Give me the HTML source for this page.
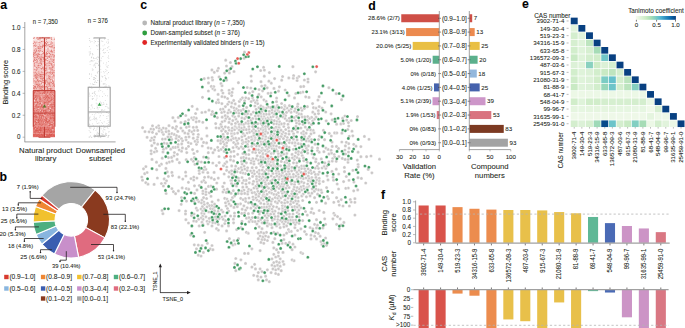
<!DOCTYPE html>
<html><head><meta charset="utf-8"><style>
html,body{margin:0;padding:0;background:#fff;}
svg{display:block;font-family:"Liberation Sans",sans-serif;}
text{stroke:#231f20;stroke-width:0.07px;}
</style></head><body>
<svg width="685" height="328" viewBox="0 0 685 328" fill="#231f20">
<rect width="685" height="328" fill="#fff"/>
<text x="0.3" y="8.8" font-size="12.3" fill="#000" font-weight="bold">a</text>
<line x1="24.8" y1="22" x2="24.8" y2="142.2" stroke="#8c8c8c" stroke-width="0.8"/>
<line x1="24.8" y1="141.9" x2="115.6" y2="141.9" stroke="#8c8c8c" stroke-width="0.8"/>
<line x1="22.6" y1="137.2" x2="24.8" y2="137.2" stroke="#8c8c8c" stroke-width="0.6"/>
<text x="20.6" y="139.47" font-size="6.3" text-anchor="end">0</text>
<line x1="22.6" y1="115.26" x2="24.8" y2="115.26" stroke="#8c8c8c" stroke-width="0.6"/>
<text x="20.6" y="117.53" font-size="6.3" text-anchor="end">0.2</text>
<line x1="22.6" y1="93.32" x2="24.8" y2="93.32" stroke="#8c8c8c" stroke-width="0.6"/>
<text x="20.6" y="95.59" font-size="6.3" text-anchor="end">0.4</text>
<line x1="22.6" y1="71.38" x2="24.8" y2="71.38" stroke="#8c8c8c" stroke-width="0.6"/>
<text x="20.6" y="73.65" font-size="6.3" text-anchor="end">0.6</text>
<line x1="22.6" y1="49.44" x2="24.8" y2="49.44" stroke="#8c8c8c" stroke-width="0.6"/>
<text x="20.6" y="51.71" font-size="6.3" text-anchor="end">0.8</text>
<line x1="22.6" y1="27.5" x2="24.8" y2="27.5" stroke="#8c8c8c" stroke-width="0.6"/>
<text x="20.6" y="29.77" font-size="6.3" text-anchor="end">1.0</text>
<text x="8.4" y="82.2" font-size="7.4" text-anchor="middle" transform="rotate(-90 8.4 82.2)">Binding score</text>
<text x="45.35" y="23.68" font-size="6.6" text-anchor="middle" textLength="25" lengthAdjust="spacingAndGlyphs">n = 7,350</text>
<text x="97.8" y="23.28" font-size="6.6" text-anchor="middle" textLength="20.2" lengthAdjust="spacingAndGlyphs">n = 376</text>
<text x="45.7" y="152.61" font-size="7.8" text-anchor="middle">Natural product</text>
<text x="45.7" y="160.61" font-size="7.8" text-anchor="middle">library</text>
<text x="100.5" y="152.61" font-size="7.8" text-anchor="middle">Downsampled</text>
<text x="100.5" y="160.61" font-size="7.8" text-anchor="middle">subset</text>
<rect x="32.9" y="133.36" width="22.1" height="3.84" fill="#e1625a" opacity="0.9"/>
<rect x="32.9" y="126.23" width="22.1" height="7.13" fill="#e1625a" opacity="0.82"/>
<rect x="32.9" y="113.07" width="22.1" height="13.16" fill="#e1625a" opacity="0.72"/>
<rect x="32.9" y="90.03" width="22.1" height="23.04" fill="#e1625a" opacity="0.65"/>
<rect x="32.9" y="71.38" width="22.1" height="18.65" fill="#e1625a" opacity="0.4"/>
<rect x="32.9" y="49.44" width="22.1" height="21.94" fill="#e1625a" opacity="0.34"/>
<rect x="32.9" y="40.66" width="22.1" height="8.78" fill="#e1625a" opacity="0.28"/>
<rect x="32.9" y="36.82" width="22.1" height="3.84" fill="#e1625a" opacity="0.16"/>
<path d="M43.7 136.1h1.0v1.0h-1.0zM45.1 134.7h1.0v1.0h-1.0zM49.4 128.5h1.0v1.0h-1.0zM44.9 127.6h1.0v1.0h-1.0zM34.6 127.9h1.0v1.0h-1.0zM51.7 129.7h1.0v1.0h-1.0zM52.4 129.0h1.0v1.0h-1.0zM38.7 131.1h1.0v1.0h-1.0zM50.4 126.3h1.0v1.0h-1.0zM52.7 122.6h1.0v1.0h-1.0zM50.8 122.4h1.0v1.0h-1.0zM50.1 120.4h1.0v1.0h-1.0zM40.3 116.3h1.0v1.0h-1.0zM47.8 123.7h1.0v1.0h-1.0zM44.4 114.9h1.0v1.0h-1.0zM50.5 119.0h1.0v1.0h-1.0zM42.8 113.6h1.0v1.0h-1.0zM43.7 122.1h1.0v1.0h-1.0zM41.8 117.4h1.0v1.0h-1.0zM46.8 113.3h1.0v1.0h-1.0zM43.6 124.6h1.0v1.0h-1.0zM47.5 118.0h1.0v1.0h-1.0zM47.4 120.4h1.0v1.0h-1.0zM37.3 115.6h1.0v1.0h-1.0zM51.6 116.3h1.0v1.0h-1.0zM34.5 123.2h1.0v1.0h-1.0zM43.9 117.5h1.0v1.0h-1.0zM43.7 122.0h1.0v1.0h-1.0zM36.5 121.0h1.0v1.0h-1.0zM43.6 93.9h1.0v1.0h-1.0zM37.4 99.6h1.0v1.0h-1.0zM44.4 95.5h1.0v1.0h-1.0zM38.6 101.7h1.0v1.0h-1.0zM42.9 98.9h1.0v1.0h-1.0zM35.1 98.3h1.0v1.0h-1.0zM46.7 102.0h1.0v1.0h-1.0zM44.4 108.6h1.0v1.0h-1.0zM48.2 105.1h1.0v1.0h-1.0zM33.5 96.8h1.0v1.0h-1.0zM47.3 93.5h1.0v1.0h-1.0zM52.2 93.2h1.0v1.0h-1.0zM51.4 94.8h1.0v1.0h-1.0zM50.7 108.7h1.0v1.0h-1.0zM40.0 109.6h1.0v1.0h-1.0zM36.3 108.7h1.0v1.0h-1.0zM41.0 99.7h1.0v1.0h-1.0zM35.4 103.3h1.0v1.0h-1.0zM38.6 104.7h1.0v1.0h-1.0zM49.8 103.3h1.0v1.0h-1.0zM33.1 111.0h1.0v1.0h-1.0zM52.3 104.2h1.0v1.0h-1.0zM40.9 102.4h1.0v1.0h-1.0zM51.5 100.2h1.0v1.0h-1.0zM49.3 103.2h1.0v1.0h-1.0zM41.8 110.6h1.0v1.0h-1.0zM41.5 103.4h1.0v1.0h-1.0zM34.0 100.4h1.0v1.0h-1.0zM33.7 105.5h1.0v1.0h-1.0zM32.9 91.0h1.0v1.0h-1.0zM35.2 93.1h1.0v1.0h-1.0zM43.6 97.9h1.0v1.0h-1.0zM38.6 111.7h1.0v1.0h-1.0zM52.1 104.5h1.0v1.0h-1.0zM49.8 108.1h1.0v1.0h-1.0zM38.1 107.8h1.0v1.0h-1.0zM38.0 102.4h1.0v1.0h-1.0zM40.4 93.5h1.0v1.0h-1.0zM49.3 110.2h1.0v1.0h-1.0zM39.5 109.4h1.0v1.0h-1.0zM40.2 104.5h1.0v1.0h-1.0zM53.9 107.0h1.0v1.0h-1.0zM34.1 99.6h1.0v1.0h-1.0zM40.8 96.5h1.0v1.0h-1.0zM47.3 76.6h1.0v1.0h-1.0zM52.6 78.9h1.0v1.0h-1.0zM42.9 71.8h1.0v1.0h-1.0zM33.3 73.2h1.0v1.0h-1.0zM46.1 83.1h1.0v1.0h-1.0zM53.0 79.0h1.0v1.0h-1.0zM47.8 77.4h1.0v1.0h-1.0zM34.5 78.8h1.0v1.0h-1.0zM47.7 85.6h1.0v1.0h-1.0zM53.0 86.1h1.0v1.0h-1.0zM44.8 81.1h1.0v1.0h-1.0zM43.5 79.8h1.0v1.0h-1.0zM47.3 81.5h1.0v1.0h-1.0zM51.0 79.3h1.0v1.0h-1.0zM42.8 86.1h1.0v1.0h-1.0zM47.2 80.6h1.0v1.0h-1.0zM44.8 85.6h1.0v1.0h-1.0zM45.7 76.0h1.0v1.0h-1.0zM39.4 82.1h1.0v1.0h-1.0zM33.9 79.5h1.0v1.0h-1.0zM51.7 75.5h1.0v1.0h-1.0zM42.3 83.7h1.0v1.0h-1.0zM52.4 83.7h1.0v1.0h-1.0zM46.1 78.2h1.0v1.0h-1.0zM42.1 82.7h1.0v1.0h-1.0zM40.4 85.2h1.0v1.0h-1.0zM33.1 84.6h1.0v1.0h-1.0zM48.6 76.8h1.0v1.0h-1.0zM33.2 77.3h1.0v1.0h-1.0zM45.3 85.3h1.0v1.0h-1.0zM51.3 75.1h1.0v1.0h-1.0zM34.6 73.5h1.0v1.0h-1.0zM53.8 82.8h1.0v1.0h-1.0zM35.6 83.6h1.0v1.0h-1.0zM53.1 82.1h1.0v1.0h-1.0zM37.8 88.4h1.0v1.0h-1.0zM47.7 74.6h1.0v1.0h-1.0zM49.1 80.3h1.0v1.0h-1.0zM45.0 77.8h1.0v1.0h-1.0zM39.1 78.8h1.0v1.0h-1.0zM44.0 79.5h1.0v1.0h-1.0zM51.2 72.7h1.0v1.0h-1.0zM37.1 87.9h1.0v1.0h-1.0zM45.7 82.3h1.0v1.0h-1.0zM46.2 75.7h1.0v1.0h-1.0zM41.2 75.1h1.0v1.0h-1.0zM36.1 88.8h1.0v1.0h-1.0zM48.6 86.9h1.0v1.0h-1.0zM32.9 83.8h1.0v1.0h-1.0zM39.4 80.2h1.0v1.0h-1.0zM47.1 71.9h1.0v1.0h-1.0zM40.7 81.2h1.0v1.0h-1.0zM51.3 80.4h1.0v1.0h-1.0zM39.6 82.0h1.0v1.0h-1.0zM45.2 76.5h1.0v1.0h-1.0zM45.8 57.5h1.0v1.0h-1.0zM47.9 55.6h1.0v1.0h-1.0zM42.1 66.4h1.0v1.0h-1.0zM34.9 58.0h1.0v1.0h-1.0zM36.1 60.6h1.0v1.0h-1.0zM48.4 70.1h1.0v1.0h-1.0zM48.8 52.5h1.0v1.0h-1.0zM42.1 60.8h1.0v1.0h-1.0zM46.4 64.1h1.0v1.0h-1.0zM53.4 69.2h1.0v1.0h-1.0zM37.3 52.8h1.0v1.0h-1.0zM53.4 52.8h1.0v1.0h-1.0zM53.3 51.9h1.0v1.0h-1.0zM45.2 52.2h1.0v1.0h-1.0zM35.7 56.4h1.0v1.0h-1.0zM49.6 64.1h1.0v1.0h-1.0zM39.6 52.3h1.0v1.0h-1.0zM40.5 53.1h1.0v1.0h-1.0zM37.9 59.8h1.0v1.0h-1.0zM43.2 68.8h1.0v1.0h-1.0zM34.8 60.6h1.0v1.0h-1.0zM44.8 52.4h1.0v1.0h-1.0zM40.5 52.3h1.0v1.0h-1.0zM51.8 56.7h1.0v1.0h-1.0zM34.3 59.4h1.0v1.0h-1.0zM44.1 68.0h1.0v1.0h-1.0zM48.1 53.8h1.0v1.0h-1.0zM52.1 49.5h1.0v1.0h-1.0zM47.6 50.3h1.0v1.0h-1.0zM50.2 53.4h1.0v1.0h-1.0zM49.7 66.5h1.0v1.0h-1.0zM49.2 51.7h1.0v1.0h-1.0zM41.3 51.6h1.0v1.0h-1.0zM48.1 70.3h1.0v1.0h-1.0zM43.9 63.1h1.0v1.0h-1.0zM47.0 52.4h1.0v1.0h-1.0zM40.7 56.7h1.0v1.0h-1.0zM48.7 58.1h1.0v1.0h-1.0zM40.7 60.9h1.0v1.0h-1.0zM37.2 50.8h1.0v1.0h-1.0zM37.9 49.9h1.0v1.0h-1.0zM47.0 59.0h1.0v1.0h-1.0zM45.9 61.3h1.0v1.0h-1.0zM34.0 66.5h1.0v1.0h-1.0zM50.2 49.6h1.0v1.0h-1.0zM42.0 65.9h1.0v1.0h-1.0zM41.7 67.4h1.0v1.0h-1.0zM47.6 63.3h1.0v1.0h-1.0zM52.0 65.8h1.0v1.0h-1.0zM45.2 50.4h1.0v1.0h-1.0zM42.5 63.9h1.0v1.0h-1.0zM43.9 61.7h1.0v1.0h-1.0zM40.3 67.1h1.0v1.0h-1.0zM38.1 62.8h1.0v1.0h-1.0zM42.1 52.6h1.0v1.0h-1.0zM33.3 52.2h1.0v1.0h-1.0zM39.0 59.3h1.0v1.0h-1.0zM33.5 50.8h1.0v1.0h-1.0zM49.7 70.0h1.0v1.0h-1.0zM42.0 59.3h1.0v1.0h-1.0zM45.6 51.5h1.0v1.0h-1.0zM44.3 63.6h1.0v1.0h-1.0zM52.8 62.9h1.0v1.0h-1.0zM44.4 58.0h1.0v1.0h-1.0zM52.1 60.4h1.0v1.0h-1.0zM43.0 64.8h1.0v1.0h-1.0zM42.1 50.8h1.0v1.0h-1.0zM45.4 67.6h1.0v1.0h-1.0zM40.7 51.5h1.0v1.0h-1.0zM35.1 68.4h1.0v1.0h-1.0zM35.2 63.1h1.0v1.0h-1.0zM40.5 45.7h1.0v1.0h-1.0zM45.4 47.6h1.0v1.0h-1.0zM42.0 45.0h1.0v1.0h-1.0zM41.8 46.5h1.0v1.0h-1.0zM46.1 48.0h1.0v1.0h-1.0zM35.9 41.7h1.0v1.0h-1.0zM39.1 45.5h1.0v1.0h-1.0zM46.4 42.2h1.0v1.0h-1.0zM38.6 45.3h1.0v1.0h-1.0zM38.5 47.1h1.0v1.0h-1.0zM35.1 46.7h1.0v1.0h-1.0zM36.1 46.2h1.0v1.0h-1.0zM49.4 48.0h1.0v1.0h-1.0zM51.9 40.9h1.0v1.0h-1.0zM46.8 47.7h1.0v1.0h-1.0zM49.2 44.2h1.0v1.0h-1.0zM48.7 42.9h1.0v1.0h-1.0zM49.8 43.8h1.0v1.0h-1.0zM53.4 40.9h1.0v1.0h-1.0zM45.2 41.7h1.0v1.0h-1.0zM49.1 48.2h1.0v1.0h-1.0zM43.3 47.2h1.0v1.0h-1.0zM37.8 40.9h1.0v1.0h-1.0zM49.8 43.9h1.0v1.0h-1.0zM34.7 45.9h1.0v1.0h-1.0zM51.9 41.3h1.0v1.0h-1.0zM45.8 43.4h1.0v1.0h-1.0zM34.4 37.5h1.0v1.0h-1.0zM43.9 38.9h1.0v1.0h-1.0zM44.6 36.9h1.0v1.0h-1.0zM53.0 38.1h1.0v1.0h-1.0zM44.3 37.4h1.0v1.0h-1.0zM38.0 37.4h1.0v1.0h-1.0zM45.7 39.4h1.0v1.0h-1.0zM38.5 37.8h1.0v1.0h-1.0zM39.0 36.9h1.0v1.0h-1.0zM33.1 39.0h1.0v1.0h-1.0z" fill="#fff" opacity="0.6"/>
<path d="M35.7 135.8h0.9v0.9h-0.9zM49.0 134.1h0.9v0.9h-0.9zM43.4 134.6h0.9v0.9h-0.9zM46.6 135.6h0.9v0.9h-0.9zM34.9 133.4h0.9v0.9h-0.9zM50.5 134.6h0.9v0.9h-0.9zM49.0 133.4h0.9v0.9h-0.9zM42.3 135.4h0.9v0.9h-0.9zM37.7 136.0h0.9v0.9h-0.9zM51.9 133.4h0.9v0.9h-0.9zM33.4 134.9h0.9v0.9h-0.9zM52.7 134.4h0.9v0.9h-0.9zM37.5 134.6h0.9v0.9h-0.9zM33.5 134.0h0.9v0.9h-0.9zM42.1 134.8h0.9v0.9h-0.9zM37.8 134.0h0.9v0.9h-0.9zM37.5 134.7h0.9v0.9h-0.9zM39.0 133.4h0.9v0.9h-0.9zM50.6 134.9h0.9v0.9h-0.9zM46.5 133.9h0.9v0.9h-0.9zM53.8 135.8h0.9v0.9h-0.9zM35.5 134.3h0.9v0.9h-0.9zM48.1 135.4h0.9v0.9h-0.9zM52.7 134.6h0.9v0.9h-0.9zM50.4 135.3h0.9v0.9h-0.9zM39.3 135.0h0.9v0.9h-0.9zM51.5 135.8h0.9v0.9h-0.9zM43.6 135.0h0.9v0.9h-0.9zM33.6 134.0h0.9v0.9h-0.9zM49.7 134.5h0.9v0.9h-0.9zM36.6 134.9h0.9v0.9h-0.9zM47.7 135.3h0.9v0.9h-0.9zM40.8 134.6h0.9v0.9h-0.9zM43.6 135.6h0.9v0.9h-0.9zM43.9 134.5h0.9v0.9h-0.9zM43.2 133.4h0.9v0.9h-0.9zM33.8 135.4h0.9v0.9h-0.9zM53.6 135.0h0.9v0.9h-0.9zM41.2 133.8h0.9v0.9h-0.9zM43.5 136.1h0.9v0.9h-0.9zM49.2 134.9h0.9v0.9h-0.9zM51.1 134.0h0.9v0.9h-0.9zM38.6 129.6h0.9v0.9h-0.9zM53.1 126.3h0.9v0.9h-0.9zM49.4 131.3h0.9v0.9h-0.9zM51.6 130.8h0.9v0.9h-0.9zM50.0 129.4h0.9v0.9h-0.9zM44.7 128.8h0.9v0.9h-0.9zM34.1 131.6h0.9v0.9h-0.9zM44.9 127.5h0.9v0.9h-0.9zM43.5 129.2h0.9v0.9h-0.9zM40.4 128.4h0.9v0.9h-0.9zM44.3 130.1h0.9v0.9h-0.9zM45.8 129.0h0.9v0.9h-0.9zM33.5 127.6h0.9v0.9h-0.9zM36.6 129.8h0.9v0.9h-0.9zM51.1 131.1h0.9v0.9h-0.9zM49.7 131.2h0.9v0.9h-0.9zM38.3 131.4h0.9v0.9h-0.9zM47.1 126.7h0.9v0.9h-0.9zM33.3 126.3h0.9v0.9h-0.9zM48.8 127.8h0.9v0.9h-0.9zM35.2 130.1h0.9v0.9h-0.9zM40.2 126.7h0.9v0.9h-0.9zM36.3 129.5h0.9v0.9h-0.9zM36.4 127.9h0.9v0.9h-0.9zM47.9 129.0h0.9v0.9h-0.9zM39.7 129.1h0.9v0.9h-0.9zM33.4 128.6h0.9v0.9h-0.9zM41.8 127.4h0.9v0.9h-0.9zM35.2 131.7h0.9v0.9h-0.9zM43.7 127.5h0.9v0.9h-0.9zM45.7 131.2h0.9v0.9h-0.9zM33.3 126.3h0.9v0.9h-0.9zM36.0 130.6h0.9v0.9h-0.9zM36.3 130.5h0.9v0.9h-0.9zM47.2 129.6h0.9v0.9h-0.9zM37.6 132.2h0.9v0.9h-0.9zM49.7 129.4h0.9v0.9h-0.9zM37.6 130.2h0.9v0.9h-0.9zM41.2 129.8h0.9v0.9h-0.9zM39.7 130.1h0.9v0.9h-0.9zM34.1 128.1h0.9v0.9h-0.9zM53.3 131.6h0.9v0.9h-0.9zM39.4 131.5h0.9v0.9h-0.9zM39.4 132.0h0.9v0.9h-0.9zM48.6 128.8h0.9v0.9h-0.9zM38.2 126.3h0.9v0.9h-0.9zM51.4 126.5h0.9v0.9h-0.9zM50.2 132.1h0.9v0.9h-0.9zM44.9 127.3h0.9v0.9h-0.9zM51.2 132.2h0.9v0.9h-0.9zM47.8 129.3h0.9v0.9h-0.9zM40.9 128.4h0.9v0.9h-0.9zM37.2 130.4h0.9v0.9h-0.9zM42.0 127.4h0.9v0.9h-0.9zM35.1 130.3h0.9v0.9h-0.9zM39.1 129.3h0.9v0.9h-0.9zM39.8 131.6h0.9v0.9h-0.9zM51.9 126.3h0.9v0.9h-0.9zM37.1 128.2h0.9v0.9h-0.9zM53.7 131.0h0.9v0.9h-0.9zM40.1 127.5h0.9v0.9h-0.9zM47.1 131.4h0.9v0.9h-0.9zM52.6 128.3h0.9v0.9h-0.9zM51.5 130.4h0.9v0.9h-0.9zM43.1 132.3h0.9v0.9h-0.9zM37.9 130.7h0.9v0.9h-0.9zM34.7 127.3h0.9v0.9h-0.9zM52.1 127.5h0.9v0.9h-0.9zM48.9 129.9h0.9v0.9h-0.9zM50.6 128.5h0.9v0.9h-0.9zM40.1 128.0h0.9v0.9h-0.9zM51.2 129.9h0.9v0.9h-0.9zM53.0 131.7h0.9v0.9h-0.9zM35.8 129.6h0.9v0.9h-0.9zM35.1 126.5h0.9v0.9h-0.9zM34.4 131.5h0.9v0.9h-0.9zM49.5 131.3h0.9v0.9h-0.9zM40.1 130.0h0.9v0.9h-0.9zM47.0 114.2h0.9v0.9h-0.9zM35.3 123.8h0.9v0.9h-0.9zM33.7 116.0h0.9v0.9h-0.9zM53.8 118.2h0.9v0.9h-0.9zM35.3 115.1h0.9v0.9h-0.9zM38.0 122.1h0.9v0.9h-0.9zM35.1 124.1h0.9v0.9h-0.9zM40.9 124.9h0.9v0.9h-0.9zM52.1 116.6h0.9v0.9h-0.9zM38.2 118.9h0.9v0.9h-0.9zM35.0 121.0h0.9v0.9h-0.9zM33.7 113.2h0.9v0.9h-0.9zM53.6 116.7h0.9v0.9h-0.9zM45.5 118.5h0.9v0.9h-0.9zM39.5 113.8h0.9v0.9h-0.9zM52.2 124.9h0.9v0.9h-0.9zM53.4 114.4h0.9v0.9h-0.9zM37.4 120.6h0.9v0.9h-0.9zM53.6 119.7h0.9v0.9h-0.9zM47.4 121.1h0.9v0.9h-0.9zM38.4 119.7h0.9v0.9h-0.9zM39.4 116.1h0.9v0.9h-0.9zM34.6 116.5h0.9v0.9h-0.9zM53.6 118.5h0.9v0.9h-0.9zM46.7 120.9h0.9v0.9h-0.9zM52.7 117.8h0.9v0.9h-0.9zM39.4 117.0h0.9v0.9h-0.9zM39.6 123.4h0.9v0.9h-0.9zM51.8 116.7h0.9v0.9h-0.9zM40.0 119.7h0.9v0.9h-0.9zM45.1 120.3h0.9v0.9h-0.9zM38.1 113.3h0.9v0.9h-0.9zM38.0 113.9h0.9v0.9h-0.9zM44.5 113.9h0.9v0.9h-0.9zM34.5 120.8h0.9v0.9h-0.9zM39.0 122.7h0.9v0.9h-0.9zM43.3 123.6h0.9v0.9h-0.9zM36.2 119.2h0.9v0.9h-0.9zM49.7 114.0h0.9v0.9h-0.9zM52.9 115.2h0.9v0.9h-0.9zM49.3 125.0h0.9v0.9h-0.9zM50.2 117.0h0.9v0.9h-0.9zM35.2 119.3h0.9v0.9h-0.9zM52.3 116.6h0.9v0.9h-0.9zM51.8 114.8h0.9v0.9h-0.9zM52.1 113.5h0.9v0.9h-0.9zM39.6 124.1h0.9v0.9h-0.9zM49.9 124.1h0.9v0.9h-0.9zM50.6 122.1h0.9v0.9h-0.9zM47.5 115.2h0.9v0.9h-0.9zM42.0 115.0h0.9v0.9h-0.9zM48.0 121.2h0.9v0.9h-0.9zM38.2 113.8h0.9v0.9h-0.9zM53.2 122.9h0.9v0.9h-0.9zM44.5 119.7h0.9v0.9h-0.9zM50.9 118.6h0.9v0.9h-0.9zM41.2 117.2h0.9v0.9h-0.9zM38.3 113.4h0.9v0.9h-0.9zM46.5 118.1h0.9v0.9h-0.9zM44.9 113.8h0.9v0.9h-0.9zM40.4 114.7h0.9v0.9h-0.9zM35.5 116.2h0.9v0.9h-0.9zM50.4 117.9h0.9v0.9h-0.9zM41.4 120.5h0.9v0.9h-0.9zM37.8 113.2h0.9v0.9h-0.9zM44.1 119.2h0.9v0.9h-0.9zM46.6 118.4h0.9v0.9h-0.9zM47.4 122.0h0.9v0.9h-0.9zM37.9 119.1h0.9v0.9h-0.9zM43.0 115.8h0.9v0.9h-0.9zM41.6 119.9h0.9v0.9h-0.9zM52.0 124.2h0.9v0.9h-0.9zM38.7 120.9h0.9v0.9h-0.9zM33.9 113.9h0.9v0.9h-0.9zM43.7 123.7h0.9v0.9h-0.9zM36.3 122.4h0.9v0.9h-0.9zM51.5 116.9h0.9v0.9h-0.9zM47.5 123.4h0.9v0.9h-0.9zM40.7 121.6h0.9v0.9h-0.9zM48.4 120.3h0.9v0.9h-0.9zM51.0 124.0h0.9v0.9h-0.9zM53.2 120.0h0.9v0.9h-0.9zM36.6 116.1h0.9v0.9h-0.9zM37.5 120.0h0.9v0.9h-0.9zM48.9 113.7h0.9v0.9h-0.9zM47.3 121.8h0.9v0.9h-0.9zM40.2 119.3h0.9v0.9h-0.9zM36.4 121.9h0.9v0.9h-0.9zM33.8 125.0h0.9v0.9h-0.9zM49.9 120.7h0.9v0.9h-0.9zM38.5 124.2h0.9v0.9h-0.9zM53.1 114.8h0.9v0.9h-0.9zM49.3 123.3h0.9v0.9h-0.9zM46.8 121.6h0.9v0.9h-0.9zM42.3 124.3h0.9v0.9h-0.9zM53.4 117.7h0.9v0.9h-0.9zM49.8 118.3h0.9v0.9h-0.9zM36.4 117.0h0.9v0.9h-0.9zM35.6 124.1h0.9v0.9h-0.9zM53.1 114.5h0.9v0.9h-0.9zM45.6 118.0h0.9v0.9h-0.9zM35.4 116.7h0.9v0.9h-0.9zM38.1 122.2h0.9v0.9h-0.9zM33.0 115.4h0.9v0.9h-0.9zM42.2 113.3h0.9v0.9h-0.9zM46.1 120.4h0.9v0.9h-0.9zM50.5 115.6h0.9v0.9h-0.9zM38.9 119.7h0.9v0.9h-0.9zM38.7 120.2h0.9v0.9h-0.9zM38.2 121.4h0.9v0.9h-0.9zM49.6 122.9h0.9v0.9h-0.9zM53.4 119.7h0.9v0.9h-0.9zM43.3 123.5h0.9v0.9h-0.9zM49.1 120.0h0.9v0.9h-0.9zM41.0 116.5h0.9v0.9h-0.9zM35.2 122.9h0.9v0.9h-0.9zM35.4 122.2h0.9v0.9h-0.9zM44.4 124.8h0.9v0.9h-0.9zM49.0 124.9h0.9v0.9h-0.9zM35.8 119.2h0.9v0.9h-0.9zM45.0 116.9h0.9v0.9h-0.9zM43.5 117.4h0.9v0.9h-0.9zM44.0 113.1h0.9v0.9h-0.9zM42.2 118.5h0.9v0.9h-0.9zM39.3 117.9h0.9v0.9h-0.9zM49.4 121.4h0.9v0.9h-0.9zM43.3 120.9h0.9v0.9h-0.9zM40.9 115.5h0.9v0.9h-0.9zM33.0 116.4h0.9v0.9h-0.9zM45.5 123.8h0.9v0.9h-0.9zM50.4 119.3h0.9v0.9h-0.9zM53.7 118.7h0.9v0.9h-0.9zM50.5 118.0h0.9v0.9h-0.9zM48.6 125.1h0.9v0.9h-0.9zM39.3 115.1h0.9v0.9h-0.9zM46.0 119.5h0.9v0.9h-0.9zM40.5 113.1h0.9v0.9h-0.9zM41.1 118.2h0.9v0.9h-0.9zM41.5 123.5h0.9v0.9h-0.9zM45.2 122.0h0.9v0.9h-0.9zM51.8 122.2h0.9v0.9h-0.9zM43.3 122.1h0.9v0.9h-0.9zM46.4 121.0h0.9v0.9h-0.9zM46.2 118.0h0.9v0.9h-0.9zM46.2 120.8h0.9v0.9h-0.9zM48.0 108.0h0.9v0.9h-0.9zM38.6 103.5h0.9v0.9h-0.9zM37.8 102.4h0.9v0.9h-0.9zM36.5 107.4h0.9v0.9h-0.9zM51.2 97.3h0.9v0.9h-0.9zM37.6 111.3h0.9v0.9h-0.9zM47.8 108.6h0.9v0.9h-0.9zM33.5 109.8h0.9v0.9h-0.9zM46.0 97.0h0.9v0.9h-0.9zM42.0 106.8h0.9v0.9h-0.9zM49.5 94.2h0.9v0.9h-0.9zM46.1 93.7h0.9v0.9h-0.9zM53.4 99.8h0.9v0.9h-0.9zM52.2 106.1h0.9v0.9h-0.9zM45.7 95.8h0.9v0.9h-0.9zM44.0 93.1h0.9v0.9h-0.9zM35.8 105.8h0.9v0.9h-0.9zM40.5 106.6h0.9v0.9h-0.9zM38.0 105.9h0.9v0.9h-0.9zM48.1 96.8h0.9v0.9h-0.9zM35.1 98.8h0.9v0.9h-0.9zM43.3 92.2h0.9v0.9h-0.9zM36.8 91.2h0.9v0.9h-0.9zM45.5 109.6h0.9v0.9h-0.9zM37.5 90.8h0.9v0.9h-0.9zM47.8 108.0h0.9v0.9h-0.9zM53.2 103.5h0.9v0.9h-0.9zM40.1 108.5h0.9v0.9h-0.9zM35.4 105.3h0.9v0.9h-0.9zM34.9 98.8h0.9v0.9h-0.9zM43.3 98.4h0.9v0.9h-0.9zM36.5 95.1h0.9v0.9h-0.9zM50.2 100.2h0.9v0.9h-0.9zM45.1 94.7h0.9v0.9h-0.9zM48.0 97.3h0.9v0.9h-0.9zM45.4 110.1h0.9v0.9h-0.9zM53.9 91.0h0.9v0.9h-0.9zM49.7 108.9h0.9v0.9h-0.9zM39.6 98.5h0.9v0.9h-0.9zM45.1 110.3h0.9v0.9h-0.9zM41.3 109.4h0.9v0.9h-0.9zM48.9 93.4h0.9v0.9h-0.9zM52.2 90.4h0.9v0.9h-0.9zM36.0 104.7h0.9v0.9h-0.9zM34.1 98.4h0.9v0.9h-0.9zM35.6 100.2h0.9v0.9h-0.9zM50.6 110.0h0.9v0.9h-0.9zM33.6 91.4h0.9v0.9h-0.9zM50.6 91.0h0.9v0.9h-0.9zM38.7 92.6h0.9v0.9h-0.9zM34.8 90.6h0.9v0.9h-0.9zM46.4 106.4h0.9v0.9h-0.9zM47.4 108.7h0.9v0.9h-0.9zM46.9 98.6h0.9v0.9h-0.9zM46.2 111.4h0.9v0.9h-0.9zM46.4 95.4h0.9v0.9h-0.9zM34.2 110.6h0.9v0.9h-0.9zM45.4 97.7h0.9v0.9h-0.9zM45.7 102.4h0.9v0.9h-0.9zM43.9 91.4h0.9v0.9h-0.9zM40.4 99.1h0.9v0.9h-0.9zM37.1 109.4h0.9v0.9h-0.9zM41.8 104.6h0.9v0.9h-0.9zM48.0 106.4h0.9v0.9h-0.9zM48.1 106.6h0.9v0.9h-0.9zM38.2 111.5h0.9v0.9h-0.9zM36.1 110.3h0.9v0.9h-0.9zM50.9 108.8h0.9v0.9h-0.9zM34.0 92.0h0.9v0.9h-0.9zM50.1 100.4h0.9v0.9h-0.9zM40.7 111.7h0.9v0.9h-0.9zM33.7 101.7h0.9v0.9h-0.9zM42.3 92.9h0.9v0.9h-0.9zM41.2 105.6h0.9v0.9h-0.9zM51.5 90.6h0.9v0.9h-0.9zM44.0 92.0h0.9v0.9h-0.9zM49.8 91.9h0.9v0.9h-0.9zM33.6 98.5h0.9v0.9h-0.9zM48.4 96.9h0.9v0.9h-0.9zM35.6 107.5h0.9v0.9h-0.9zM49.9 108.9h0.9v0.9h-0.9zM39.3 99.4h0.9v0.9h-0.9zM38.1 102.3h0.9v0.9h-0.9zM39.9 97.5h0.9v0.9h-0.9zM49.4 111.1h0.9v0.9h-0.9zM45.2 92.3h0.9v0.9h-0.9zM46.7 99.9h0.9v0.9h-0.9zM53.7 105.9h0.9v0.9h-0.9zM50.5 105.5h0.9v0.9h-0.9zM44.2 109.8h0.9v0.9h-0.9zM50.4 96.4h0.9v0.9h-0.9zM36.2 98.2h0.9v0.9h-0.9zM43.9 92.2h0.9v0.9h-0.9zM40.2 102.7h0.9v0.9h-0.9zM33.8 108.0h0.9v0.9h-0.9zM46.6 96.9h0.9v0.9h-0.9zM39.2 97.8h0.9v0.9h-0.9zM39.8 106.5h0.9v0.9h-0.9zM43.5 101.6h0.9v0.9h-0.9zM36.0 110.2h0.9v0.9h-0.9zM39.8 97.2h0.9v0.9h-0.9zM34.4 111.6h0.9v0.9h-0.9zM43.0 110.1h0.9v0.9h-0.9zM52.5 111.4h0.9v0.9h-0.9zM50.1 110.4h0.9v0.9h-0.9zM52.4 107.7h0.9v0.9h-0.9zM35.7 101.6h0.9v0.9h-0.9zM45.0 111.9h0.9v0.9h-0.9zM49.4 105.5h0.9v0.9h-0.9zM48.7 98.0h0.9v0.9h-0.9zM52.8 104.2h0.9v0.9h-0.9zM41.4 100.3h0.9v0.9h-0.9zM53.6 101.8h0.9v0.9h-0.9zM36.4 93.3h0.9v0.9h-0.9zM47.4 102.4h0.9v0.9h-0.9zM52.0 94.1h0.9v0.9h-0.9zM41.6 106.1h0.9v0.9h-0.9zM34.0 92.2h0.9v0.9h-0.9zM44.4 95.9h0.9v0.9h-0.9zM35.2 95.8h0.9v0.9h-0.9zM46.2 101.6h0.9v0.9h-0.9zM34.6 91.6h0.9v0.9h-0.9zM50.8 104.2h0.9v0.9h-0.9zM36.6 109.0h0.9v0.9h-0.9zM33.4 98.1h0.9v0.9h-0.9zM50.8 105.7h0.9v0.9h-0.9zM38.9 109.7h0.9v0.9h-0.9zM45.5 109.1h0.9v0.9h-0.9zM51.7 99.4h0.9v0.9h-0.9zM47.2 102.0h0.9v0.9h-0.9zM52.8 107.6h0.9v0.9h-0.9zM48.2 108.0h0.9v0.9h-0.9zM54.0 95.7h0.9v0.9h-0.9zM37.1 106.5h0.9v0.9h-0.9zM49.2 101.4h0.9v0.9h-0.9zM43.2 98.9h0.9v0.9h-0.9zM51.5 107.6h0.9v0.9h-0.9zM45.2 90.9h0.9v0.9h-0.9zM50.9 100.1h0.9v0.9h-0.9zM36.9 96.6h0.9v0.9h-0.9zM47.5 90.2h0.9v0.9h-0.9zM35.4 96.7h0.9v0.9h-0.9zM51.6 106.5h0.9v0.9h-0.9zM53.4 102.0h0.9v0.9h-0.9zM45.0 102.2h0.9v0.9h-0.9zM44.0 102.0h0.9v0.9h-0.9zM50.2 111.0h0.9v0.9h-0.9zM41.5 103.9h0.9v0.9h-0.9zM39.4 96.7h0.9v0.9h-0.9zM43.6 102.9h0.9v0.9h-0.9zM44.5 111.5h0.9v0.9h-0.9zM36.3 104.1h0.9v0.9h-0.9zM53.9 106.3h0.9v0.9h-0.9zM44.8 98.1h0.9v0.9h-0.9zM41.4 110.7h0.9v0.9h-0.9zM51.8 104.8h0.9v0.9h-0.9zM51.9 110.4h0.9v0.9h-0.9zM50.8 98.5h0.9v0.9h-0.9zM42.7 107.6h0.9v0.9h-0.9zM40.8 106.5h0.9v0.9h-0.9zM43.1 97.4h0.9v0.9h-0.9zM42.5 92.6h0.9v0.9h-0.9zM40.4 99.2h0.9v0.9h-0.9zM33.3 93.8h0.9v0.9h-0.9zM38.4 108.9h0.9v0.9h-0.9zM45.3 96.4h0.9v0.9h-0.9zM54.0 95.7h0.9v0.9h-0.9zM43.7 106.3h0.9v0.9h-0.9zM47.5 99.6h0.9v0.9h-0.9zM49.3 100.7h0.9v0.9h-0.9zM48.0 100.9h0.9v0.9h-0.9zM53.4 105.8h0.9v0.9h-0.9zM34.8 92.9h0.9v0.9h-0.9zM53.3 95.1h0.9v0.9h-0.9zM33.5 95.6h0.9v0.9h-0.9zM43.0 111.0h0.9v0.9h-0.9zM41.3 106.0h0.9v0.9h-0.9zM50.5 92.0h0.9v0.9h-0.9zM45.8 112.0h0.9v0.9h-0.9zM44.5 101.8h0.9v0.9h-0.9zM40.2 110.9h0.9v0.9h-0.9zM53.4 92.3h0.9v0.9h-0.9zM44.6 99.3h0.9v0.9h-0.9zM47.1 92.6h0.9v0.9h-0.9zM38.5 96.2h0.9v0.9h-0.9zM43.0 107.5h0.9v0.9h-0.9zM51.0 107.4h0.9v0.9h-0.9zM47.2 92.0h0.9v0.9h-0.9zM41.1 104.8h0.9v0.9h-0.9zM39.1 101.2h0.9v0.9h-0.9zM52.0 92.6h0.9v0.9h-0.9zM50.9 92.4h0.9v0.9h-0.9zM41.1 110.0h0.9v0.9h-0.9zM37.1 101.5h0.9v0.9h-0.9zM41.7 109.6h0.9v0.9h-0.9zM53.8 96.4h0.9v0.9h-0.9zM43.3 109.8h0.9v0.9h-0.9zM44.4 94.8h0.9v0.9h-0.9zM48.9 97.5h0.9v0.9h-0.9zM43.2 90.2h0.9v0.9h-0.9zM53.8 104.5h0.9v0.9h-0.9zM52.4 111.4h0.9v0.9h-0.9zM38.5 101.9h0.9v0.9h-0.9zM42.2 106.8h0.9v0.9h-0.9zM50.7 95.1h0.9v0.9h-0.9zM38.7 105.6h0.9v0.9h-0.9zM41.6 92.9h0.9v0.9h-0.9zM37.0 102.4h0.9v0.9h-0.9zM45.5 111.2h0.9v0.9h-0.9zM44.1 103.4h0.9v0.9h-0.9zM36.0 99.1h0.9v0.9h-0.9zM38.8 105.4h0.9v0.9h-0.9zM38.5 94.8h0.9v0.9h-0.9zM40.7 100.4h0.9v0.9h-0.9zM40.0 103.4h0.9v0.9h-0.9zM36.7 109.4h0.9v0.9h-0.9zM47.5 101.8h0.9v0.9h-0.9zM34.1 97.2h0.9v0.9h-0.9zM47.5 104.2h0.9v0.9h-0.9zM50.0 109.7h0.9v0.9h-0.9zM39.6 100.9h0.9v0.9h-0.9zM39.9 92.8h0.9v0.9h-0.9zM35.9 95.7h0.9v0.9h-0.9zM34.8 101.9h0.9v0.9h-0.9zM47.7 102.4h0.9v0.9h-0.9zM47.3 95.0h0.9v0.9h-0.9zM37.1 102.5h0.9v0.9h-0.9zM51.6 99.3h0.9v0.9h-0.9zM33.0 90.5h0.9v0.9h-0.9zM39.3 103.6h0.9v0.9h-0.9zM34.7 95.0h0.9v0.9h-0.9zM47.3 111.7h0.9v0.9h-0.9zM40.1 103.3h0.9v0.9h-0.9zM43.8 90.5h0.9v0.9h-0.9zM39.9 93.1h0.9v0.9h-0.9zM38.2 107.0h0.9v0.9h-0.9zM47.3 90.9h0.9v0.9h-0.9zM34.5 106.0h0.9v0.9h-0.9zM35.1 97.0h0.9v0.9h-0.9zM38.6 91.1h0.9v0.9h-0.9zM33.6 93.1h0.9v0.9h-0.9zM41.3 110.6h0.9v0.9h-0.9zM46.4 95.4h0.9v0.9h-0.9zM47.2 96.1h0.9v0.9h-0.9zM43.8 97.1h0.9v0.9h-0.9zM52.9 97.8h0.9v0.9h-0.9zM49.9 104.2h0.9v0.9h-0.9zM50.7 103.4h0.9v0.9h-0.9zM51.3 99.0h0.9v0.9h-0.9zM47.2 103.7h0.9v0.9h-0.9zM44.0 102.5h0.9v0.9h-0.9zM44.2 98.7h0.9v0.9h-0.9zM51.9 104.0h0.9v0.9h-0.9zM44.5 91.2h0.9v0.9h-0.9zM50.1 79.2h0.9v0.9h-0.9zM47.7 82.6h0.9v0.9h-0.9zM43.9 72.4h0.9v0.9h-0.9zM47.1 87.1h0.9v0.9h-0.9zM36.5 82.7h0.9v0.9h-0.9zM43.2 77.4h0.9v0.9h-0.9zM47.9 88.6h0.9v0.9h-0.9zM33.4 87.2h0.9v0.9h-0.9zM41.0 86.1h0.9v0.9h-0.9zM36.6 84.0h0.9v0.9h-0.9zM35.0 77.3h0.9v0.9h-0.9zM53.4 83.0h0.9v0.9h-0.9zM49.5 79.5h0.9v0.9h-0.9zM42.8 80.1h0.9v0.9h-0.9zM49.2 84.1h0.9v0.9h-0.9zM37.0 79.2h0.9v0.9h-0.9zM44.3 81.5h0.9v0.9h-0.9zM52.5 86.2h0.9v0.9h-0.9zM36.1 78.0h0.9v0.9h-0.9zM35.2 71.8h0.9v0.9h-0.9zM34.5 74.6h0.9v0.9h-0.9zM49.1 83.2h0.9v0.9h-0.9zM49.7 76.5h0.9v0.9h-0.9zM36.2 88.5h0.9v0.9h-0.9zM50.3 88.1h0.9v0.9h-0.9zM33.3 78.4h0.9v0.9h-0.9zM46.3 84.4h0.9v0.9h-0.9zM52.2 80.9h0.9v0.9h-0.9zM41.1 71.5h0.9v0.9h-0.9zM49.9 88.7h0.9v0.9h-0.9zM52.0 83.1h0.9v0.9h-0.9zM40.1 75.6h0.9v0.9h-0.9zM49.3 87.9h0.9v0.9h-0.9zM53.2 74.5h0.9v0.9h-0.9zM45.3 80.4h0.9v0.9h-0.9zM41.9 85.4h0.9v0.9h-0.9zM52.6 84.2h0.9v0.9h-0.9zM47.7 83.6h0.9v0.9h-0.9zM46.7 80.9h0.9v0.9h-0.9zM38.1 85.1h0.9v0.9h-0.9zM35.4 82.7h0.9v0.9h-0.9zM41.1 81.3h0.9v0.9h-0.9zM46.4 79.8h0.9v0.9h-0.9zM53.5 75.6h0.9v0.9h-0.9zM33.2 88.2h0.9v0.9h-0.9zM39.5 76.3h0.9v0.9h-0.9zM41.7 81.9h0.9v0.9h-0.9zM53.7 83.9h0.9v0.9h-0.9zM39.6 80.8h0.9v0.9h-0.9zM42.4 80.2h0.9v0.9h-0.9zM41.7 74.3h0.9v0.9h-0.9zM41.2 78.2h0.9v0.9h-0.9zM37.1 85.8h0.9v0.9h-0.9zM40.5 74.1h0.9v0.9h-0.9zM44.9 86.3h0.9v0.9h-0.9zM49.4 82.4h0.9v0.9h-0.9zM48.3 77.3h0.9v0.9h-0.9zM35.9 75.9h0.9v0.9h-0.9zM40.3 76.3h0.9v0.9h-0.9zM42.8 74.0h0.9v0.9h-0.9zM35.6 75.8h0.9v0.9h-0.9zM37.0 85.5h0.9v0.9h-0.9zM44.2 74.9h0.9v0.9h-0.9zM42.0 86.8h0.9v0.9h-0.9zM45.1 81.2h0.9v0.9h-0.9zM41.2 74.8h0.9v0.9h-0.9zM46.1 72.7h0.9v0.9h-0.9zM49.5 72.4h0.9v0.9h-0.9zM48.6 78.1h0.9v0.9h-0.9zM47.3 81.8h0.9v0.9h-0.9zM35.6 80.9h0.9v0.9h-0.9zM34.5 75.6h0.9v0.9h-0.9zM41.0 76.4h0.9v0.9h-0.9zM46.9 88.8h0.9v0.9h-0.9zM40.4 86.2h0.9v0.9h-0.9zM37.6 83.9h0.9v0.9h-0.9zM40.2 80.8h0.9v0.9h-0.9zM34.8 86.0h0.9v0.9h-0.9zM37.3 79.6h0.9v0.9h-0.9zM39.0 85.7h0.9v0.9h-0.9zM45.4 82.2h0.9v0.9h-0.9zM48.8 75.9h0.9v0.9h-0.9zM34.1 86.0h0.9v0.9h-0.9zM39.6 85.7h0.9v0.9h-0.9zM53.1 82.5h0.9v0.9h-0.9zM35.1 86.5h0.9v0.9h-0.9zM46.3 75.7h0.9v0.9h-0.9zM37.3 80.3h0.9v0.9h-0.9zM35.5 87.4h0.9v0.9h-0.9zM47.8 85.8h0.9v0.9h-0.9zM41.0 87.7h0.9v0.9h-0.9zM35.7 84.0h0.9v0.9h-0.9zM38.3 71.4h0.9v0.9h-0.9zM35.5 74.9h0.9v0.9h-0.9zM49.0 78.1h0.9v0.9h-0.9zM43.1 82.2h0.9v0.9h-0.9zM38.5 82.6h0.9v0.9h-0.9zM47.1 87.6h0.9v0.9h-0.9zM43.5 86.5h0.9v0.9h-0.9zM53.3 85.0h0.9v0.9h-0.9zM41.8 76.2h0.9v0.9h-0.9zM35.0 86.0h0.9v0.9h-0.9zM35.6 81.3h0.9v0.9h-0.9zM42.5 72.2h0.9v0.9h-0.9zM37.4 85.9h0.9v0.9h-0.9zM44.3 87.7h0.9v0.9h-0.9zM52.1 73.0h0.9v0.9h-0.9zM47.2 72.1h0.9v0.9h-0.9zM41.8 79.2h0.9v0.9h-0.9zM53.1 81.9h0.9v0.9h-0.9zM36.9 80.4h0.9v0.9h-0.9zM43.9 74.9h0.9v0.9h-0.9zM40.5 86.9h0.9v0.9h-0.9zM53.6 85.1h0.9v0.9h-0.9zM34.3 87.4h0.9v0.9h-0.9zM42.6 86.1h0.9v0.9h-0.9zM36.6 74.0h0.9v0.9h-0.9zM52.0 76.4h0.9v0.9h-0.9zM33.8 80.2h0.9v0.9h-0.9zM53.8 86.1h0.9v0.9h-0.9zM41.3 88.9h0.9v0.9h-0.9zM49.7 86.2h0.9v0.9h-0.9zM46.5 78.3h0.9v0.9h-0.9zM52.0 79.7h0.9v0.9h-0.9zM52.6 81.1h0.9v0.9h-0.9zM52.1 79.8h0.9v0.9h-0.9zM41.9 81.8h0.9v0.9h-0.9zM39.6 74.0h0.9v0.9h-0.9zM45.3 86.4h0.9v0.9h-0.9zM38.8 86.6h0.9v0.9h-0.9zM49.5 85.1h0.9v0.9h-0.9zM41.7 89.0h0.9v0.9h-0.9zM49.6 81.5h0.9v0.9h-0.9zM35.3 81.5h0.9v0.9h-0.9zM33.2 87.3h0.9v0.9h-0.9zM40.0 77.9h0.9v0.9h-0.9zM44.5 82.6h0.9v0.9h-0.9zM45.2 79.9h0.9v0.9h-0.9zM46.3 86.3h0.9v0.9h-0.9zM42.3 80.2h0.9v0.9h-0.9zM50.0 71.4h0.9v0.9h-0.9zM36.3 77.1h0.9v0.9h-0.9zM37.4 87.2h0.9v0.9h-0.9zM36.0 73.3h0.9v0.9h-0.9zM39.6 80.4h0.9v0.9h-0.9zM50.2 89.0h0.9v0.9h-0.9zM50.9 82.1h0.9v0.9h-0.9zM33.7 72.5h0.9v0.9h-0.9zM46.2 85.9h0.9v0.9h-0.9zM38.5 88.5h0.9v0.9h-0.9zM44.5 81.5h0.9v0.9h-0.9zM46.0 72.7h0.9v0.9h-0.9zM36.5 87.9h0.9v0.9h-0.9zM38.5 72.9h0.9v0.9h-0.9zM38.9 84.2h0.9v0.9h-0.9zM38.4 75.1h0.9v0.9h-0.9zM38.7 79.9h0.9v0.9h-0.9zM48.5 76.7h0.9v0.9h-0.9zM51.3 88.6h0.9v0.9h-0.9zM50.2 72.7h0.9v0.9h-0.9zM39.6 87.7h0.9v0.9h-0.9zM51.0 73.7h0.9v0.9h-0.9zM42.2 77.8h0.9v0.9h-0.9zM48.7 71.9h0.9v0.9h-0.9zM39.6 84.6h0.9v0.9h-0.9zM51.6 72.1h0.9v0.9h-0.9zM45.3 83.1h0.9v0.9h-0.9zM51.3 78.9h0.9v0.9h-0.9zM53.4 74.9h0.9v0.9h-0.9zM35.3 73.7h0.9v0.9h-0.9zM45.3 73.5h0.9v0.9h-0.9zM38.5 74.8h0.9v0.9h-0.9zM34.1 88.4h0.9v0.9h-0.9zM40.0 88.4h0.9v0.9h-0.9zM48.2 75.3h0.9v0.9h-0.9zM52.6 71.5h0.9v0.9h-0.9zM53.6 71.9h0.9v0.9h-0.9zM38.2 81.1h0.9v0.9h-0.9zM33.1 84.9h0.9v0.9h-0.9zM34.7 85.8h0.9v0.9h-0.9zM33.6 80.7h0.9v0.9h-0.9zM37.3 76.5h0.9v0.9h-0.9zM43.2 77.9h0.9v0.9h-0.9zM41.2 82.9h0.9v0.9h-0.9zM37.0 74.6h0.9v0.9h-0.9zM44.5 55.2h0.9v0.9h-0.9zM33.1 55.9h0.9v0.9h-0.9zM34.7 59.7h0.9v0.9h-0.9zM43.5 67.7h0.9v0.9h-0.9zM48.7 65.1h0.9v0.9h-0.9zM53.8 55.0h0.9v0.9h-0.9zM40.8 54.3h0.9v0.9h-0.9zM35.1 60.2h0.9v0.9h-0.9zM43.7 52.2h0.9v0.9h-0.9zM52.4 69.9h0.9v0.9h-0.9zM34.3 49.5h0.9v0.9h-0.9zM34.2 64.8h0.9v0.9h-0.9zM50.9 50.8h0.9v0.9h-0.9zM33.1 60.7h0.9v0.9h-0.9zM39.9 49.8h0.9v0.9h-0.9zM33.1 53.9h0.9v0.9h-0.9zM37.1 55.6h0.9v0.9h-0.9zM44.5 54.7h0.9v0.9h-0.9zM37.8 53.9h0.9v0.9h-0.9zM51.6 54.4h0.9v0.9h-0.9zM44.6 58.9h0.9v0.9h-0.9zM39.9 58.0h0.9v0.9h-0.9zM33.2 53.3h0.9v0.9h-0.9zM46.4 65.4h0.9v0.9h-0.9zM37.5 53.1h0.9v0.9h-0.9zM52.0 51.5h0.9v0.9h-0.9zM49.7 67.8h0.9v0.9h-0.9zM36.0 66.9h0.9v0.9h-0.9zM36.1 50.3h0.9v0.9h-0.9zM38.9 56.7h0.9v0.9h-0.9zM45.3 58.7h0.9v0.9h-0.9zM49.6 63.4h0.9v0.9h-0.9zM35.4 53.7h0.9v0.9h-0.9zM48.6 51.9h0.9v0.9h-0.9zM53.0 66.4h0.9v0.9h-0.9zM37.5 55.4h0.9v0.9h-0.9zM38.2 58.3h0.9v0.9h-0.9zM38.1 50.1h0.9v0.9h-0.9zM38.2 53.5h0.9v0.9h-0.9zM40.3 59.0h0.9v0.9h-0.9zM51.3 63.3h0.9v0.9h-0.9zM45.9 67.5h0.9v0.9h-0.9zM41.1 58.4h0.9v0.9h-0.9zM38.1 66.8h0.9v0.9h-0.9zM51.4 68.5h0.9v0.9h-0.9zM45.7 51.8h0.9v0.9h-0.9zM34.4 66.1h0.9v0.9h-0.9zM51.6 60.6h0.9v0.9h-0.9zM52.3 68.9h0.9v0.9h-0.9zM48.8 57.2h0.9v0.9h-0.9zM42.5 56.8h0.9v0.9h-0.9zM41.3 59.3h0.9v0.9h-0.9zM33.3 52.1h0.9v0.9h-0.9zM36.4 61.3h0.9v0.9h-0.9zM51.3 64.3h0.9v0.9h-0.9zM36.1 59.0h0.9v0.9h-0.9zM46.1 52.3h0.9v0.9h-0.9zM34.6 62.3h0.9v0.9h-0.9zM37.9 62.9h0.9v0.9h-0.9zM36.5 67.4h0.9v0.9h-0.9zM39.4 58.4h0.9v0.9h-0.9zM44.5 68.0h0.9v0.9h-0.9zM52.2 67.1h0.9v0.9h-0.9zM47.3 50.9h0.9v0.9h-0.9zM36.8 60.6h0.9v0.9h-0.9zM53.7 64.6h0.9v0.9h-0.9zM36.9 56.9h0.9v0.9h-0.9zM53.2 60.1h0.9v0.9h-0.9zM51.3 67.4h0.9v0.9h-0.9zM49.4 62.6h0.9v0.9h-0.9zM46.9 56.6h0.9v0.9h-0.9zM35.4 69.3h0.9v0.9h-0.9zM33.6 55.1h0.9v0.9h-0.9zM45.9 69.6h0.9v0.9h-0.9zM37.3 54.6h0.9v0.9h-0.9zM50.8 56.3h0.9v0.9h-0.9zM41.4 57.0h0.9v0.9h-0.9zM33.9 69.2h0.9v0.9h-0.9zM47.6 49.6h0.9v0.9h-0.9zM34.9 52.3h0.9v0.9h-0.9zM40.7 68.1h0.9v0.9h-0.9zM35.9 54.2h0.9v0.9h-0.9zM39.5 60.1h0.9v0.9h-0.9zM51.9 60.7h0.9v0.9h-0.9zM52.0 60.8h0.9v0.9h-0.9zM42.0 67.7h0.9v0.9h-0.9zM45.2 59.4h0.9v0.9h-0.9zM43.7 56.9h0.9v0.9h-0.9zM42.0 51.0h0.9v0.9h-0.9zM37.2 65.4h0.9v0.9h-0.9zM35.7 53.8h0.9v0.9h-0.9zM36.4 57.0h0.9v0.9h-0.9zM33.9 57.0h0.9v0.9h-0.9zM45.8 63.6h0.9v0.9h-0.9zM51.2 51.3h0.9v0.9h-0.9zM46.5 53.6h0.9v0.9h-0.9zM40.1 61.5h0.9v0.9h-0.9zM50.6 63.5h0.9v0.9h-0.9zM53.7 49.8h0.9v0.9h-0.9zM39.6 59.5h0.9v0.9h-0.9zM33.7 50.5h0.9v0.9h-0.9zM40.6 61.1h0.9v0.9h-0.9zM35.8 50.9h0.9v0.9h-0.9zM39.6 65.0h0.9v0.9h-0.9zM44.9 70.3h0.9v0.9h-0.9zM45.7 68.1h0.9v0.9h-0.9zM45.0 59.5h0.9v0.9h-0.9zM41.7 50.9h0.9v0.9h-0.9zM34.2 63.2h0.9v0.9h-0.9zM51.0 49.8h0.9v0.9h-0.9zM36.7 56.3h0.9v0.9h-0.9zM39.5 66.9h0.9v0.9h-0.9zM38.2 55.9h0.9v0.9h-0.9zM43.2 69.3h0.9v0.9h-0.9zM39.1 62.7h0.9v0.9h-0.9zM33.9 58.5h0.9v0.9h-0.9zM52.5 54.0h0.9v0.9h-0.9zM40.4 63.1h0.9v0.9h-0.9zM44.8 61.5h0.9v0.9h-0.9zM45.7 63.6h0.9v0.9h-0.9zM39.7 56.8h0.9v0.9h-0.9zM41.3 60.4h0.9v0.9h-0.9zM44.9 67.7h0.9v0.9h-0.9zM41.3 58.8h0.9v0.9h-0.9zM50.5 69.8h0.9v0.9h-0.9zM38.0 64.7h0.9v0.9h-0.9zM38.1 65.0h0.9v0.9h-0.9zM33.7 60.1h0.9v0.9h-0.9zM44.9 64.1h0.9v0.9h-0.9zM52.2 66.1h0.9v0.9h-0.9zM44.8 59.9h0.9v0.9h-0.9zM33.2 61.0h0.9v0.9h-0.9zM44.8 65.0h0.9v0.9h-0.9zM36.4 61.8h0.9v0.9h-0.9zM34.0 64.6h0.9v0.9h-0.9zM50.2 58.6h0.9v0.9h-0.9zM47.4 63.3h0.9v0.9h-0.9zM39.3 51.3h0.9v0.9h-0.9zM48.9 56.9h0.9v0.9h-0.9zM36.3 58.7h0.9v0.9h-0.9zM50.5 69.4h0.9v0.9h-0.9zM44.9 69.7h0.9v0.9h-0.9zM36.6 59.7h0.9v0.9h-0.9zM33.1 54.3h0.9v0.9h-0.9zM51.4 50.7h0.9v0.9h-0.9zM46.7 60.1h0.9v0.9h-0.9zM53.7 70.2h0.9v0.9h-0.9zM35.5 54.9h0.9v0.9h-0.9zM53.8 56.3h0.9v0.9h-0.9zM36.7 68.5h0.9v0.9h-0.9zM45.9 55.9h0.9v0.9h-0.9zM44.6 58.4h0.9v0.9h-0.9zM42.6 61.0h0.9v0.9h-0.9zM36.5 62.3h0.9v0.9h-0.9zM53.1 61.8h0.9v0.9h-0.9zM49.5 55.4h0.9v0.9h-0.9zM36.2 49.6h0.9v0.9h-0.9zM53.6 51.9h0.9v0.9h-0.9zM40.9 63.1h0.9v0.9h-0.9zM48.4 62.4h0.9v0.9h-0.9zM42.2 66.5h0.9v0.9h-0.9zM42.2 66.9h0.9v0.9h-0.9zM34.0 64.6h0.9v0.9h-0.9zM35.0 57.6h0.9v0.9h-0.9zM42.3 53.3h0.9v0.9h-0.9zM42.4 67.3h0.9v0.9h-0.9zM33.7 53.5h0.9v0.9h-0.9zM53.5 58.9h0.9v0.9h-0.9zM41.1 68.6h0.9v0.9h-0.9zM49.3 53.1h0.9v0.9h-0.9zM45.5 53.2h0.9v0.9h-0.9zM49.3 61.1h0.9v0.9h-0.9zM49.8 50.8h0.9v0.9h-0.9zM52.5 54.3h0.9v0.9h-0.9zM50.8 58.7h0.9v0.9h-0.9zM51.7 51.6h0.9v0.9h-0.9zM34.0 59.2h0.9v0.9h-0.9zM52.5 59.2h0.9v0.9h-0.9zM43.6 52.9h0.9v0.9h-0.9zM44.3 58.4h0.9v0.9h-0.9zM51.6 65.0h0.9v0.9h-0.9zM43.0 52.6h0.9v0.9h-0.9zM36.0 69.8h0.9v0.9h-0.9zM45.8 54.2h0.9v0.9h-0.9zM50.0 54.0h0.9v0.9h-0.9zM42.5 67.8h0.9v0.9h-0.9zM35.1 51.6h0.9v0.9h-0.9zM34.0 52.6h0.9v0.9h-0.9zM40.8 56.2h0.9v0.9h-0.9zM38.8 49.7h0.9v0.9h-0.9zM43.2 58.8h0.9v0.9h-0.9zM48.5 55.8h0.9v0.9h-0.9zM45.2 56.0h0.9v0.9h-0.9zM48.8 53.1h0.9v0.9h-0.9zM43.2 58.8h0.9v0.9h-0.9zM42.6 60.7h0.9v0.9h-0.9zM44.2 56.1h0.9v0.9h-0.9zM50.3 69.4h0.9v0.9h-0.9zM44.7 62.7h0.9v0.9h-0.9zM48.2 56.1h0.9v0.9h-0.9zM45.4 59.1h0.9v0.9h-0.9zM43.1 57.7h0.9v0.9h-0.9zM44.2 54.0h0.9v0.9h-0.9zM38.0 53.6h0.9v0.9h-0.9zM45.4 54.6h0.9v0.9h-0.9zM49.4 68.4h0.9v0.9h-0.9zM48.9 56.3h0.9v0.9h-0.9zM52.8 56.6h0.9v0.9h-0.9zM40.5 61.9h0.9v0.9h-0.9zM46.8 58.0h0.9v0.9h-0.9zM49.5 67.3h0.9v0.9h-0.9zM39.0 54.1h0.9v0.9h-0.9zM41.3 64.1h0.9v0.9h-0.9zM47.0 53.1h0.9v0.9h-0.9zM41.1 68.3h0.9v0.9h-0.9zM53.2 62.1h0.9v0.9h-0.9zM49.4 67.0h0.9v0.9h-0.9zM37.6 50.8h0.9v0.9h-0.9zM34.7 44.6h0.9v0.9h-0.9zM52.1 42.5h0.9v0.9h-0.9zM39.4 45.4h0.9v0.9h-0.9zM45.0 45.0h0.9v0.9h-0.9zM41.2 41.0h0.9v0.9h-0.9zM45.5 42.8h0.9v0.9h-0.9zM46.0 44.1h0.9v0.9h-0.9zM38.6 48.4h0.9v0.9h-0.9zM39.7 48.2h0.9v0.9h-0.9zM43.0 44.8h0.9v0.9h-0.9zM38.6 42.0h0.9v0.9h-0.9zM47.8 44.2h0.9v0.9h-0.9zM45.2 42.1h0.9v0.9h-0.9zM43.7 45.8h0.9v0.9h-0.9zM48.9 45.8h0.9v0.9h-0.9zM41.6 46.0h0.9v0.9h-0.9zM45.5 44.4h0.9v0.9h-0.9zM46.2 43.0h0.9v0.9h-0.9zM34.2 41.8h0.9v0.9h-0.9zM53.4 47.6h0.9v0.9h-0.9zM50.4 42.7h0.9v0.9h-0.9zM50.6 46.8h0.9v0.9h-0.9zM44.3 43.0h0.9v0.9h-0.9zM35.2 48.4h0.9v0.9h-0.9zM54.0 47.3h0.9v0.9h-0.9zM42.3 46.3h0.9v0.9h-0.9zM52.1 44.9h0.9v0.9h-0.9zM35.5 48.3h0.9v0.9h-0.9zM44.2 46.6h0.9v0.9h-0.9zM46.0 41.2h0.9v0.9h-0.9zM42.6 40.8h0.9v0.9h-0.9zM38.5 48.1h0.9v0.9h-0.9zM47.5 45.1h0.9v0.9h-0.9zM35.3 46.0h0.9v0.9h-0.9zM45.7 45.6h0.9v0.9h-0.9zM47.4 47.9h0.9v0.9h-0.9zM42.3 45.4h0.9v0.9h-0.9zM44.1 45.2h0.9v0.9h-0.9zM47.2 42.1h0.9v0.9h-0.9zM34.1 41.6h0.9v0.9h-0.9zM33.8 45.0h0.9v0.9h-0.9zM39.3 46.8h0.9v0.9h-0.9zM36.3 41.8h0.9v0.9h-0.9zM51.2 41.4h0.9v0.9h-0.9zM40.3 46.0h0.9v0.9h-0.9zM44.8 42.7h0.9v0.9h-0.9zM35.7 45.2h0.9v0.9h-0.9zM38.1 47.3h0.9v0.9h-0.9zM38.5 47.9h0.9v0.9h-0.9zM33.4 45.4h0.9v0.9h-0.9zM38.9 44.4h0.9v0.9h-0.9zM42.1 47.0h0.9v0.9h-0.9zM36.8 46.6h0.9v0.9h-0.9zM33.6 45.6h0.9v0.9h-0.9zM50.3 44.0h0.9v0.9h-0.9zM50.8 43.4h0.9v0.9h-0.9zM40.4 47.7h0.9v0.9h-0.9zM53.8 46.8h0.9v0.9h-0.9zM37.7 48.0h0.9v0.9h-0.9zM40.6 47.4h0.9v0.9h-0.9zM39.7 42.4h0.9v0.9h-0.9zM38.3 46.0h0.9v0.9h-0.9zM53.6 44.7h0.9v0.9h-0.9zM35.2 46.0h0.9v0.9h-0.9zM51.9 46.7h0.9v0.9h-0.9zM32.9 43.1h0.9v0.9h-0.9zM49.3 46.1h0.9v0.9h-0.9zM53.9 47.6h0.9v0.9h-0.9zM49.7 46.0h0.9v0.9h-0.9zM40.9 40.9h0.9v0.9h-0.9zM49.1 44.2h0.9v0.9h-0.9zM51.2 41.7h0.9v0.9h-0.9zM51.0 45.7h0.9v0.9h-0.9zM51.6 46.1h0.9v0.9h-0.9zM42.1 44.7h0.9v0.9h-0.9zM35.0 42.5h0.9v0.9h-0.9zM45.0 42.0h0.9v0.9h-0.9zM33.8 37.0h0.9v0.9h-0.9zM33.9 37.7h0.9v0.9h-0.9zM39.4 38.4h0.9v0.9h-0.9zM46.0 39.2h0.9v0.9h-0.9zM51.0 37.3h0.9v0.9h-0.9zM46.1 39.3h0.9v0.9h-0.9zM38.2 38.5h0.9v0.9h-0.9zM53.8 38.6h0.9v0.9h-0.9zM47.7 37.7h0.9v0.9h-0.9zM53.8 39.2h0.9v0.9h-0.9zM39.7 37.7h0.9v0.9h-0.9zM33.0 38.2h0.9v0.9h-0.9zM51.3 39.1h0.9v0.9h-0.9zM36.0 37.5h0.9v0.9h-0.9zM36.3 37.6h0.9v0.9h-0.9zM37.2 37.3h0.9v0.9h-0.9zM44.6 39.4h0.9v0.9h-0.9zM50.9 38.6h0.9v0.9h-0.9zM39.6 39.4h0.9v0.9h-0.9zM37.4 36.9h0.9v0.9h-0.9zM37.5 39.1h0.9v0.9h-0.9zM47.7 37.7h0.9v0.9h-0.9zM37.5 38.6h0.9v0.9h-0.9zM43.7 39.1h0.9v0.9h-0.9zM42.3 37.1h0.9v0.9h-0.9z" fill="#d0433b" opacity="0.6"/>
<path d="M33.3 126.78V90.58H54.9V126.78" fill="none" stroke="#c13b34" stroke-width="1.0"/>
<line x1="33.3" y1="113.07" x2="54.9" y2="113.07" stroke="#c13b34" stroke-width="1"/>
<line x1="44.5" y1="90.58" x2="44.5" y2="37.92" stroke="#c13b34" stroke-width="1"/>
<line x1="44.5" y1="126.78" x2="44.5" y2="137.2" stroke="#c13b34" stroke-width="1"/>
<line x1="38.6" y1="37.92" x2="50.4" y2="37.92" stroke="#c13b34" stroke-width="1"/>
<line x1="38.6" y1="137.2" x2="50.4" y2="137.2" stroke="#c13b34" stroke-width="1"/>
<path d="M44.5 104.14L46.3 107.44L42.7 107.44z" fill="#557a2a"/>
<path d="M89.4 40.3h0.8v0.8h-0.8zM98.0 133.6h0.8v0.8h-0.8zM93.7 115.9h0.8v0.8h-0.8zM92.6 53.9h0.8v0.8h-0.8zM107.5 125.3h0.8v0.8h-0.8zM102.9 83.2h0.8v0.8h-0.8zM89.0 78.1h0.8v0.8h-0.8zM89.1 40.2h0.8v0.8h-0.8zM98.5 122.6h0.8v0.8h-0.8zM108.4 57.9h0.8v0.8h-0.8zM91.4 137.0h0.8v0.8h-0.8zM91.4 136.7h0.8v0.8h-0.8zM90.3 48.4h0.8v0.8h-0.8zM92.6 92.5h0.8v0.8h-0.8zM94.4 137.0h0.8v0.8h-0.8zM99.9 120.0h0.8v0.8h-0.8zM99.6 53.4h0.8v0.8h-0.8zM94.4 93.1h0.8v0.8h-0.8zM98.6 126.5h0.8v0.8h-0.8zM107.4 107.5h0.8v0.8h-0.8zM89.0 124.2h0.8v0.8h-0.8zM95.2 135.1h0.8v0.8h-0.8zM96.8 123.3h0.8v0.8h-0.8zM103.8 52.6h0.8v0.8h-0.8zM106.0 86.5h0.8v0.8h-0.8zM89.9 52.8h0.8v0.8h-0.8zM91.3 75.7h0.8v0.8h-0.8zM96.7 105.8h0.8v0.8h-0.8zM89.4 118.9h0.8v0.8h-0.8zM103.3 125.3h0.8v0.8h-0.8zM107.6 42.9h0.8v0.8h-0.8zM100.5 136.5h0.8v0.8h-0.8zM99.4 125.6h0.8v0.8h-0.8zM91.9 93.1h0.8v0.8h-0.8zM98.6 133.0h0.8v0.8h-0.8zM106.2 135.0h0.8v0.8h-0.8zM88.8 51.6h0.8v0.8h-0.8zM106.1 62.4h0.8v0.8h-0.8zM100.8 135.7h0.8v0.8h-0.8zM92.2 99.3h0.8v0.8h-0.8zM100.4 60.2h0.8v0.8h-0.8zM108.1 61.0h0.8v0.8h-0.8zM102.4 41.3h0.8v0.8h-0.8zM89.8 53.5h0.8v0.8h-0.8zM98.5 112.8h0.8v0.8h-0.8zM96.2 95.4h0.8v0.8h-0.8zM100.7 60.4h0.8v0.8h-0.8zM97.8 56.8h0.8v0.8h-0.8zM96.0 44.9h0.8v0.8h-0.8zM100.4 38.3h0.8v0.8h-0.8zM101.5 109.1h0.8v0.8h-0.8zM102.9 131.8h0.8v0.8h-0.8zM105.4 85.8h0.8v0.8h-0.8zM97.3 133.7h0.8v0.8h-0.8zM89.8 87.3h0.8v0.8h-0.8zM107.4 67.0h0.8v0.8h-0.8zM104.5 82.9h0.8v0.8h-0.8zM98.0 44.5h0.8v0.8h-0.8zM107.2 95.4h0.8v0.8h-0.8zM94.3 77.1h0.8v0.8h-0.8zM104.6 87.0h0.8v0.8h-0.8zM91.2 57.1h0.8v0.8h-0.8zM102.9 127.4h0.8v0.8h-0.8zM103.8 72.5h0.8v0.8h-0.8zM96.6 97.8h0.8v0.8h-0.8zM93.8 42.5h0.8v0.8h-0.8zM89.0 117.5h0.8v0.8h-0.8zM101.6 133.2h0.8v0.8h-0.8zM93.1 78.7h0.8v0.8h-0.8zM92.1 69.7h0.8v0.8h-0.8zM101.9 109.6h0.8v0.8h-0.8zM98.0 65.2h0.8v0.8h-0.8zM98.4 61.5h0.8v0.8h-0.8zM106.0 78.6h0.8v0.8h-0.8zM100.3 89.9h0.8v0.8h-0.8zM89.2 46.0h0.8v0.8h-0.8zM89.3 136.6h0.8v0.8h-0.8zM99.8 115.3h0.8v0.8h-0.8zM102.8 83.8h0.8v0.8h-0.8zM106.9 136.7h0.8v0.8h-0.8zM108.8 121.8h0.8v0.8h-0.8zM106.2 112.1h0.8v0.8h-0.8zM89.0 72.9h0.8v0.8h-0.8zM96.8 95.4h0.8v0.8h-0.8zM93.4 38.2h0.8v0.8h-0.8zM92.2 107.4h0.8v0.8h-0.8zM99.8 137.1h0.8v0.8h-0.8zM91.9 83.6h0.8v0.8h-0.8zM93.2 57.9h0.8v0.8h-0.8zM102.6 45.4h0.8v0.8h-0.8zM97.7 41.1h0.8v0.8h-0.8zM101.2 57.8h0.8v0.8h-0.8zM97.1 72.7h0.8v0.8h-0.8zM94.2 95.5h0.8v0.8h-0.8zM107.9 112.9h0.8v0.8h-0.8zM106.0 133.6h0.8v0.8h-0.8zM91.9 68.5h0.8v0.8h-0.8zM106.0 103.8h0.8v0.8h-0.8zM99.2 95.7h0.8v0.8h-0.8zM92.1 96.3h0.8v0.8h-0.8zM104.2 38.6h0.8v0.8h-0.8zM95.8 117.6h0.8v0.8h-0.8zM106.8 73.5h0.8v0.8h-0.8zM94.5 91.1h0.8v0.8h-0.8zM99.9 110.9h0.8v0.8h-0.8zM103.3 51.9h0.8v0.8h-0.8zM88.9 122.8h0.8v0.8h-0.8zM94.0 79.3h0.8v0.8h-0.8zM91.9 53.1h0.8v0.8h-0.8zM105.3 37.9h0.8v0.8h-0.8zM88.8 120.5h0.8v0.8h-0.8zM90.8 60.0h0.8v0.8h-0.8zM96.6 128.6h0.8v0.8h-0.8zM90.5 127.0h0.8v0.8h-0.8zM102.3 91.4h0.8v0.8h-0.8zM89.7 64.3h0.8v0.8h-0.8zM98.4 135.1h0.8v0.8h-0.8zM92.9 69.5h0.8v0.8h-0.8zM90.8 86.3h0.8v0.8h-0.8zM106.8 50.3h0.8v0.8h-0.8zM96.7 45.6h0.8v0.8h-0.8zM105.7 133.3h0.8v0.8h-0.8zM95.8 102.7h0.8v0.8h-0.8zM103.4 104.1h0.8v0.8h-0.8zM97.7 71.1h0.8v0.8h-0.8zM91.7 119.3h0.8v0.8h-0.8zM108.7 135.0h0.8v0.8h-0.8zM89.9 41.6h0.8v0.8h-0.8zM108.9 86.6h0.8v0.8h-0.8zM108.9 88.5h0.8v0.8h-0.8zM103.6 129.1h0.8v0.8h-0.8zM90.9 57.5h0.8v0.8h-0.8zM108.4 124.5h0.8v0.8h-0.8zM101.4 122.2h0.8v0.8h-0.8zM103.4 48.7h0.8v0.8h-0.8zM94.8 65.8h0.8v0.8h-0.8zM91.4 56.4h0.8v0.8h-0.8zM98.8 106.9h0.8v0.8h-0.8zM89.2 74.0h0.8v0.8h-0.8zM96.2 133.7h0.8v0.8h-0.8zM107.6 128.3h0.8v0.8h-0.8zM100.9 102.5h0.8v0.8h-0.8zM106.5 104.3h0.8v0.8h-0.8zM107.4 46.9h0.8v0.8h-0.8zM101.3 133.4h0.8v0.8h-0.8zM107.8 65.3h0.8v0.8h-0.8zM98.4 90.6h0.8v0.8h-0.8zM88.7 126.8h0.8v0.8h-0.8zM94.4 136.4h0.8v0.8h-0.8zM96.9 72.0h0.8v0.8h-0.8zM94.2 92.2h0.8v0.8h-0.8zM107.8 40.8h0.8v0.8h-0.8zM96.6 119.5h0.8v0.8h-0.8zM96.8 131.8h0.8v0.8h-0.8zM103.8 121.5h0.8v0.8h-0.8zM102.9 115.2h0.8v0.8h-0.8zM103.3 136.3h0.8v0.8h-0.8zM94.6 81.6h0.8v0.8h-0.8zM106.6 66.0h0.8v0.8h-0.8zM103.1 49.4h0.8v0.8h-0.8zM100.8 103.0h0.8v0.8h-0.8zM95.1 67.1h0.8v0.8h-0.8zM105.0 52.2h0.8v0.8h-0.8zM104.4 75.1h0.8v0.8h-0.8zM105.6 135.1h0.8v0.8h-0.8zM102.9 102.2h0.8v0.8h-0.8zM97.4 80.1h0.8v0.8h-0.8zM106.5 70.2h0.8v0.8h-0.8zM88.9 38.1h0.8v0.8h-0.8zM104.8 48.3h0.8v0.8h-0.8zM104.5 86.3h0.8v0.8h-0.8zM97.0 111.9h0.8v0.8h-0.8zM108.0 135.6h0.8v0.8h-0.8zM99.3 61.6h0.8v0.8h-0.8zM105.8 84.4h0.8v0.8h-0.8zM100.5 127.5h0.8v0.8h-0.8zM100.7 71.7h0.8v0.8h-0.8zM93.9 40.4h0.8v0.8h-0.8zM104.9 76.8h0.8v0.8h-0.8zM108.2 107.8h0.8v0.8h-0.8zM91.6 105.7h0.8v0.8h-0.8zM96.8 127.2h0.8v0.8h-0.8zM107.7 39.1h0.8v0.8h-0.8zM102.4 50.2h0.8v0.8h-0.8zM102.0 96.3h0.8v0.8h-0.8zM108.5 85.2h0.8v0.8h-0.8zM96.7 107.6h0.8v0.8h-0.8zM105.4 71.0h0.8v0.8h-0.8zM91.9 69.8h0.8v0.8h-0.8zM94.1 82.0h0.8v0.8h-0.8zM93.9 118.6h0.8v0.8h-0.8zM91.0 137.0h0.8v0.8h-0.8zM105.2 77.7h0.8v0.8h-0.8zM108.4 131.7h0.8v0.8h-0.8zM104.9 100.2h0.8v0.8h-0.8zM90.2 135.6h0.8v0.8h-0.8zM90.5 60.7h0.8v0.8h-0.8zM102.3 135.8h0.8v0.8h-0.8zM97.2 135.5h0.8v0.8h-0.8zM90.9 60.7h0.8v0.8h-0.8zM107.6 57.3h0.8v0.8h-0.8zM101.4 40.6h0.8v0.8h-0.8zM91.8 59.9h0.8v0.8h-0.8zM106.9 88.7h0.8v0.8h-0.8zM92.1 54.5h0.8v0.8h-0.8zM96.9 59.0h0.8v0.8h-0.8zM105.2 95.3h0.8v0.8h-0.8zM95.3 78.1h0.8v0.8h-0.8zM108.0 55.6h0.8v0.8h-0.8zM89.5 61.5h0.8v0.8h-0.8zM100.6 136.8h0.8v0.8h-0.8zM90.3 132.2h0.8v0.8h-0.8zM89.5 53.8h0.8v0.8h-0.8zM94.9 118.0h0.8v0.8h-0.8zM108.4 46.0h0.8v0.8h-0.8zM98.1 64.4h0.8v0.8h-0.8zM108.7 131.0h0.8v0.8h-0.8zM102.0 123.0h0.8v0.8h-0.8zM99.2 65.1h0.8v0.8h-0.8zM108.2 52.0h0.8v0.8h-0.8zM103.4 110.2h0.8v0.8h-0.8zM97.5 132.6h0.8v0.8h-0.8zM94.3 77.6h0.8v0.8h-0.8zM104.4 109.5h0.8v0.8h-0.8zM107.9 124.0h0.8v0.8h-0.8zM93.2 129.4h0.8v0.8h-0.8zM93.3 84.2h0.8v0.8h-0.8zM96.0 57.6h0.8v0.8h-0.8zM102.5 130.4h0.8v0.8h-0.8zM101.6 104.1h0.8v0.8h-0.8zM89.6 131.4h0.8v0.8h-0.8zM99.3 116.8h0.8v0.8h-0.8zM92.9 125.0h0.8v0.8h-0.8zM93.6 58.1h0.8v0.8h-0.8zM106.8 112.0h0.8v0.8h-0.8zM104.7 37.6h0.8v0.8h-0.8zM104.6 129.4h0.8v0.8h-0.8zM105.3 132.8h0.8v0.8h-0.8zM93.1 118.5h0.8v0.8h-0.8zM91.5 104.3h0.8v0.8h-0.8zM105.8 78.2h0.8v0.8h-0.8zM105.2 78.3h0.8v0.8h-0.8zM94.2 127.9h0.8v0.8h-0.8zM95.4 57.9h0.8v0.8h-0.8zM100.4 68.9h0.8v0.8h-0.8zM93.1 128.8h0.8v0.8h-0.8zM107.4 47.2h0.8v0.8h-0.8zM88.8 86.3h0.8v0.8h-0.8zM108.2 136.7h0.8v0.8h-0.8zM103.2 62.7h0.8v0.8h-0.8zM107.6 119.9h0.8v0.8h-0.8zM102.9 133.9h0.8v0.8h-0.8zM96.3 75.8h0.8v0.8h-0.8zM92.5 61.0h0.8v0.8h-0.8zM108.1 42.2h0.8v0.8h-0.8zM95.4 112.7h0.8v0.8h-0.8zM95.7 63.1h0.8v0.8h-0.8zM103.0 87.1h0.8v0.8h-0.8zM104.3 44.4h0.8v0.8h-0.8zM95.9 118.5h0.8v0.8h-0.8zM105.4 133.8h0.8v0.8h-0.8zM93.2 57.0h0.8v0.8h-0.8zM95.8 99.6h0.8v0.8h-0.8zM89.1 117.9h0.8v0.8h-0.8zM108.5 86.4h0.8v0.8h-0.8zM104.3 127.1h0.8v0.8h-0.8zM99.7 65.8h0.8v0.8h-0.8zM97.4 56.6h0.8v0.8h-0.8zM89.9 83.4h0.8v0.8h-0.8zM100.8 128.5h0.8v0.8h-0.8zM98.5 57.3h0.8v0.8h-0.8zM98.9 45.9h0.8v0.8h-0.8zM105.0 105.9h0.8v0.8h-0.8zM107.4 47.5h0.8v0.8h-0.8zM93.0 79.1h0.8v0.8h-0.8zM100.2 115.5h0.8v0.8h-0.8zM94.8 135.9h0.8v0.8h-0.8zM93.8 64.0h0.8v0.8h-0.8zM94.9 80.4h0.8v0.8h-0.8zM95.5 129.9h0.8v0.8h-0.8zM94.3 114.4h0.8v0.8h-0.8zM107.8 115.4h0.8v0.8h-0.8zM98.9 88.6h0.8v0.8h-0.8zM94.6 119.5h0.8v0.8h-0.8zM95.5 62.6h0.8v0.8h-0.8zM96.6 128.8h0.8v0.8h-0.8zM108.3 77.5h0.8v0.8h-0.8zM98.9 58.5h0.8v0.8h-0.8zM107.1 127.3h0.8v0.8h-0.8zM100.7 135.7h0.8v0.8h-0.8zM95.2 41.1h0.8v0.8h-0.8zM94.9 94.2h0.8v0.8h-0.8zM90.8 105.3h0.8v0.8h-0.8zM103.2 83.8h0.8v0.8h-0.8zM88.7 130.2h0.8v0.8h-0.8zM95.9 121.5h0.8v0.8h-0.8zM103.5 103.4h0.8v0.8h-0.8zM89.2 94.5h0.8v0.8h-0.8zM97.8 136.6h0.8v0.8h-0.8zM105.5 127.3h0.8v0.8h-0.8zM105.4 69.0h0.8v0.8h-0.8zM92.9 83.9h0.8v0.8h-0.8zM94.6 63.5h0.8v0.8h-0.8zM89.3 127.6h0.8v0.8h-0.8zM108.6 107.8h0.8v0.8h-0.8zM102.4 76.3h0.8v0.8h-0.8zM97.7 108.8h0.8v0.8h-0.8zM109.5 48.9h0.8v0.8h-0.8zM100.8 113.2h0.8v0.8h-0.8zM92.8 98.0h0.8v0.8h-0.8zM90.4 95.5h0.8v0.8h-0.8zM97.0 63.0h0.8v0.8h-0.8zM104.9 79.7h0.8v0.8h-0.8zM108.4 122.0h0.8v0.8h-0.8zM98.7 39.1h0.8v0.8h-0.8zM101.9 133.9h0.8v0.8h-0.8zM93.1 76.9h0.8v0.8h-0.8zM94.4 65.2h0.8v0.8h-0.8zM90.3 119.9h0.8v0.8h-0.8zM104.4 83.7h0.8v0.8h-0.8zM94.9 75.1h0.8v0.8h-0.8zM89.6 116.6h0.8v0.8h-0.8zM93.8 126.8h0.8v0.8h-0.8zM89.4 124.2h0.8v0.8h-0.8zM88.7 106.9h0.8v0.8h-0.8zM88.6 96.3h0.8v0.8h-0.8zM90.5 108.7h0.8v0.8h-0.8zM103.1 127.8h0.8v0.8h-0.8zM104.9 133.9h0.8v0.8h-0.8zM102.0 76.7h0.8v0.8h-0.8zM103.7 93.4h0.8v0.8h-0.8zM97.0 123.2h0.8v0.8h-0.8zM88.6 136.7h0.8v0.8h-0.8zM101.5 105.3h0.8v0.8h-0.8zM106.1 41.8h0.8v0.8h-0.8zM107.8 135.0h0.8v0.8h-0.8zM97.2 107.3h0.8v0.8h-0.8zM90.4 128.0h0.8v0.8h-0.8zM99.9 101.6h0.8v0.8h-0.8zM102.5 56.1h0.8v0.8h-0.8zM101.0 125.5h0.8v0.8h-0.8zM93.7 60.0h0.8v0.8h-0.8zM93.9 117.0h0.8v0.8h-0.8zM91.6 41.0h0.8v0.8h-0.8zM96.1 82.2h0.8v0.8h-0.8zM99.0 71.5h0.8v0.8h-0.8zM106.6 123.3h0.8v0.8h-0.8zM89.0 92.7h0.8v0.8h-0.8zM92.0 123.4h0.8v0.8h-0.8zM91.9 114.3h0.8v0.8h-0.8zM101.3 80.7h0.8v0.8h-0.8zM93.9 108.1h0.8v0.8h-0.8zM96.4 81.9h0.8v0.8h-0.8zM106.6 66.4h0.8v0.8h-0.8zM108.2 72.1h0.8v0.8h-0.8zM106.4 116.2h0.8v0.8h-0.8zM106.5 106.3h0.8v0.8h-0.8zM94.5 83.9h0.8v0.8h-0.8zM106.5 118.1h0.8v0.8h-0.8zM91.7 98.4h0.8v0.8h-0.8zM91.5 88.0h0.8v0.8h-0.8zM94.0 134.6h0.8v0.8h-0.8zM92.9 65.5h0.8v0.8h-0.8zM89.3 54.7h0.8v0.8h-0.8zM88.6 112.9h0.8v0.8h-0.8zM101.4 75.8h0.8v0.8h-0.8zM105.6 64.4h0.8v0.8h-0.8zM97.4 49.2h0.8v0.8h-0.8zM101.3 110.1h0.8v0.8h-0.8zM92.6 98.1h0.8v0.8h-0.8zM96.7 103.6h0.8v0.8h-0.8zM90.2 51.5h0.8v0.8h-0.8zM103.3 71.3h0.8v0.8h-0.8zM100.4 48.4h0.8v0.8h-0.8zM91.1 73.8h0.8v0.8h-0.8zM89.6 53.5h0.8v0.8h-0.8z" fill="#b0b0b0" opacity="0.6"/>
<rect x="88.2" y="87.29" width="22" height="38.94" fill="none" stroke="#a3a3a3" stroke-width="1.1"/>
<line x1="88.2" y1="111.97" x2="110.2" y2="111.97" stroke="#a3a3a3" stroke-width="1.1"/>
<line x1="99.5" y1="87.29" x2="99.5" y2="37.92" stroke="#a3a3a3" stroke-width="1.1"/>
<line x1="99.5" y1="126.23" x2="99.5" y2="136.1" stroke="#a3a3a3" stroke-width="1.1"/>
<line x1="93.5" y1="37.92" x2="105.5" y2="37.92" stroke="#a3a3a3" stroke-width="1.1"/>
<line x1="93.5" y1="136.1" x2="105.5" y2="136.1" stroke="#a3a3a3" stroke-width="1.1"/>
<path d="M99.5 102.49L101.3 105.79L97.7 105.79z" fill="#3aa24a"/>
<text x="-0.5" y="181.3" font-size="12.3" fill="#000" font-weight="bold">b</text>
<path d="M41.91 195.40A38.2 38.2 0 0 1 95.21 190.01L81.50 207.09A16.3 16.3 0 0 0 58.76 209.39z" fill="#a5a5a5" stroke="#fff" stroke-width="1.1"/>
<path d="M95.21 190.01A38.2 38.2 0 0 1 104.96 237.86L85.66 227.51A16.3 16.3 0 0 0 81.50 207.09z" fill="#8a3a1f" stroke="#fff" stroke-width="1.1"/>
<path d="M104.96 237.86A38.2 38.2 0 0 1 78.62 257.29L74.42 235.80A16.3 16.3 0 0 0 85.66 227.51z" fill="#e06b7f" stroke="#fff" stroke-width="1.1"/>
<path d="M78.62 257.29A38.2 38.2 0 0 1 54.38 254.05L64.08 234.41A16.3 16.3 0 0 0 74.42 235.80z" fill="#c88fca" stroke="#fff" stroke-width="1.1"/>
<path d="M54.38 254.05A38.2 38.2 0 0 1 41.94 244.24L58.77 230.23A16.3 16.3 0 0 0 64.08 234.41z" fill="#3a5db0" stroke="#fff" stroke-width="1.1"/>
<path d="M41.94 244.24A38.2 38.2 0 0 1 36.02 234.44L56.24 226.05A16.3 16.3 0 0 0 58.77 230.23z" fill="#88b5df" stroke="#fff" stroke-width="1.1"/>
<path d="M36.02 234.44A38.2 38.2 0 0 1 33.17 222.06L55.03 220.76A16.3 16.3 0 0 0 56.24 226.05z" fill="#4daf80" stroke="#fff" stroke-width="1.1"/>
<path d="M33.17 222.06A38.2 38.2 0 0 1 35.53 206.39L56.04 214.08A16.3 16.3 0 0 0 55.03 220.76z" fill="#f1c12e" stroke="#fff" stroke-width="1.1"/>
<path d="M35.53 206.39A38.2 38.2 0 0 1 39.26 199.00L57.63 210.92A16.3 16.3 0 0 0 56.04 214.08z" fill="#ef8733" stroke="#fff" stroke-width="1.1"/>
<path d="M39.26 199.00A38.2 38.2 0 0 1 41.91 195.40L58.76 209.39A16.3 16.3 0 0 0 57.63 210.92z" fill="#d83a2e" stroke="#fff" stroke-width="1.1"/>
<polyline points="42.4,198.4 30.2,198.4 30.2,191.8" fill="none" stroke="#231f20" stroke-width="0.8"/>
<circle cx="30.2" cy="191.8" r="0.75" fill="#231f20"/>
<text x="27.7" y="188.7" font-size="6.1" text-anchor="middle" textLength="21.71" lengthAdjust="spacingAndGlyphs">7 (1.9%)</text>
<polyline points="41,202.8 18.3,202.8 18.3,205" fill="none" stroke="#231f20" stroke-width="0.8"/>
<circle cx="18.3" cy="205" r="0.75" fill="#231f20"/>
<text x="14.6" y="211" font-size="6.1" text-anchor="middle" textLength="25.1" lengthAdjust="spacingAndGlyphs">13 (3.5%)</text>
<polyline points="38.4,214.1 16.8,214.1 16.8,218" fill="none" stroke="#231f20" stroke-width="0.8"/>
<circle cx="16.8" cy="218" r="0.75" fill="#231f20"/>
<text x="13.9" y="222.9" font-size="6.1" text-anchor="middle" textLength="26.44" lengthAdjust="spacingAndGlyphs">25 (6.6%)</text>
<polyline points="38.9,226.9 15.4,226.9 15.4,229.8" fill="none" stroke="#231f20" stroke-width="0.8"/>
<circle cx="15.4" cy="229.8" r="0.75" fill="#231f20"/>
<text x="12.6" y="235.7" font-size="6.1" text-anchor="middle" textLength="26.44" lengthAdjust="spacingAndGlyphs">20 (5.3%)</text>
<polyline points="43.7,238.5 24.4,238.5 24.4,241.2" fill="none" stroke="#231f20" stroke-width="0.8"/>
<circle cx="24.4" cy="241.2" r="0.75" fill="#231f20"/>
<text x="20.6" y="247.8" font-size="6.1" text-anchor="middle" textLength="25.1" lengthAdjust="spacingAndGlyphs">18 (4.8%)</text>
<polyline points="51.9,249.7 40.5,249.7 40.5,252.5" fill="none" stroke="#231f20" stroke-width="0.8"/>
<circle cx="40.5" cy="252.5" r="0.75" fill="#231f20"/>
<text x="33.6" y="259.1" font-size="6.1" text-anchor="middle" textLength="26.44" lengthAdjust="spacingAndGlyphs">25 (6.6%)</text>
<polyline points="66.3,251.2 66.3,260.2 60,260.2 60,261.4" fill="none" stroke="#231f20" stroke-width="0.8"/>
<circle cx="60" cy="261.4" r="0.75" fill="#231f20"/>
<text x="66.3" y="267.6" font-size="6.1" text-anchor="middle" textLength="28.49" lengthAdjust="spacingAndGlyphs">39 (10.4%)</text>
<polyline points="70.2,187.3 117,187.3 117,192.4" fill="none" stroke="#231f20" stroke-width="0.8"/>
<circle cx="117" cy="192.4" r="0.75" fill="#231f20"/>
<text x="120.5" y="200" font-size="6.1" text-anchor="middle" textLength="29.84" lengthAdjust="spacingAndGlyphs">93 (24.7%)</text>
<polyline points="103.3,214.3 125.3,214.3 125.3,221.2" fill="none" stroke="#231f20" stroke-width="0.8"/>
<circle cx="125.3" cy="221.2" r="0.75" fill="#231f20"/>
<text x="125" y="228.9" font-size="6.1" text-anchor="middle" textLength="28.49" lengthAdjust="spacingAndGlyphs">83 (22.1%)</text>
<polyline points="91,244.5 113.5,244.5 113.5,250.8" fill="none" stroke="#231f20" stroke-width="0.8"/>
<circle cx="113.5" cy="250.8" r="0.75" fill="#231f20"/>
<text x="111.5" y="258.5" font-size="6.1" text-anchor="middle" textLength="27.15" lengthAdjust="spacingAndGlyphs">53 (14.1%)</text>
<rect x="4.2" y="274.8" width="4.4" height="4.4" fill="#d83a2e"/>
<text x="9.4" y="279.38" font-size="6.6">(0.9–1.0]</text>
<rect x="40.9" y="274.8" width="4.4" height="4.4" fill="#ef8733"/>
<text x="46.1" y="279.38" font-size="6.6">(0.8–0.9]</text>
<rect x="77.1" y="274.8" width="4.4" height="4.4" fill="#f1c12e"/>
<text x="82.3" y="279.38" font-size="6.6">(0.7–0.8]</text>
<rect x="113.8" y="274.8" width="4.4" height="4.4" fill="#4daf80"/>
<text x="119" y="279.38" font-size="6.6">(0.6–0.7]</text>
<rect x="4.2" y="286.3" width="4.4" height="4.4" fill="#88b5df"/>
<text x="9.4" y="290.88" font-size="6.6">(0.5–0.6]</text>
<rect x="40.9" y="286.3" width="4.4" height="4.4" fill="#3a5db0"/>
<text x="46.1" y="290.88" font-size="6.6">(0.4–0.5]</text>
<rect x="77.1" y="286.3" width="4.4" height="4.4" fill="#c88fca"/>
<text x="82.3" y="290.88" font-size="6.6">(0.3–0.4]</text>
<rect x="113.8" y="286.3" width="4.4" height="4.4" fill="#e06b7f"/>
<text x="119" y="290.88" font-size="6.6">(0.2–0.3]</text>
<rect x="40.9" y="296.3" width="4.4" height="4.4" fill="#8a3a1f"/>
<text x="46.1" y="300.88" font-size="6.6">(0.1–0.2]</text>
<rect x="77.1" y="296.3" width="4.4" height="4.4" fill="#a5a5a5"/>
<text x="82.3" y="300.88" font-size="6.6">[0.0–0.1]</text>
<text x="368.3" y="9.8" font-size="12.3" fill="#000" font-weight="bold">d</text>
<rect x="401.26" y="14.25" width="38.04" height="8" fill="#cf4f47"/>
<line x1="438.3" y1="18.25" x2="440.9" y2="18.25" stroke="#231f20" stroke-width="0.6"/>
<text x="399.86" y="20.46" font-size="6.15" text-anchor="end" textLength="31.79" lengthAdjust="spacingAndGlyphs">28.6% (2/7)</text>
<text x="454.4" y="20.52" font-size="6.3" text-anchor="middle">(0.9–1.0]</text>
<rect x="469.3" y="14.25" width="2.9" height="8" fill="#cf4f47"/>
<line x1="467.7" y1="18.25" x2="470.3" y2="18.25" stroke="#231f20" stroke-width="0.6"/>
<text x="473.81" y="20.48" font-size="6.2">7</text>
<rect x="406.1" y="28.08" width="33.2" height="8" fill="#ec8a4f"/>
<line x1="438.3" y1="32.08" x2="440.9" y2="32.08" stroke="#231f20" stroke-width="0.6"/>
<text x="404.7" y="34.29" font-size="6.15" text-anchor="end" textLength="33.12" lengthAdjust="spacingAndGlyphs">23.1% (3/13)</text>
<text x="454.4" y="34.35" font-size="6.3" text-anchor="middle">(0.8–0.9]</text>
<rect x="469.3" y="28.08" width="5.39" height="8" fill="#ec8a4f"/>
<line x1="467.7" y1="32.08" x2="470.3" y2="32.08" stroke="#231f20" stroke-width="0.6"/>
<text x="476.3" y="34.31" font-size="6.2">13</text>
<rect x="412.7" y="41.91" width="26.6" height="8" fill="#e9bf44"/>
<line x1="438.3" y1="45.91" x2="440.9" y2="45.91" stroke="#231f20" stroke-width="0.6"/>
<text x="411.3" y="48.12" font-size="6.15" text-anchor="end" textLength="35.21" lengthAdjust="spacingAndGlyphs">20.0% (5/25)</text>
<text x="454.4" y="48.18" font-size="6.3" text-anchor="middle">(0.7–0.8]</text>
<rect x="469.3" y="41.91" width="10.38" height="8" fill="#e9bf44"/>
<line x1="467.7" y1="45.91" x2="470.3" y2="45.91" stroke="#231f20" stroke-width="0.6"/>
<text x="481.28" y="48.14" font-size="6.2">25</text>
<rect x="432.65" y="55.74" width="6.65" height="8" fill="#5bb08c"/>
<line x1="438.3" y1="59.74" x2="440.9" y2="59.74" stroke="#231f20" stroke-width="0.6"/>
<text x="431.25" y="61.95" font-size="6.15" text-anchor="end" textLength="30.74" lengthAdjust="spacingAndGlyphs">5.0% (1/20)</text>
<text x="454.4" y="62.01" font-size="6.3" text-anchor="middle">(0.6–0.7]</text>
<rect x="469.3" y="55.74" width="8.3" height="8" fill="#5bb08c"/>
<line x1="467.7" y1="59.74" x2="470.3" y2="59.74" stroke="#231f20" stroke-width="0.6"/>
<text x="479.2" y="61.97" font-size="6.2">20</text>
<line x1="438.3" y1="73.57" x2="440.9" y2="73.57" stroke="#231f20" stroke-width="0.6"/>
<text x="436.1" y="75.78" font-size="6.15" text-anchor="end" textLength="25.62" lengthAdjust="spacingAndGlyphs">0% (0/18)</text>
<text x="454.4" y="75.84" font-size="6.3" text-anchor="middle">(0.5–0.6]</text>
<rect x="469.3" y="69.57" width="7.47" height="8" fill="#93b7dc"/>
<line x1="467.7" y1="73.57" x2="470.3" y2="73.57" stroke="#231f20" stroke-width="0.6"/>
<text x="478.37" y="75.8" font-size="6.2">18</text>
<rect x="433.98" y="83.4" width="5.32" height="8" fill="#4562ad"/>
<line x1="438.3" y1="87.4" x2="440.9" y2="87.4" stroke="#231f20" stroke-width="0.6"/>
<text x="432.58" y="89.61" font-size="6.15" text-anchor="end" textLength="30.74" lengthAdjust="spacingAndGlyphs">4.0% (1/25)</text>
<text x="454.4" y="89.67" font-size="6.3" text-anchor="middle">(0.4–0.5]</text>
<rect x="469.3" y="83.4" width="10.38" height="8" fill="#4562ad"/>
<line x1="467.7" y1="87.4" x2="470.3" y2="87.4" stroke="#231f20" stroke-width="0.6"/>
<text x="481.28" y="89.63" font-size="6.2">25</text>
<rect x="432.52" y="97.23" width="6.78" height="8" fill="#cd96c9"/>
<line x1="438.3" y1="101.23" x2="440.9" y2="101.23" stroke="#231f20" stroke-width="0.6"/>
<text x="431.12" y="103.44" font-size="6.15" text-anchor="end" textLength="30.74" lengthAdjust="spacingAndGlyphs">5.1% (2/39)</text>
<text x="454.4" y="103.5" font-size="6.3" text-anchor="middle">(0.3–0.4]</text>
<rect x="469.3" y="97.23" width="16.18" height="8" fill="#cd96c9"/>
<line x1="467.7" y1="101.23" x2="470.3" y2="101.23" stroke="#231f20" stroke-width="0.6"/>
<text x="487.09" y="103.46" font-size="6.2">39</text>
<rect x="436.77" y="111.06" width="2.53" height="8" fill="#d9737f"/>
<line x1="438.3" y1="115.06" x2="440.9" y2="115.06" stroke="#231f20" stroke-width="0.6"/>
<text x="435.37" y="117.27" font-size="6.15" text-anchor="end" textLength="29.7" lengthAdjust="spacingAndGlyphs">1.9% (1/53)</text>
<text x="454.4" y="117.33" font-size="6.3" text-anchor="middle">(0.2–0.3]</text>
<rect x="469.3" y="111.06" width="21.99" height="8" fill="#d9737f"/>
<line x1="467.7" y1="115.06" x2="470.3" y2="115.06" stroke="#231f20" stroke-width="0.6"/>
<text x="492.9" y="117.29" font-size="6.2">53</text>
<line x1="438.3" y1="128.89" x2="440.9" y2="128.89" stroke="#231f20" stroke-width="0.6"/>
<text x="436.1" y="131.1" font-size="6.15" text-anchor="end" textLength="26.66" lengthAdjust="spacingAndGlyphs">0% (0/83)</text>
<text x="454.4" y="131.16" font-size="6.3" text-anchor="middle">(0.1–0.2]</text>
<rect x="469.3" y="124.89" width="34.45" height="8" fill="#7c3a22"/>
<line x1="467.7" y1="128.89" x2="470.3" y2="128.89" stroke="#231f20" stroke-width="0.6"/>
<text x="505.35" y="131.12" font-size="6.2">83</text>
<line x1="438.3" y1="142.72" x2="440.9" y2="142.72" stroke="#231f20" stroke-width="0.6"/>
<text x="436.1" y="144.93" font-size="6.15" text-anchor="end" textLength="26.66" lengthAdjust="spacingAndGlyphs">0% (0/93)</text>
<text x="454.4" y="144.99" font-size="6.3" text-anchor="middle">[0.0–0.1]</text>
<rect x="469.3" y="138.72" width="38.59" height="8" fill="#a3a3a3"/>
<line x1="467.7" y1="142.72" x2="470.3" y2="142.72" stroke="#231f20" stroke-width="0.6"/>
<text x="509.5" y="144.95" font-size="6.2">93</text>
<line x1="439.3" y1="11" x2="439.3" y2="149.6" stroke="#8c8c8c" stroke-width="0.8"/>
<line x1="469.3" y1="11" x2="469.3" y2="149.6" stroke="#8c8c8c" stroke-width="0.8"/>
<line x1="399.4" y1="149.6" x2="439.7" y2="149.6" stroke="#8c8c8c" stroke-width="0.8"/>
<line x1="468.9" y1="149.6" x2="510.8" y2="149.6" stroke="#8c8c8c" stroke-width="0.8"/>
<line x1="399.4" y1="149.6" x2="399.4" y2="151.4" stroke="#8c8c8c" stroke-width="0.6"/>
<text x="399.4" y="158.63" font-size="6.2" text-anchor="middle">30</text>
<line x1="412.7" y1="149.6" x2="412.7" y2="151.4" stroke="#8c8c8c" stroke-width="0.6"/>
<text x="412.7" y="158.63" font-size="6.2" text-anchor="middle">20</text>
<line x1="426" y1="149.6" x2="426" y2="151.4" stroke="#8c8c8c" stroke-width="0.6"/>
<text x="426" y="158.63" font-size="6.2" text-anchor="middle">10</text>
<line x1="439.3" y1="149.6" x2="439.3" y2="151.4" stroke="#8c8c8c" stroke-width="0.6"/>
<text x="439.3" y="158.63" font-size="6.2" text-anchor="middle">0</text>
<line x1="469.3" y1="149.6" x2="469.3" y2="151.4" stroke="#8c8c8c" stroke-width="0.6"/>
<text x="469.3" y="158.63" font-size="6.2" text-anchor="middle">0</text>
<line x1="490" y1="149.6" x2="490" y2="151.4" stroke="#8c8c8c" stroke-width="0.6"/>
<text x="490" y="158.63" font-size="6.2" text-anchor="middle">50</text>
<line x1="510.8" y1="149.6" x2="510.8" y2="151.4" stroke="#8c8c8c" stroke-width="0.6"/>
<text x="510.8" y="158.63" font-size="6.2" text-anchor="middle">100</text>
<text x="419.4" y="169.27" font-size="7.7" text-anchor="middle">Validation</text>
<text x="419.4" y="177.67" font-size="7.7" text-anchor="middle">Rate (%)</text>
<text x="489.8" y="169.27" font-size="7.7" text-anchor="middle">Compound</text>
<text x="489.8" y="177.67" font-size="7.7" text-anchor="middle">numbers</text>
<text x="522.1" y="8.2" font-size="12.3" fill="#000" font-weight="bold">e</text>
<rect x="570.75" y="17.65" width="6.93" height="6.64" fill="#084081"/>
<line x1="566.6" y1="20.97" x2="568.6" y2="20.97" stroke="#8c8c8c" stroke-width="0.6"/>
<text x="564.4" y="23.17" font-size="6.1" text-anchor="end">3902-71-4</text>
<line x1="574.22" y1="127" x2="574.22" y2="128.6" stroke="#8c8c8c" stroke-width="0.6"/>
<text x="576.32" y="131.6" font-size="6.1" text-anchor="end" transform="rotate(-90 576.32 131.6)">3902-71-4</text>
<rect x="570.75" y="24.99" width="6.93" height="6.64" fill="#e1f3dc"/>
<rect x="578.38" y="24.99" width="6.93" height="6.64" fill="#084081"/>
<line x1="566.6" y1="28.31" x2="568.6" y2="28.31" stroke="#8c8c8c" stroke-width="0.6"/>
<text x="564.4" y="30.51" font-size="6.1" text-anchor="end">149-30-4</text>
<line x1="581.85" y1="127" x2="581.85" y2="128.6" stroke="#8c8c8c" stroke-width="0.6"/>
<text x="583.95" y="131.6" font-size="6.1" text-anchor="end" transform="rotate(-90 583.95 131.6)">149-30-4</text>
<rect x="570.75" y="32.33" width="6.93" height="6.64" fill="#d4eece"/>
<rect x="578.38" y="32.33" width="6.93" height="6.64" fill="#e1f3dc"/>
<rect x="586.01" y="32.33" width="6.93" height="6.64" fill="#084081"/>
<line x1="566.6" y1="35.65" x2="568.6" y2="35.65" stroke="#8c8c8c" stroke-width="0.6"/>
<text x="564.4" y="37.85" font-size="6.1" text-anchor="end">519-23-3</text>
<line x1="589.48" y1="127" x2="589.48" y2="128.6" stroke="#8c8c8c" stroke-width="0.6"/>
<text x="591.58" y="131.6" font-size="6.1" text-anchor="end" transform="rotate(-90 591.58 131.6)">519-23-3</text>
<rect x="570.75" y="39.67" width="6.93" height="6.64" fill="#d6efd0"/>
<rect x="578.38" y="39.67" width="6.93" height="6.64" fill="#dff3da"/>
<rect x="586.01" y="39.67" width="6.93" height="6.64" fill="#bee5bf"/>
<rect x="593.64" y="39.67" width="6.93" height="6.64" fill="#084081"/>
<line x1="566.6" y1="42.99" x2="568.6" y2="42.99" stroke="#8c8c8c" stroke-width="0.6"/>
<text x="564.4" y="45.19" font-size="6.1" text-anchor="end">34316-15-9</text>
<line x1="597.11" y1="127" x2="597.11" y2="128.6" stroke="#8c8c8c" stroke-width="0.6"/>
<text x="599.21" y="131.6" font-size="6.1" text-anchor="end" transform="rotate(-90 599.21 131.6)">34316-15-9</text>
<rect x="570.75" y="47.01" width="6.93" height="6.64" fill="#d2eecc"/>
<rect x="578.38" y="47.01" width="6.93" height="6.64" fill="#dff3da"/>
<rect x="586.01" y="47.01" width="6.93" height="6.64" fill="#d6efd0"/>
<rect x="593.64" y="47.01" width="6.93" height="6.64" fill="#a6dcb6"/>
<rect x="601.27" y="47.01" width="6.93" height="6.64" fill="#084081"/>
<line x1="566.6" y1="50.33" x2="568.6" y2="50.33" stroke="#8c8c8c" stroke-width="0.6"/>
<text x="564.4" y="52.53" font-size="6.1" text-anchor="end">633-65-8</text>
<line x1="604.74" y1="127" x2="604.74" y2="128.6" stroke="#8c8c8c" stroke-width="0.6"/>
<text x="606.84" y="131.6" font-size="6.1" text-anchor="end" transform="rotate(-90 606.84 131.6)">633-65-8</text>
<rect x="570.75" y="54.35" width="6.93" height="6.64" fill="#c9eac4"/>
<rect x="578.38" y="54.35" width="6.93" height="6.64" fill="#dff3da"/>
<rect x="586.01" y="54.35" width="6.93" height="6.64" fill="#d4eece"/>
<rect x="593.64" y="54.35" width="6.93" height="6.64" fill="#d1edca"/>
<rect x="601.27" y="54.35" width="6.93" height="6.64" fill="#70c6c8"/>
<rect x="608.9" y="54.35" width="6.93" height="6.64" fill="#084081"/>
<line x1="566.6" y1="57.67" x2="568.6" y2="57.67" stroke="#8c8c8c" stroke-width="0.6"/>
<text x="564.4" y="59.87" font-size="6.1" text-anchor="end">136572-09-3</text>
<line x1="612.37" y1="127" x2="612.37" y2="128.6" stroke="#8c8c8c" stroke-width="0.6"/>
<text x="614.47" y="131.6" font-size="6.1" text-anchor="end" transform="rotate(-90 614.47 131.6)">136572-09-3</text>
<rect x="570.75" y="61.69" width="6.93" height="6.64" fill="#dcf1d7"/>
<rect x="578.38" y="61.69" width="6.93" height="6.64" fill="#dff3da"/>
<rect x="586.01" y="61.69" width="6.93" height="6.64" fill="#89d1bf"/>
<rect x="593.64" y="61.69" width="6.93" height="6.64" fill="#ceecc7"/>
<rect x="601.27" y="61.69" width="6.93" height="6.64" fill="#dcf1d7"/>
<rect x="608.9" y="61.69" width="6.93" height="6.64" fill="#d6efd0"/>
<rect x="616.53" y="61.69" width="6.93" height="6.64" fill="#084081"/>
<line x1="566.6" y1="65.01" x2="568.6" y2="65.01" stroke="#8c8c8c" stroke-width="0.6"/>
<text x="564.4" y="67.21" font-size="6.1" text-anchor="end">487-03-6</text>
<line x1="620" y1="127" x2="620" y2="128.6" stroke="#8c8c8c" stroke-width="0.6"/>
<text x="622.1" y="131.6" font-size="6.1" text-anchor="end" transform="rotate(-90 622.1 131.6)">487-03-6</text>
<rect x="570.75" y="69.03" width="6.93" height="6.64" fill="#d2eecc"/>
<rect x="578.38" y="69.03" width="6.93" height="6.64" fill="#dff3da"/>
<rect x="586.01" y="69.03" width="6.93" height="6.64" fill="#dcf1d7"/>
<rect x="593.64" y="69.03" width="6.93" height="6.64" fill="#d2eecc"/>
<rect x="601.27" y="69.03" width="6.93" height="6.64" fill="#c9eac4"/>
<rect x="608.9" y="69.03" width="6.93" height="6.64" fill="#bee5bf"/>
<rect x="616.53" y="69.03" width="6.93" height="6.64" fill="#d4eece"/>
<rect x="624.16" y="69.03" width="6.93" height="6.64" fill="#084081"/>
<line x1="566.6" y1="72.35" x2="568.6" y2="72.35" stroke="#8c8c8c" stroke-width="0.6"/>
<text x="564.4" y="74.55" font-size="6.1" text-anchor="end">915-67-3</text>
<line x1="627.62" y1="127" x2="627.62" y2="128.6" stroke="#8c8c8c" stroke-width="0.6"/>
<text x="629.73" y="131.6" font-size="6.1" text-anchor="end" transform="rotate(-90 629.73 131.6)">915-67-3</text>
<rect x="570.75" y="76.37" width="6.93" height="6.64" fill="#cfecc9"/>
<rect x="578.38" y="76.37" width="6.93" height="6.64" fill="#dff3da"/>
<rect x="586.01" y="76.37" width="6.93" height="6.64" fill="#dcf1d7"/>
<rect x="593.64" y="76.37" width="6.93" height="6.64" fill="#d1edca"/>
<rect x="601.27" y="76.37" width="6.93" height="6.64" fill="#7bccc4"/>
<rect x="608.9" y="76.37" width="6.93" height="6.64" fill="#65c0cb"/>
<rect x="616.53" y="76.37" width="6.93" height="6.64" fill="#d4eece"/>
<rect x="624.16" y="76.37" width="6.93" height="6.64" fill="#bbe4bd"/>
<rect x="631.79" y="76.37" width="6.93" height="6.64" fill="#084081"/>
<line x1="566.6" y1="79.69" x2="568.6" y2="79.69" stroke="#8c8c8c" stroke-width="0.6"/>
<text x="564.4" y="81.89" font-size="6.1" text-anchor="end">21080-31-9</text>
<line x1="635.25" y1="127" x2="635.25" y2="128.6" stroke="#8c8c8c" stroke-width="0.6"/>
<text x="637.36" y="131.6" font-size="6.1" text-anchor="end" transform="rotate(-90 637.36 131.6)">21080-31-9</text>
<rect x="570.75" y="83.71" width="6.93" height="6.64" fill="#c9eac4"/>
<rect x="578.38" y="83.71" width="6.93" height="6.64" fill="#dff3da"/>
<rect x="586.01" y="83.71" width="6.93" height="6.64" fill="#dcf1d7"/>
<rect x="593.64" y="83.71" width="6.93" height="6.64" fill="#d2eecc"/>
<rect x="601.27" y="83.71" width="6.93" height="6.64" fill="#98d7ba"/>
<rect x="608.9" y="83.71" width="6.93" height="6.64" fill="#6dc4c9"/>
<rect x="616.53" y="83.71" width="6.93" height="6.64" fill="#d4eece"/>
<rect x="624.16" y="83.71" width="6.93" height="6.64" fill="#bbe4bd"/>
<rect x="631.79" y="83.71" width="6.93" height="6.64" fill="#86d0c0"/>
<rect x="639.42" y="83.71" width="6.93" height="6.64" fill="#084081"/>
<line x1="566.6" y1="87.03" x2="568.6" y2="87.03" stroke="#8c8c8c" stroke-width="0.6"/>
<text x="564.4" y="89.23" font-size="6.1" text-anchor="end">81-88-9</text>
<line x1="642.88" y1="127" x2="642.88" y2="128.6" stroke="#8c8c8c" stroke-width="0.6"/>
<text x="644.99" y="131.6" font-size="6.1" text-anchor="end" transform="rotate(-90 644.99 131.6)">81-88-9</text>
<rect x="570.75" y="91.05" width="6.93" height="6.64" fill="#ecf8e6"/>
<rect x="578.38" y="91.05" width="6.93" height="6.64" fill="#ecf8e6"/>
<rect x="586.01" y="91.05" width="6.93" height="6.64" fill="#ecf8e6"/>
<rect x="593.64" y="91.05" width="6.93" height="6.64" fill="#ecf8e6"/>
<rect x="601.27" y="91.05" width="6.93" height="6.64" fill="#ecf8e6"/>
<rect x="608.9" y="91.05" width="6.93" height="6.64" fill="#ecf8e6"/>
<rect x="616.53" y="91.05" width="6.93" height="6.64" fill="#ecf8e6"/>
<rect x="624.16" y="91.05" width="6.93" height="6.64" fill="#ecf8e6"/>
<rect x="631.79" y="91.05" width="6.93" height="6.64" fill="#ecf8e6"/>
<rect x="639.42" y="91.05" width="6.93" height="6.64" fill="#ecf8e6"/>
<rect x="647.05" y="91.05" width="6.93" height="6.64" fill="#084081"/>
<line x1="566.6" y1="94.37" x2="568.6" y2="94.37" stroke="#8c8c8c" stroke-width="0.6"/>
<text x="564.4" y="96.57" font-size="6.1" text-anchor="end">68-41-7</text>
<line x1="650.51" y1="127" x2="650.51" y2="128.6" stroke="#8c8c8c" stroke-width="0.6"/>
<text x="652.62" y="131.6" font-size="6.1" text-anchor="end" transform="rotate(-90 652.62 131.6)">68-41-7</text>
<rect x="570.75" y="98.39" width="6.93" height="6.64" fill="#d1edca"/>
<rect x="578.38" y="98.39" width="6.93" height="6.64" fill="#dff3da"/>
<rect x="586.01" y="98.39" width="6.93" height="6.64" fill="#d1edca"/>
<rect x="593.64" y="98.39" width="6.93" height="6.64" fill="#d1edca"/>
<rect x="601.27" y="98.39" width="6.93" height="6.64" fill="#d4eece"/>
<rect x="608.9" y="98.39" width="6.93" height="6.64" fill="#d6efd0"/>
<rect x="616.53" y="98.39" width="6.93" height="6.64" fill="#d6efd0"/>
<rect x="624.16" y="98.39" width="6.93" height="6.64" fill="#d6efd0"/>
<rect x="631.79" y="98.39" width="6.93" height="6.64" fill="#d4eece"/>
<rect x="639.42" y="98.39" width="6.93" height="6.64" fill="#d4eece"/>
<rect x="647.05" y="98.39" width="6.93" height="6.64" fill="#eaf7e4"/>
<rect x="654.68" y="98.39" width="6.93" height="6.64" fill="#084081"/>
<line x1="566.6" y1="101.71" x2="568.6" y2="101.71" stroke="#8c8c8c" stroke-width="0.6"/>
<text x="564.4" y="103.91" font-size="6.1" text-anchor="end">548-04-9</text>
<line x1="658.14" y1="127" x2="658.14" y2="128.6" stroke="#8c8c8c" stroke-width="0.6"/>
<text x="660.25" y="131.6" font-size="6.1" text-anchor="end" transform="rotate(-90 660.25 131.6)">548-04-9</text>
<rect x="570.75" y="105.73" width="6.93" height="6.64" fill="#e5f5df"/>
<rect x="578.38" y="105.73" width="6.93" height="6.64" fill="#e6f6e1"/>
<rect x="586.01" y="105.73" width="6.93" height="6.64" fill="#e5f5df"/>
<rect x="593.64" y="105.73" width="6.93" height="6.64" fill="#e5f5df"/>
<rect x="601.27" y="105.73" width="6.93" height="6.64" fill="#e5f5df"/>
<rect x="608.9" y="105.73" width="6.93" height="6.64" fill="#e5f5df"/>
<rect x="616.53" y="105.73" width="6.93" height="6.64" fill="#e6f6e1"/>
<rect x="624.16" y="105.73" width="6.93" height="6.64" fill="#e6f6e1"/>
<rect x="631.79" y="105.73" width="6.93" height="6.64" fill="#e8f6e3"/>
<rect x="639.42" y="105.73" width="6.93" height="6.64" fill="#e6f6e1"/>
<rect x="647.05" y="105.73" width="6.93" height="6.64" fill="#f0f9e9"/>
<rect x="654.68" y="105.73" width="6.93" height="6.64" fill="#d7efd1"/>
<rect x="662.31" y="105.73" width="6.93" height="6.64" fill="#084081"/>
<line x1="566.6" y1="109.05" x2="568.6" y2="109.05" stroke="#8c8c8c" stroke-width="0.6"/>
<text x="564.4" y="111.25" font-size="6.1" text-anchor="end">99-96-7</text>
<line x1="665.78" y1="127" x2="665.78" y2="128.6" stroke="#8c8c8c" stroke-width="0.6"/>
<text x="667.88" y="131.6" font-size="6.1" text-anchor="end" transform="rotate(-90 667.88 131.6)">99-96-7</text>
<rect x="570.75" y="113.07" width="6.93" height="6.64" fill="#eef8e8"/>
<rect x="578.38" y="113.07" width="6.93" height="6.64" fill="#eef8e8"/>
<rect x="586.01" y="113.07" width="6.93" height="6.64" fill="#eef8e8"/>
<rect x="593.64" y="113.07" width="6.93" height="6.64" fill="#eef8e8"/>
<rect x="601.27" y="113.07" width="6.93" height="6.64" fill="#eef8e8"/>
<rect x="608.9" y="113.07" width="6.93" height="6.64" fill="#eef8e8"/>
<rect x="616.53" y="113.07" width="6.93" height="6.64" fill="#eef8e8"/>
<rect x="624.16" y="113.07" width="6.93" height="6.64" fill="#eef8e8"/>
<rect x="631.79" y="113.07" width="6.93" height="6.64" fill="#eef8e8"/>
<rect x="639.42" y="113.07" width="6.93" height="6.64" fill="#eef8e8"/>
<rect x="647.05" y="113.07" width="6.93" height="6.64" fill="#e5f5df"/>
<rect x="654.68" y="113.07" width="6.93" height="6.64" fill="#eef8e8"/>
<rect x="662.31" y="113.07" width="6.93" height="6.64" fill="#eef8e8"/>
<rect x="669.94" y="113.07" width="6.93" height="6.64" fill="#084081"/>
<line x1="566.6" y1="116.39" x2="568.6" y2="116.39" stroke="#8c8c8c" stroke-width="0.6"/>
<text x="564.4" y="118.59" font-size="6.1" text-anchor="end">31635-99-1</text>
<line x1="673.4" y1="127" x2="673.4" y2="128.6" stroke="#8c8c8c" stroke-width="0.6"/>
<text x="675.5" y="131.6" font-size="6.1" text-anchor="end" transform="rotate(-90 675.5 131.6)">31635-99-1</text>
<rect x="570.75" y="120.41" width="6.93" height="6.64" fill="#d4eece"/>
<rect x="578.38" y="120.41" width="6.93" height="6.64" fill="#dcf1d7"/>
<rect x="586.01" y="120.41" width="6.93" height="6.64" fill="#d6efd0"/>
<rect x="593.64" y="120.41" width="6.93" height="6.64" fill="#9fdab8"/>
<rect x="601.27" y="120.41" width="6.93" height="6.64" fill="#084a8b"/>
<rect x="608.9" y="120.41" width="6.93" height="6.64" fill="#6dc4c9"/>
<rect x="616.53" y="120.41" width="6.93" height="6.64" fill="#d4eece"/>
<rect x="624.16" y="120.41" width="6.93" height="6.64" fill="#c9eac4"/>
<rect x="631.79" y="120.41" width="6.93" height="6.64" fill="#82cfc2"/>
<rect x="639.42" y="120.41" width="6.93" height="6.64" fill="#a6dcb6"/>
<rect x="647.05" y="120.41" width="6.93" height="6.64" fill="#ecf8e6"/>
<rect x="654.68" y="120.41" width="6.93" height="6.64" fill="#d4eece"/>
<rect x="662.31" y="120.41" width="6.93" height="6.64" fill="#e1f3dc"/>
<rect x="669.94" y="120.41" width="6.93" height="6.64" fill="#ecf8e6"/>
<rect x="677.57" y="120.41" width="6.93" height="6.64" fill="#084081"/>
<line x1="566.6" y1="123.73" x2="568.6" y2="123.73" stroke="#8c8c8c" stroke-width="0.6"/>
<text x="564.4" y="125.93" font-size="6.1" text-anchor="end">25459-91-0</text>
<line x1="681.04" y1="127" x2="681.04" y2="128.6" stroke="#8c8c8c" stroke-width="0.6"/>
<text x="683.14" y="131.6" font-size="6.1" text-anchor="end" transform="rotate(-90 683.14 131.6)">25459-91-0</text>
<text x="552.3" y="17.57" font-size="6.3" text-anchor="middle">CAS number</text>
<text x="563.3" y="150.2" font-size="6.3" text-anchor="middle" transform="rotate(-90 563.3 150.2)">CAS number</text>
<defs><linearGradient id="cb" x1="0" x2="1" y1="0" y2="0"><stop offset="0.000" stop-color="#f7fcf0"/><stop offset="0.125" stop-color="#e0f3db"/><stop offset="0.250" stop-color="#ccebc5"/><stop offset="0.375" stop-color="#a8ddb5"/><stop offset="0.500" stop-color="#7bccc4"/><stop offset="0.625" stop-color="#4eb3d3"/><stop offset="0.750" stop-color="#2b8cbe"/><stop offset="0.875" stop-color="#0868ac"/><stop offset="1.000" stop-color="#084081"/></linearGradient></defs>
<rect x="635.8" y="16" width="40.1" height="3.8" fill="url(#cb)"/>
<line x1="636.4" y1="19.8" x2="636.4" y2="21.6" stroke="#231f20" stroke-width="0.6"/>
<text x="636.4" y="27.13" font-size="6.2" text-anchor="middle">0</text>
<line x1="656.6" y1="19.8" x2="656.6" y2="21.6" stroke="#231f20" stroke-width="0.6"/>
<text x="656.6" y="27.13" font-size="6.2" text-anchor="middle">0.5</text>
<line x1="675.5" y1="19.8" x2="675.5" y2="21.6" stroke="#231f20" stroke-width="0.6"/>
<text x="675.5" y="27.13" font-size="6.2" text-anchor="middle">1.0</text>
<text x="656" y="12.67" font-size="6.3" text-anchor="middle">Tanimoto coefficient</text>
<text x="380.9" y="199.4" font-size="12.3" fill="#000" font-weight="bold">f</text>
<rect x="418.6" y="205.49" width="10.1" height="37.31" fill="#d9534b"/>
<rect x="435.54" y="205.49" width="10.1" height="37.31" fill="#d9534b"/>
<rect x="452.48" y="207.13" width="10.1" height="35.67" fill="#ec8c4e"/>
<rect x="469.42" y="208.77" width="10.1" height="34.03" fill="#ec8c4e"/>
<rect x="486.36" y="209.59" width="10.1" height="33.21" fill="#ec8c4e"/>
<rect x="503.3" y="210" width="10.1" height="32.8" fill="#e8c04a"/>
<rect x="520.24" y="210" width="10.1" height="32.8" fill="#e8c04a"/>
<rect x="537.18" y="210.41" width="10.1" height="32.39" fill="#e8c04a"/>
<rect x="554.12" y="212.05" width="10.1" height="30.75" fill="#e8c04a"/>
<rect x="571.06" y="213.28" width="10.1" height="29.52" fill="#e8c04a"/>
<rect x="588" y="216.97" width="10.1" height="25.83" fill="#5fb896"/>
<rect x="604.94" y="223.12" width="10.1" height="19.68" fill="#4a6ab5"/>
<rect x="621.88" y="225.99" width="10.1" height="16.81" fill="#cc94c6"/>
<rect x="638.82" y="228.45" width="10.1" height="14.35" fill="#cc94c6"/>
<rect x="655.76" y="232.14" width="10.1" height="10.66" fill="#d97783"/>
<line x1="413" y1="242.8" x2="415.6" y2="242.8" stroke="#8c8c8c" stroke-width="0.6"/>
<text x="410.9" y="245.07" font-size="6.3" text-anchor="end">0</text>
<line x1="413" y1="234.6" x2="415.6" y2="234.6" stroke="#8c8c8c" stroke-width="0.6"/>
<text x="410.9" y="236.87" font-size="6.3" text-anchor="end">0.2</text>
<line x1="413" y1="226.4" x2="415.6" y2="226.4" stroke="#8c8c8c" stroke-width="0.6"/>
<text x="410.9" y="228.67" font-size="6.3" text-anchor="end">0.4</text>
<line x1="413" y1="218.2" x2="415.6" y2="218.2" stroke="#8c8c8c" stroke-width="0.6"/>
<text x="410.9" y="220.47" font-size="6.3" text-anchor="end">0.6</text>
<line x1="413" y1="210" x2="415.6" y2="210" stroke="#8c8c8c" stroke-width="0.6"/>
<text x="410.9" y="212.27" font-size="6.3" text-anchor="end">0.8</text>
<line x1="413" y1="201.8" x2="415.6" y2="201.8" stroke="#8c8c8c" stroke-width="0.6"/>
<text x="410.9" y="204.07" font-size="6.3" text-anchor="end">1.0</text>
<line x1="415.6" y1="200.5" x2="415.6" y2="242.8" stroke="#8c8c8c" stroke-width="0.8"/>
<line x1="415.6" y1="214.1" x2="669.7" y2="214.1" stroke="#b4b4b4" stroke-width="0.8" stroke-dasharray="2.2 2.2"/>
<line x1="415.6" y1="243.1" x2="669.7" y2="243.1" stroke="#a0a0a0" stroke-width="1.2"/>
<text x="387.4" y="222.7" font-size="7.7" text-anchor="middle" transform="rotate(-90 387.4 222.7)">Binding</text>
<text x="395.6" y="222.7" font-size="7.7" text-anchor="middle" transform="rotate(-90 395.6 222.7)">score</text>
<line x1="423.65" y1="243.7" x2="423.65" y2="245.4" stroke="#231f20" stroke-width="0.6"/>
<text x="425.95" y="248.6" font-size="6.6" text-anchor="end" transform="rotate(-90 425.95 248.6)" textLength="27.35" lengthAdjust="spacingAndGlyphs">3902-71-4</text>
<line x1="440.59" y1="243.7" x2="440.59" y2="245.4" stroke="#231f20" stroke-width="0.6"/>
<text x="442.89" y="248.6" font-size="6.6" text-anchor="end" transform="rotate(-90 442.89 248.6)" textLength="24.02" lengthAdjust="spacingAndGlyphs">149-30-4</text>
<line x1="457.53" y1="243.7" x2="457.53" y2="245.4" stroke="#231f20" stroke-width="0.6"/>
<text x="459.83" y="248.6" font-size="6.6" text-anchor="end" transform="rotate(-90 459.83 248.6)" textLength="24.02" lengthAdjust="spacingAndGlyphs">519-23-3</text>
<line x1="474.47" y1="243.7" x2="474.47" y2="245.4" stroke="#231f20" stroke-width="0.6"/>
<text x="476.77" y="248.6" font-size="6.6" text-anchor="end" transform="rotate(-90 476.77 248.6)" textLength="30.69" lengthAdjust="spacingAndGlyphs">34316-15-9</text>
<line x1="491.41" y1="243.7" x2="491.41" y2="245.4" stroke="#231f20" stroke-width="0.6"/>
<text x="493.71" y="248.6" font-size="6.6" text-anchor="end" transform="rotate(-90 493.71 248.6)" textLength="24.02" lengthAdjust="spacingAndGlyphs">633-65-8</text>
<line x1="508.35" y1="243.7" x2="508.35" y2="245.4" stroke="#231f20" stroke-width="0.6"/>
<text x="510.65" y="248.6" font-size="6.6" text-anchor="end" transform="rotate(-90 510.65 248.6)" textLength="34.02" lengthAdjust="spacingAndGlyphs">136572-09-3</text>
<line x1="525.29" y1="243.7" x2="525.29" y2="245.4" stroke="#231f20" stroke-width="0.6"/>
<text x="527.59" y="248.6" font-size="6.6" text-anchor="end" transform="rotate(-90 527.59 248.6)" textLength="24.02" lengthAdjust="spacingAndGlyphs">487-03-6</text>
<line x1="542.23" y1="243.7" x2="542.23" y2="245.4" stroke="#231f20" stroke-width="0.6"/>
<text x="544.53" y="248.6" font-size="6.6" text-anchor="end" transform="rotate(-90 544.53 248.6)" textLength="24.02" lengthAdjust="spacingAndGlyphs">915-67-3</text>
<line x1="559.17" y1="243.7" x2="559.17" y2="245.4" stroke="#231f20" stroke-width="0.6"/>
<text x="561.47" y="248.6" font-size="6.6" text-anchor="end" transform="rotate(-90 561.47 248.6)" textLength="30.69" lengthAdjust="spacingAndGlyphs">21080-31-9</text>
<line x1="576.11" y1="243.7" x2="576.11" y2="245.4" stroke="#231f20" stroke-width="0.6"/>
<text x="578.41" y="248.6" font-size="6.6" text-anchor="end" transform="rotate(-90 578.41 248.6)" textLength="20.68" lengthAdjust="spacingAndGlyphs">81-88-9</text>
<line x1="593.05" y1="243.7" x2="593.05" y2="245.4" stroke="#231f20" stroke-width="0.6"/>
<text x="595.35" y="248.6" font-size="6.6" text-anchor="end" transform="rotate(-90 595.35 248.6)" textLength="20.68" lengthAdjust="spacingAndGlyphs">68-41-7</text>
<line x1="609.99" y1="243.7" x2="609.99" y2="245.4" stroke="#231f20" stroke-width="0.6"/>
<text x="612.29" y="248.6" font-size="6.6" text-anchor="end" transform="rotate(-90 612.29 248.6)" textLength="24.02" lengthAdjust="spacingAndGlyphs">548-04-9</text>
<line x1="626.93" y1="243.7" x2="626.93" y2="245.4" stroke="#231f20" stroke-width="0.6"/>
<text x="629.23" y="248.6" font-size="6.6" text-anchor="end" transform="rotate(-90 629.23 248.6)" textLength="20.68" lengthAdjust="spacingAndGlyphs">99-96-7</text>
<line x1="643.87" y1="243.7" x2="643.87" y2="245.4" stroke="#231f20" stroke-width="0.6"/>
<text x="646.17" y="248.6" font-size="6.6" text-anchor="end" transform="rotate(-90 646.17 248.6)" textLength="30.69" lengthAdjust="spacingAndGlyphs">31635-99-1</text>
<line x1="660.81" y1="243.7" x2="660.81" y2="245.4" stroke="#231f20" stroke-width="0.6"/>
<text x="663.11" y="248.6" font-size="6.6" text-anchor="end" transform="rotate(-90 663.11 248.6)" textLength="30.69" lengthAdjust="spacingAndGlyphs">25459-91-0</text>
<text x="387" y="263.8" font-size="7.7" text-anchor="middle" transform="rotate(-90 387 263.8)">CAS</text>
<text x="396.2" y="263.8" font-size="7.7" text-anchor="middle" transform="rotate(-90 396.2 263.8)">number</text>
<rect x="418.6" y="289.7" width="10.1" height="38.5" fill="#d9534b"/>
<rect x="435.54" y="289.7" width="10.1" height="38.5" fill="#d9534b"/>
<rect x="452.48" y="289.7" width="10.1" height="3.89" fill="#ec8c4e"/>
<rect x="469.42" y="289.7" width="10.1" height="6.02" fill="#ec8c4e"/>
<rect x="486.36" y="289.7" width="10.1" height="38.5" fill="#ec8c4e"/>
<rect x="503.3" y="289.7" width="10.1" height="29.74" fill="#e8c04a"/>
<rect x="520.24" y="289.7" width="10.1" height="31.51" fill="#e8c04a"/>
<rect x="537.18" y="289.7" width="10.1" height="38.5" fill="#e8c04a"/>
<rect x="554.12" y="289.7" width="10.1" height="12.74" fill="#e8c04a"/>
<rect x="571.06" y="289.7" width="10.1" height="38.5" fill="#e8c04a"/>
<rect x="588" y="289.7" width="10.1" height="1.42" fill="#5fb896"/>
<rect x="604.94" y="289.7" width="10.1" height="2.83" fill="#4a6ab5"/>
<rect x="621.88" y="289.7" width="10.1" height="27.61" fill="#cc94c6"/>
<rect x="638.82" y="289.7" width="10.1" height="38.5" fill="#cc94c6"/>
<rect x="655.76" y="289.7" width="10.1" height="38.5" fill="#d97783"/>
<line x1="413.5" y1="325.3" x2="669.0" y2="325.3" stroke="#b4b4b4" stroke-width="0.8" stroke-dasharray="2.2 2.2"/>
<line x1="413.3" y1="289.7" x2="668.6" y2="289.7" stroke="#a0a0a0" stroke-width="1.2"/>
<line x1="410.9" y1="289.7" x2="413.3" y2="289.7" stroke="#8c8c8c" stroke-width="0.6"/>
<text x="410.3" y="291.97" font-size="6.3" text-anchor="end">0</text>
<line x1="410.9" y1="298.55" x2="413.3" y2="298.55" stroke="#8c8c8c" stroke-width="0.6"/>
<text x="410.3" y="300.82" font-size="6.3" text-anchor="end">25</text>
<line x1="410.9" y1="307.4" x2="413.3" y2="307.4" stroke="#8c8c8c" stroke-width="0.6"/>
<text x="410.3" y="309.67" font-size="6.3" text-anchor="end">50</text>
<line x1="410.9" y1="316.25" x2="413.3" y2="316.25" stroke="#8c8c8c" stroke-width="0.6"/>
<text x="410.3" y="318.52" font-size="6.3" text-anchor="end">75</text>
<line x1="410.9" y1="325.1" x2="413.3" y2="325.1" stroke="#8c8c8c" stroke-width="0.6"/>
<text x="410.3" y="327.37" font-size="6.3" text-anchor="end">&gt;100</text>
<line x1="423.65" y1="287.5" x2="423.65" y2="289.1" stroke="#231f20" stroke-width="0.6"/>
<line x1="440.59" y1="287.5" x2="440.59" y2="289.1" stroke="#231f20" stroke-width="0.6"/>
<line x1="457.53" y1="287.5" x2="457.53" y2="289.1" stroke="#231f20" stroke-width="0.6"/>
<line x1="474.47" y1="287.5" x2="474.47" y2="289.1" stroke="#231f20" stroke-width="0.6"/>
<line x1="491.41" y1="287.5" x2="491.41" y2="289.1" stroke="#231f20" stroke-width="0.6"/>
<line x1="508.35" y1="287.5" x2="508.35" y2="289.1" stroke="#231f20" stroke-width="0.6"/>
<line x1="525.29" y1="287.5" x2="525.29" y2="289.1" stroke="#231f20" stroke-width="0.6"/>
<line x1="542.23" y1="287.5" x2="542.23" y2="289.1" stroke="#231f20" stroke-width="0.6"/>
<line x1="559.17" y1="287.5" x2="559.17" y2="289.1" stroke="#231f20" stroke-width="0.6"/>
<line x1="576.11" y1="287.5" x2="576.11" y2="289.1" stroke="#231f20" stroke-width="0.6"/>
<line x1="593.05" y1="287.5" x2="593.05" y2="289.1" stroke="#231f20" stroke-width="0.6"/>
<line x1="609.99" y1="287.5" x2="609.99" y2="289.1" stroke="#231f20" stroke-width="0.6"/>
<line x1="626.93" y1="287.5" x2="626.93" y2="289.1" stroke="#231f20" stroke-width="0.6"/>
<line x1="643.87" y1="287.5" x2="643.87" y2="289.1" stroke="#231f20" stroke-width="0.6"/>
<line x1="660.81" y1="287.5" x2="660.81" y2="289.1" stroke="#231f20" stroke-width="0.6"/>
<text x="394.5" y="307.4" font-size="7.7" text-anchor="middle" transform="rotate(-90 394.5 307.4)"><tspan font-style="italic">K</tspan><tspan font-size="5" dy="1.5">d</tspan><tspan dy="-1.5"> (µM)</tspan></text>
<text x="140.3" y="8.6" font-size="12.3" fill="#000" font-weight="bold">c</text>
<circle cx="144.7" cy="23.0" r="2.4" fill="#b8b8b8"/>
<text x="150.4" y="25.27" font-size="6.3">Natural product library (<tspan font-style="italic">n</tspan> = 7,350)</text>
<circle cx="144.7" cy="33.0" r="2.4" fill="#2f9e3f"/>
<text x="150.4" y="35.27" font-size="6.3">Down-sampled subset (<tspan font-style="italic">n</tspan> = 376)</text>
<circle cx="144.7" cy="42.5" r="2.4" fill="#e02424"/>
<text x="150.4" y="44.77" font-size="6.3">Experimentally validated binders (<tspan font-style="italic">n</tspan> = 15)</text>
<line x1="160.3" y1="266.5" x2="160.3" y2="292.6" stroke="#231f20" stroke-width="0.8"/>
<line x1="160" y1="292.6" x2="188" y2="292.6" stroke="#231f20" stroke-width="0.8"/>
<path d="M160.3 263.5L161.9 267.3L158.7 267.3z" fill="#231f20"/>
<path d="M190.8 292.6L187.0 291.0L187.0 294.2z" fill="#231f20"/>
<text x="157.1" y="281.4" font-size="5.6" text-anchor="middle" transform="rotate(-90 157.1 281.4)" textLength="19.5" lengthAdjust="spacingAndGlyphs">TSNE_1</text>
<text x="172.8" y="300.72" font-size="5.6" text-anchor="middle" textLength="20.6" lengthAdjust="spacingAndGlyphs">TSNE_0</text>
<path d="M224.1 60.2a1.6 1.6 0 1 0 3.2 0a1.6 1.6 0 1 0 -3.2 0M212.7 72.3a1.6 1.6 0 1 0 3.2 0a1.6 1.6 0 1 0 -3.2 0M210.3 69.9a1.6 1.6 0 1 0 3.2 0a1.6 1.6 0 1 0 -3.2 0M215.8 70.7a1.6 1.6 0 1 0 3.2 0a1.6 1.6 0 1 0 -3.2 0M216.8 68.3a1.6 1.6 0 1 0 3.2 0a1.6 1.6 0 1 0 -3.2 0M223.0 73.1a1.6 1.6 0 1 0 3.2 0a1.6 1.6 0 1 0 -3.2 0M227.4 69.8a1.6 1.6 0 1 0 3.2 0a1.6 1.6 0 1 0 -3.2 0M224.9 66.0a1.6 1.6 0 1 0 3.2 0a1.6 1.6 0 1 0 -3.2 0M227.8 72.9a1.6 1.6 0 1 0 3.2 0a1.6 1.6 0 1 0 -3.2 0M232.4 71.5a1.6 1.6 0 1 0 3.2 0a1.6 1.6 0 1 0 -3.2 0M230.4 66.6a1.6 1.6 0 1 0 3.2 0a1.6 1.6 0 1 0 -3.2 0M206.9 82.9a1.6 1.6 0 1 0 3.2 0a1.6 1.6 0 1 0 -3.2 0M206.7 78.0a1.6 1.6 0 1 0 3.2 0a1.6 1.6 0 1 0 -3.2 0M202.6 78.7a1.6 1.6 0 1 0 3.2 0a1.6 1.6 0 1 0 -3.2 0M217.5 76.9a1.6 1.6 0 1 0 3.2 0a1.6 1.6 0 1 0 -3.2 0M210.5 77.6a1.6 1.6 0 1 0 3.2 0a1.6 1.6 0 1 0 -3.2 0M211.0 79.9a1.6 1.6 0 1 0 3.2 0a1.6 1.6 0 1 0 -3.2 0M225.1 80.1a1.6 1.6 0 1 0 3.2 0a1.6 1.6 0 1 0 -3.2 0M219.4 83.6a1.6 1.6 0 1 0 3.2 0a1.6 1.6 0 1 0 -3.2 0M236.8 82.7a1.6 1.6 0 1 0 3.2 0a1.6 1.6 0 1 0 -3.2 0M249.8 81.2a1.6 1.6 0 1 0 3.2 0a1.6 1.6 0 1 0 -3.2 0M249.5 76.1a1.6 1.6 0 1 0 3.2 0a1.6 1.6 0 1 0 -3.2 0M206.8 91.0a1.6 1.6 0 1 0 3.2 0a1.6 1.6 0 1 0 -3.2 0M211.2 88.6a1.6 1.6 0 1 0 3.2 0a1.6 1.6 0 1 0 -3.2 0M212.2 86.6a1.6 1.6 0 1 0 3.2 0a1.6 1.6 0 1 0 -3.2 0M216.5 94.4a1.6 1.6 0 1 0 3.2 0a1.6 1.6 0 1 0 -3.2 0M213.1 89.9a1.6 1.6 0 1 0 3.2 0a1.6 1.6 0 1 0 -3.2 0M209.7 86.4a1.6 1.6 0 1 0 3.2 0a1.6 1.6 0 1 0 -3.2 0M221.3 93.0a1.6 1.6 0 1 0 3.2 0a1.6 1.6 0 1 0 -3.2 0M220.4 85.7a1.6 1.6 0 1 0 3.2 0a1.6 1.6 0 1 0 -3.2 0M227.5 90.3a1.6 1.6 0 1 0 3.2 0a1.6 1.6 0 1 0 -3.2 0M220.2 90.4a1.6 1.6 0 1 0 3.2 0a1.6 1.6 0 1 0 -3.2 0M227.7 93.3a1.6 1.6 0 1 0 3.2 0a1.6 1.6 0 1 0 -3.2 0M231.3 88.8a1.6 1.6 0 1 0 3.2 0a1.6 1.6 0 1 0 -3.2 0M230.4 92.4a1.6 1.6 0 1 0 3.2 0a1.6 1.6 0 1 0 -3.2 0M247.8 93.2a1.6 1.6 0 1 0 3.2 0a1.6 1.6 0 1 0 -3.2 0M245.6 87.5a1.6 1.6 0 1 0 3.2 0a1.6 1.6 0 1 0 -3.2 0M249.2 88.0a1.6 1.6 0 1 0 3.2 0a1.6 1.6 0 1 0 -3.2 0M251.2 91.7a1.6 1.6 0 1 0 3.2 0a1.6 1.6 0 1 0 -3.2 0M257.5 89.5a1.6 1.6 0 1 0 3.2 0a1.6 1.6 0 1 0 -3.2 0M257.3 94.4a1.6 1.6 0 1 0 3.2 0a1.6 1.6 0 1 0 -3.2 0M200.9 97.3a1.6 1.6 0 1 0 3.2 0a1.6 1.6 0 1 0 -3.2 0M216.5 99.8a1.6 1.6 0 1 0 3.2 0a1.6 1.6 0 1 0 -3.2 0M214.8 102.7a1.6 1.6 0 1 0 3.2 0a1.6 1.6 0 1 0 -3.2 0M217.1 102.5a1.6 1.6 0 1 0 3.2 0a1.6 1.6 0 1 0 -3.2 0M223.2 97.1a1.6 1.6 0 1 0 3.2 0a1.6 1.6 0 1 0 -3.2 0M226.0 98.5a1.6 1.6 0 1 0 3.2 0a1.6 1.6 0 1 0 -3.2 0M226.1 104.2a1.6 1.6 0 1 0 3.2 0a1.6 1.6 0 1 0 -3.2 0M227.4 102.0a1.6 1.6 0 1 0 3.2 0a1.6 1.6 0 1 0 -3.2 0M220.4 96.6a1.6 1.6 0 1 0 3.2 0a1.6 1.6 0 1 0 -3.2 0M220.3 103.6a1.6 1.6 0 1 0 3.2 0a1.6 1.6 0 1 0 -3.2 0M230.2 102.9a1.6 1.6 0 1 0 3.2 0a1.6 1.6 0 1 0 -3.2 0M237.7 101.4a1.6 1.6 0 1 0 3.2 0a1.6 1.6 0 1 0 -3.2 0M232.1 100.4a1.6 1.6 0 1 0 3.2 0a1.6 1.6 0 1 0 -3.2 0M230.1 95.6a1.6 1.6 0 1 0 3.2 0a1.6 1.6 0 1 0 -3.2 0M233.6 103.9a1.6 1.6 0 1 0 3.2 0a1.6 1.6 0 1 0 -3.2 0M240.8 97.8a1.6 1.6 0 1 0 3.2 0a1.6 1.6 0 1 0 -3.2 0M244.2 97.8a1.6 1.6 0 1 0 3.2 0a1.6 1.6 0 1 0 -3.2 0M247.1 98.7a1.6 1.6 0 1 0 3.2 0a1.6 1.6 0 1 0 -3.2 0M243.0 100.8a1.6 1.6 0 1 0 3.2 0a1.6 1.6 0 1 0 -3.2 0M239.1 99.5a1.6 1.6 0 1 0 3.2 0a1.6 1.6 0 1 0 -3.2 0M255.4 100.5a1.6 1.6 0 1 0 3.2 0a1.6 1.6 0 1 0 -3.2 0M251.8 100.2a1.6 1.6 0 1 0 3.2 0a1.6 1.6 0 1 0 -3.2 0M253.9 102.6a1.6 1.6 0 1 0 3.2 0a1.6 1.6 0 1 0 -3.2 0M251.1 98.0a1.6 1.6 0 1 0 3.2 0a1.6 1.6 0 1 0 -3.2 0M249.6 101.5a1.6 1.6 0 1 0 3.2 0a1.6 1.6 0 1 0 -3.2 0M256.0 103.6a1.6 1.6 0 1 0 3.2 0a1.6 1.6 0 1 0 -3.2 0M262.8 70.1a1.6 1.6 0 1 0 3.2 0a1.6 1.6 0 1 0 -3.2 0M262.0 67.3a1.6 1.6 0 1 0 3.2 0a1.6 1.6 0 1 0 -3.2 0M259.1 70.5a1.6 1.6 0 1 0 3.2 0a1.6 1.6 0 1 0 -3.2 0M267.8 72.6a1.6 1.6 0 1 0 3.2 0a1.6 1.6 0 1 0 -3.2 0M291.3 66.7a1.6 1.6 0 1 0 3.2 0a1.6 1.6 0 1 0 -3.2 0M314.0 71.8a1.6 1.6 0 1 0 3.2 0a1.6 1.6 0 1 0 -3.2 0M259.4 81.7a1.6 1.6 0 1 0 3.2 0a1.6 1.6 0 1 0 -3.2 0M262.7 76.2a1.6 1.6 0 1 0 3.2 0a1.6 1.6 0 1 0 -3.2 0M267.3 81.2a1.6 1.6 0 1 0 3.2 0a1.6 1.6 0 1 0 -3.2 0M269.7 83.2a1.6 1.6 0 1 0 3.2 0a1.6 1.6 0 1 0 -3.2 0M273.0 78.6a1.6 1.6 0 1 0 3.2 0a1.6 1.6 0 1 0 -3.2 0M287.2 77.9a1.6 1.6 0 1 0 3.2 0a1.6 1.6 0 1 0 -3.2 0M280.1 80.2a1.6 1.6 0 1 0 3.2 0a1.6 1.6 0 1 0 -3.2 0M281.0 76.5a1.6 1.6 0 1 0 3.2 0a1.6 1.6 0 1 0 -3.2 0M291.7 78.2a1.6 1.6 0 1 0 3.2 0a1.6 1.6 0 1 0 -3.2 0M295.7 78.1a1.6 1.6 0 1 0 3.2 0a1.6 1.6 0 1 0 -3.2 0M292.0 75.7a1.6 1.6 0 1 0 3.2 0a1.6 1.6 0 1 0 -3.2 0M295.5 80.5a1.6 1.6 0 1 0 3.2 0a1.6 1.6 0 1 0 -3.2 0M297.3 76.5a1.6 1.6 0 1 0 3.2 0a1.6 1.6 0 1 0 -3.2 0M302.8 80.0a1.6 1.6 0 1 0 3.2 0a1.6 1.6 0 1 0 -3.2 0M306.4 79.0a1.6 1.6 0 1 0 3.2 0a1.6 1.6 0 1 0 -3.2 0M306.4 81.9a1.6 1.6 0 1 0 3.2 0a1.6 1.6 0 1 0 -3.2 0M260.1 86.1a1.6 1.6 0 1 0 3.2 0a1.6 1.6 0 1 0 -3.2 0M265.6 87.8a1.6 1.6 0 1 0 3.2 0a1.6 1.6 0 1 0 -3.2 0M266.5 93.3a1.6 1.6 0 1 0 3.2 0a1.6 1.6 0 1 0 -3.2 0M263.4 85.5a1.6 1.6 0 1 0 3.2 0a1.6 1.6 0 1 0 -3.2 0M261.0 90.8a1.6 1.6 0 1 0 3.2 0a1.6 1.6 0 1 0 -3.2 0M272.4 88.4a1.6 1.6 0 1 0 3.2 0a1.6 1.6 0 1 0 -3.2 0M277.8 86.8a1.6 1.6 0 1 0 3.2 0a1.6 1.6 0 1 0 -3.2 0M269.3 93.0a1.6 1.6 0 1 0 3.2 0a1.6 1.6 0 1 0 -3.2 0M276.9 91.1a1.6 1.6 0 1 0 3.2 0a1.6 1.6 0 1 0 -3.2 0M283.6 90.0a1.6 1.6 0 1 0 3.2 0a1.6 1.6 0 1 0 -3.2 0M294.2 93.5a1.6 1.6 0 1 0 3.2 0a1.6 1.6 0 1 0 -3.2 0M299.2 86.7a1.6 1.6 0 1 0 3.2 0a1.6 1.6 0 1 0 -3.2 0M302.1 86.4a1.6 1.6 0 1 0 3.2 0a1.6 1.6 0 1 0 -3.2 0M298.9 92.7a1.6 1.6 0 1 0 3.2 0a1.6 1.6 0 1 0 -3.2 0M301.3 92.1a1.6 1.6 0 1 0 3.2 0a1.6 1.6 0 1 0 -3.2 0M262.3 99.8a1.6 1.6 0 1 0 3.2 0a1.6 1.6 0 1 0 -3.2 0M264.5 101.3a1.6 1.6 0 1 0 3.2 0a1.6 1.6 0 1 0 -3.2 0M259.6 96.8a1.6 1.6 0 1 0 3.2 0a1.6 1.6 0 1 0 -3.2 0M274.9 101.7a1.6 1.6 0 1 0 3.2 0a1.6 1.6 0 1 0 -3.2 0M275.0 98.1a1.6 1.6 0 1 0 3.2 0a1.6 1.6 0 1 0 -3.2 0M280.0 103.5a1.6 1.6 0 1 0 3.2 0a1.6 1.6 0 1 0 -3.2 0M287.3 95.7a1.6 1.6 0 1 0 3.2 0a1.6 1.6 0 1 0 -3.2 0M296.3 104.2a1.6 1.6 0 1 0 3.2 0a1.6 1.6 0 1 0 -3.2 0M292.9 97.9a1.6 1.6 0 1 0 3.2 0a1.6 1.6 0 1 0 -3.2 0M307.4 97.4a1.6 1.6 0 1 0 3.2 0a1.6 1.6 0 1 0 -3.2 0M304.1 96.8a1.6 1.6 0 1 0 3.2 0a1.6 1.6 0 1 0 -3.2 0M317.5 96.7a1.6 1.6 0 1 0 3.2 0a1.6 1.6 0 1 0 -3.2 0M316.3 100.1a1.6 1.6 0 1 0 3.2 0a1.6 1.6 0 1 0 -3.2 0M311.0 103.6a1.6 1.6 0 1 0 3.2 0a1.6 1.6 0 1 0 -3.2 0M327.3 87.7a1.6 1.6 0 1 0 3.2 0a1.6 1.6 0 1 0 -3.2 0M334.6 93.7a1.6 1.6 0 1 0 3.2 0a1.6 1.6 0 1 0 -3.2 0M323.0 102.3a1.6 1.6 0 1 0 3.2 0a1.6 1.6 0 1 0 -3.2 0M340.0 99.7a1.6 1.6 0 1 0 3.2 0a1.6 1.6 0 1 0 -3.2 0M190.6 106.3a1.6 1.6 0 1 0 3.2 0a1.6 1.6 0 1 0 -3.2 0M194.0 113.5a1.6 1.6 0 1 0 3.2 0a1.6 1.6 0 1 0 -3.2 0M195.6 109.2a1.6 1.6 0 1 0 3.2 0a1.6 1.6 0 1 0 -3.2 0M173.4 121.2a1.6 1.6 0 1 0 3.2 0a1.6 1.6 0 1 0 -3.2 0M176.7 117.4a1.6 1.6 0 1 0 3.2 0a1.6 1.6 0 1 0 -3.2 0M171.3 117.7a1.6 1.6 0 1 0 3.2 0a1.6 1.6 0 1 0 -3.2 0M187.0 119.8a1.6 1.6 0 1 0 3.2 0a1.6 1.6 0 1 0 -3.2 0M184.2 115.5a1.6 1.6 0 1 0 3.2 0a1.6 1.6 0 1 0 -3.2 0M183.6 121.6a1.6 1.6 0 1 0 3.2 0a1.6 1.6 0 1 0 -3.2 0M179.3 122.5a1.6 1.6 0 1 0 3.2 0a1.6 1.6 0 1 0 -3.2 0M194.7 118.2a1.6 1.6 0 1 0 3.2 0a1.6 1.6 0 1 0 -3.2 0M190.1 117.8a1.6 1.6 0 1 0 3.2 0a1.6 1.6 0 1 0 -3.2 0M194.6 121.8a1.6 1.6 0 1 0 3.2 0a1.6 1.6 0 1 0 -3.2 0M192.4 117.5a1.6 1.6 0 1 0 3.2 0a1.6 1.6 0 1 0 -3.2 0M191.6 119.6a1.6 1.6 0 1 0 3.2 0a1.6 1.6 0 1 0 -3.2 0M197.5 121.3a1.6 1.6 0 1 0 3.2 0a1.6 1.6 0 1 0 -3.2 0M141.0 127.7a1.6 1.6 0 1 0 3.2 0a1.6 1.6 0 1 0 -3.2 0M147.5 131.8a1.6 1.6 0 1 0 3.2 0a1.6 1.6 0 1 0 -3.2 0M143.4 131.6a1.6 1.6 0 1 0 3.2 0a1.6 1.6 0 1 0 -3.2 0M154.9 133.8a1.6 1.6 0 1 0 3.2 0a1.6 1.6 0 1 0 -3.2 0M150.9 125.8a1.6 1.6 0 1 0 3.2 0a1.6 1.6 0 1 0 -3.2 0M151.9 129.3a1.6 1.6 0 1 0 3.2 0a1.6 1.6 0 1 0 -3.2 0M155.0 127.3a1.6 1.6 0 1 0 3.2 0a1.6 1.6 0 1 0 -3.2 0M157.6 128.3a1.6 1.6 0 1 0 3.2 0a1.6 1.6 0 1 0 -3.2 0M150.9 132.3a1.6 1.6 0 1 0 3.2 0a1.6 1.6 0 1 0 -3.2 0M149.4 129.0a1.6 1.6 0 1 0 3.2 0a1.6 1.6 0 1 0 -3.2 0M157.0 125.8a1.6 1.6 0 1 0 3.2 0a1.6 1.6 0 1 0 -3.2 0M157.5 131.1a1.6 1.6 0 1 0 3.2 0a1.6 1.6 0 1 0 -3.2 0M161.7 128.0a1.6 1.6 0 1 0 3.2 0a1.6 1.6 0 1 0 -3.2 0M167.1 131.2a1.6 1.6 0 1 0 3.2 0a1.6 1.6 0 1 0 -3.2 0M167.4 125.7a1.6 1.6 0 1 0 3.2 0a1.6 1.6 0 1 0 -3.2 0M167.5 134.1a1.6 1.6 0 1 0 3.2 0a1.6 1.6 0 1 0 -3.2 0M164.4 128.5a1.6 1.6 0 1 0 3.2 0a1.6 1.6 0 1 0 -3.2 0M160.7 132.3a1.6 1.6 0 1 0 3.2 0a1.6 1.6 0 1 0 -3.2 0M161.8 134.3a1.6 1.6 0 1 0 3.2 0a1.6 1.6 0 1 0 -3.2 0M159.8 130.0a1.6 1.6 0 1 0 3.2 0a1.6 1.6 0 1 0 -3.2 0M164.5 131.6a1.6 1.6 0 1 0 3.2 0a1.6 1.6 0 1 0 -3.2 0M174.9 126.6a1.6 1.6 0 1 0 3.2 0a1.6 1.6 0 1 0 -3.2 0M174.0 128.9a1.6 1.6 0 1 0 3.2 0a1.6 1.6 0 1 0 -3.2 0M171.1 127.7a1.6 1.6 0 1 0 3.2 0a1.6 1.6 0 1 0 -3.2 0M170.3 133.5a1.6 1.6 0 1 0 3.2 0a1.6 1.6 0 1 0 -3.2 0M172.5 134.4a1.6 1.6 0 1 0 3.2 0a1.6 1.6 0 1 0 -3.2 0M176.2 131.4a1.6 1.6 0 1 0 3.2 0a1.6 1.6 0 1 0 -3.2 0M183.2 132.9a1.6 1.6 0 1 0 3.2 0a1.6 1.6 0 1 0 -3.2 0M186.5 133.7a1.6 1.6 0 1 0 3.2 0a1.6 1.6 0 1 0 -3.2 0M179.3 128.1a1.6 1.6 0 1 0 3.2 0a1.6 1.6 0 1 0 -3.2 0M187.7 130.7a1.6 1.6 0 1 0 3.2 0a1.6 1.6 0 1 0 -3.2 0M187.4 126.5a1.6 1.6 0 1 0 3.2 0a1.6 1.6 0 1 0 -3.2 0M181.2 130.9a1.6 1.6 0 1 0 3.2 0a1.6 1.6 0 1 0 -3.2 0M184.8 127.3a1.6 1.6 0 1 0 3.2 0a1.6 1.6 0 1 0 -3.2 0M195.0 127.2a1.6 1.6 0 1 0 3.2 0a1.6 1.6 0 1 0 -3.2 0M191.7 127.3a1.6 1.6 0 1 0 3.2 0a1.6 1.6 0 1 0 -3.2 0M196.1 130.4a1.6 1.6 0 1 0 3.2 0a1.6 1.6 0 1 0 -3.2 0M192.5 130.5a1.6 1.6 0 1 0 3.2 0a1.6 1.6 0 1 0 -3.2 0M190.4 131.8a1.6 1.6 0 1 0 3.2 0a1.6 1.6 0 1 0 -3.2 0M191.7 134.1a1.6 1.6 0 1 0 3.2 0a1.6 1.6 0 1 0 -3.2 0M196.7 134.5a1.6 1.6 0 1 0 3.2 0a1.6 1.6 0 1 0 -3.2 0M145.5 137.3a1.6 1.6 0 1 0 3.2 0a1.6 1.6 0 1 0 -3.2 0M152.7 142.9a1.6 1.6 0 1 0 3.2 0a1.6 1.6 0 1 0 -3.2 0M153.0 137.0a1.6 1.6 0 1 0 3.2 0a1.6 1.6 0 1 0 -3.2 0M149.0 140.5a1.6 1.6 0 1 0 3.2 0a1.6 1.6 0 1 0 -3.2 0M152.2 140.0a1.6 1.6 0 1 0 3.2 0a1.6 1.6 0 1 0 -3.2 0M150.2 138.0a1.6 1.6 0 1 0 3.2 0a1.6 1.6 0 1 0 -3.2 0M156.1 144.2a1.6 1.6 0 1 0 3.2 0a1.6 1.6 0 1 0 -3.2 0M166.3 136.9a1.6 1.6 0 1 0 3.2 0a1.6 1.6 0 1 0 -3.2 0M162.5 143.1a1.6 1.6 0 1 0 3.2 0a1.6 1.6 0 1 0 -3.2 0M160.9 139.1a1.6 1.6 0 1 0 3.2 0a1.6 1.6 0 1 0 -3.2 0M163.6 139.0a1.6 1.6 0 1 0 3.2 0a1.6 1.6 0 1 0 -3.2 0M165.4 143.6a1.6 1.6 0 1 0 3.2 0a1.6 1.6 0 1 0 -3.2 0M174.5 138.3a1.6 1.6 0 1 0 3.2 0a1.6 1.6 0 1 0 -3.2 0M170.1 139.4a1.6 1.6 0 1 0 3.2 0a1.6 1.6 0 1 0 -3.2 0M177.5 136.7a1.6 1.6 0 1 0 3.2 0a1.6 1.6 0 1 0 -3.2 0M176.6 144.5a1.6 1.6 0 1 0 3.2 0a1.6 1.6 0 1 0 -3.2 0M169.2 137.1a1.6 1.6 0 1 0 3.2 0a1.6 1.6 0 1 0 -3.2 0M176.8 140.5a1.6 1.6 0 1 0 3.2 0a1.6 1.6 0 1 0 -3.2 0M174.8 135.7a1.6 1.6 0 1 0 3.2 0a1.6 1.6 0 1 0 -3.2 0M179.9 138.7a1.6 1.6 0 1 0 3.2 0a1.6 1.6 0 1 0 -3.2 0M180.9 140.8a1.6 1.6 0 1 0 3.2 0a1.6 1.6 0 1 0 -3.2 0M184.2 137.3a1.6 1.6 0 1 0 3.2 0a1.6 1.6 0 1 0 -3.2 0M184.5 139.8a1.6 1.6 0 1 0 3.2 0a1.6 1.6 0 1 0 -3.2 0M180.1 143.9a1.6 1.6 0 1 0 3.2 0a1.6 1.6 0 1 0 -3.2 0M186.7 142.5a1.6 1.6 0 1 0 3.2 0a1.6 1.6 0 1 0 -3.2 0M187.4 136.8a1.6 1.6 0 1 0 3.2 0a1.6 1.6 0 1 0 -3.2 0M193.5 141.3a1.6 1.6 0 1 0 3.2 0a1.6 1.6 0 1 0 -3.2 0M196.2 137.1a1.6 1.6 0 1 0 3.2 0a1.6 1.6 0 1 0 -3.2 0M191.7 138.2a1.6 1.6 0 1 0 3.2 0a1.6 1.6 0 1 0 -3.2 0M189.3 143.5a1.6 1.6 0 1 0 3.2 0a1.6 1.6 0 1 0 -3.2 0M195.9 141.9a1.6 1.6 0 1 0 3.2 0a1.6 1.6 0 1 0 -3.2 0M195.6 139.7a1.6 1.6 0 1 0 3.2 0a1.6 1.6 0 1 0 -3.2 0M194.9 144.3a1.6 1.6 0 1 0 3.2 0a1.6 1.6 0 1 0 -3.2 0M152.8 152.0a1.6 1.6 0 1 0 3.2 0a1.6 1.6 0 1 0 -3.2 0M154.0 148.3a1.6 1.6 0 1 0 3.2 0a1.6 1.6 0 1 0 -3.2 0M149.6 153.7a1.6 1.6 0 1 0 3.2 0a1.6 1.6 0 1 0 -3.2 0M150.2 145.7a1.6 1.6 0 1 0 3.2 0a1.6 1.6 0 1 0 -3.2 0M155.1 151.2a1.6 1.6 0 1 0 3.2 0a1.6 1.6 0 1 0 -3.2 0M149.5 150.8a1.6 1.6 0 1 0 3.2 0a1.6 1.6 0 1 0 -3.2 0M164.6 148.1a1.6 1.6 0 1 0 3.2 0a1.6 1.6 0 1 0 -3.2 0M161.8 149.3a1.6 1.6 0 1 0 3.2 0a1.6 1.6 0 1 0 -3.2 0M161.4 151.9a1.6 1.6 0 1 0 3.2 0a1.6 1.6 0 1 0 -3.2 0M177.6 150.0a1.6 1.6 0 1 0 3.2 0a1.6 1.6 0 1 0 -3.2 0M169.2 149.2a1.6 1.6 0 1 0 3.2 0a1.6 1.6 0 1 0 -3.2 0M172.8 152.5a1.6 1.6 0 1 0 3.2 0a1.6 1.6 0 1 0 -3.2 0M173.7 147.4a1.6 1.6 0 1 0 3.2 0a1.6 1.6 0 1 0 -3.2 0M176.3 147.0a1.6 1.6 0 1 0 3.2 0a1.6 1.6 0 1 0 -3.2 0M175.8 154.3a1.6 1.6 0 1 0 3.2 0a1.6 1.6 0 1 0 -3.2 0M171.5 147.4a1.6 1.6 0 1 0 3.2 0a1.6 1.6 0 1 0 -3.2 0M179.9 151.2a1.6 1.6 0 1 0 3.2 0a1.6 1.6 0 1 0 -3.2 0M185.2 152.6a1.6 1.6 0 1 0 3.2 0a1.6 1.6 0 1 0 -3.2 0M184.6 148.7a1.6 1.6 0 1 0 3.2 0a1.6 1.6 0 1 0 -3.2 0M186.9 146.3a1.6 1.6 0 1 0 3.2 0a1.6 1.6 0 1 0 -3.2 0M180.8 147.9a1.6 1.6 0 1 0 3.2 0a1.6 1.6 0 1 0 -3.2 0M192.3 153.5a1.6 1.6 0 1 0 3.2 0a1.6 1.6 0 1 0 -3.2 0M191.0 149.6a1.6 1.6 0 1 0 3.2 0a1.6 1.6 0 1 0 -3.2 0M195.7 151.3a1.6 1.6 0 1 0 3.2 0a1.6 1.6 0 1 0 -3.2 0M154.9 162.2a1.6 1.6 0 1 0 3.2 0a1.6 1.6 0 1 0 -3.2 0M150.4 159.4a1.6 1.6 0 1 0 3.2 0a1.6 1.6 0 1 0 -3.2 0M166.9 157.6a1.6 1.6 0 1 0 3.2 0a1.6 1.6 0 1 0 -3.2 0M160.6 158.2a1.6 1.6 0 1 0 3.2 0a1.6 1.6 0 1 0 -3.2 0M165.2 163.1a1.6 1.6 0 1 0 3.2 0a1.6 1.6 0 1 0 -3.2 0M167.7 162.1a1.6 1.6 0 1 0 3.2 0a1.6 1.6 0 1 0 -3.2 0M159.8 164.2a1.6 1.6 0 1 0 3.2 0a1.6 1.6 0 1 0 -3.2 0M177.8 162.7a1.6 1.6 0 1 0 3.2 0a1.6 1.6 0 1 0 -3.2 0M175.5 159.4a1.6 1.6 0 1 0 3.2 0a1.6 1.6 0 1 0 -3.2 0M170.7 161.2a1.6 1.6 0 1 0 3.2 0a1.6 1.6 0 1 0 -3.2 0M169.9 157.4a1.6 1.6 0 1 0 3.2 0a1.6 1.6 0 1 0 -3.2 0M172.4 155.8a1.6 1.6 0 1 0 3.2 0a1.6 1.6 0 1 0 -3.2 0M184.6 159.7a1.6 1.6 0 1 0 3.2 0a1.6 1.6 0 1 0 -3.2 0M192.7 157.6a1.6 1.6 0 1 0 3.2 0a1.6 1.6 0 1 0 -3.2 0M196.6 161.6a1.6 1.6 0 1 0 3.2 0a1.6 1.6 0 1 0 -3.2 0M191.7 161.2a1.6 1.6 0 1 0 3.2 0a1.6 1.6 0 1 0 -3.2 0M189.8 159.3a1.6 1.6 0 1 0 3.2 0a1.6 1.6 0 1 0 -3.2 0M193.3 164.3a1.6 1.6 0 1 0 3.2 0a1.6 1.6 0 1 0 -3.2 0M200.3 112.5a1.6 1.6 0 1 0 3.2 0a1.6 1.6 0 1 0 -3.2 0M207.4 110.2a1.6 1.6 0 1 0 3.2 0a1.6 1.6 0 1 0 -3.2 0M203.8 112.0a1.6 1.6 0 1 0 3.2 0a1.6 1.6 0 1 0 -3.2 0M212.6 114.0a1.6 1.6 0 1 0 3.2 0a1.6 1.6 0 1 0 -3.2 0M210.8 111.7a1.6 1.6 0 1 0 3.2 0a1.6 1.6 0 1 0 -3.2 0M210.0 114.4a1.6 1.6 0 1 0 3.2 0a1.6 1.6 0 1 0 -3.2 0M221.4 109.1a1.6 1.6 0 1 0 3.2 0a1.6 1.6 0 1 0 -3.2 0M219.0 109.3a1.6 1.6 0 1 0 3.2 0a1.6 1.6 0 1 0 -3.2 0M222.7 111.8a1.6 1.6 0 1 0 3.2 0a1.6 1.6 0 1 0 -3.2 0M227.4 110.2a1.6 1.6 0 1 0 3.2 0a1.6 1.6 0 1 0 -3.2 0M220.1 112.5a1.6 1.6 0 1 0 3.2 0a1.6 1.6 0 1 0 -3.2 0M226.3 112.8a1.6 1.6 0 1 0 3.2 0a1.6 1.6 0 1 0 -3.2 0M223.8 106.6a1.6 1.6 0 1 0 3.2 0a1.6 1.6 0 1 0 -3.2 0M232.3 107.8a1.6 1.6 0 1 0 3.2 0a1.6 1.6 0 1 0 -3.2 0M228.9 112.0a1.6 1.6 0 1 0 3.2 0a1.6 1.6 0 1 0 -3.2 0M234.8 108.8a1.6 1.6 0 1 0 3.2 0a1.6 1.6 0 1 0 -3.2 0M237.3 113.2a1.6 1.6 0 1 0 3.2 0a1.6 1.6 0 1 0 -3.2 0M229.8 106.8a1.6 1.6 0 1 0 3.2 0a1.6 1.6 0 1 0 -3.2 0M234.4 112.5a1.6 1.6 0 1 0 3.2 0a1.6 1.6 0 1 0 -3.2 0M233.1 110.6a1.6 1.6 0 1 0 3.2 0a1.6 1.6 0 1 0 -3.2 0M237.5 106.2a1.6 1.6 0 1 0 3.2 0a1.6 1.6 0 1 0 -3.2 0M236.9 110.4a1.6 1.6 0 1 0 3.2 0a1.6 1.6 0 1 0 -3.2 0M247.1 111.0a1.6 1.6 0 1 0 3.2 0a1.6 1.6 0 1 0 -3.2 0M245.0 107.4a1.6 1.6 0 1 0 3.2 0a1.6 1.6 0 1 0 -3.2 0M245.9 113.7a1.6 1.6 0 1 0 3.2 0a1.6 1.6 0 1 0 -3.2 0M241.6 109.3a1.6 1.6 0 1 0 3.2 0a1.6 1.6 0 1 0 -3.2 0M239.4 110.6a1.6 1.6 0 1 0 3.2 0a1.6 1.6 0 1 0 -3.2 0M243.0 113.9a1.6 1.6 0 1 0 3.2 0a1.6 1.6 0 1 0 -3.2 0M251.7 112.1a1.6 1.6 0 1 0 3.2 0a1.6 1.6 0 1 0 -3.2 0M253.3 106.0a1.6 1.6 0 1 0 3.2 0a1.6 1.6 0 1 0 -3.2 0M254.6 109.3a1.6 1.6 0 1 0 3.2 0a1.6 1.6 0 1 0 -3.2 0M249.4 114.3a1.6 1.6 0 1 0 3.2 0a1.6 1.6 0 1 0 -3.2 0M257.3 107.6a1.6 1.6 0 1 0 3.2 0a1.6 1.6 0 1 0 -3.2 0M201.2 122.3a1.6 1.6 0 1 0 3.2 0a1.6 1.6 0 1 0 -3.2 0M215.8 117.6a1.6 1.6 0 1 0 3.2 0a1.6 1.6 0 1 0 -3.2 0M214.1 123.6a1.6 1.6 0 1 0 3.2 0a1.6 1.6 0 1 0 -3.2 0M223.2 120.8a1.6 1.6 0 1 0 3.2 0a1.6 1.6 0 1 0 -3.2 0M220.6 117.2a1.6 1.6 0 1 0 3.2 0a1.6 1.6 0 1 0 -3.2 0M220.5 121.8a1.6 1.6 0 1 0 3.2 0a1.6 1.6 0 1 0 -3.2 0M227.9 118.9a1.6 1.6 0 1 0 3.2 0a1.6 1.6 0 1 0 -3.2 0M226.0 116.9a1.6 1.6 0 1 0 3.2 0a1.6 1.6 0 1 0 -3.2 0M224.3 118.6a1.6 1.6 0 1 0 3.2 0a1.6 1.6 0 1 0 -3.2 0M223.6 115.7a1.6 1.6 0 1 0 3.2 0a1.6 1.6 0 1 0 -3.2 0M219.2 124.4a1.6 1.6 0 1 0 3.2 0a1.6 1.6 0 1 0 -3.2 0M227.4 122.4a1.6 1.6 0 1 0 3.2 0a1.6 1.6 0 1 0 -3.2 0M231.2 115.8a1.6 1.6 0 1 0 3.2 0a1.6 1.6 0 1 0 -3.2 0M233.9 123.3a1.6 1.6 0 1 0 3.2 0a1.6 1.6 0 1 0 -3.2 0M237.1 116.1a1.6 1.6 0 1 0 3.2 0a1.6 1.6 0 1 0 -3.2 0M234.3 119.1a1.6 1.6 0 1 0 3.2 0a1.6 1.6 0 1 0 -3.2 0M230.0 124.1a1.6 1.6 0 1 0 3.2 0a1.6 1.6 0 1 0 -3.2 0M231.2 120.6a1.6 1.6 0 1 0 3.2 0a1.6 1.6 0 1 0 -3.2 0M237.6 124.4a1.6 1.6 0 1 0 3.2 0a1.6 1.6 0 1 0 -3.2 0M236.0 121.9a1.6 1.6 0 1 0 3.2 0a1.6 1.6 0 1 0 -3.2 0M233.2 117.0a1.6 1.6 0 1 0 3.2 0a1.6 1.6 0 1 0 -3.2 0M246.7 123.5a1.6 1.6 0 1 0 3.2 0a1.6 1.6 0 1 0 -3.2 0M239.8 123.9a1.6 1.6 0 1 0 3.2 0a1.6 1.6 0 1 0 -3.2 0M246.5 121.2a1.6 1.6 0 1 0 3.2 0a1.6 1.6 0 1 0 -3.2 0M243.0 118.6a1.6 1.6 0 1 0 3.2 0a1.6 1.6 0 1 0 -3.2 0M244.6 116.8a1.6 1.6 0 1 0 3.2 0a1.6 1.6 0 1 0 -3.2 0M240.3 117.9a1.6 1.6 0 1 0 3.2 0a1.6 1.6 0 1 0 -3.2 0M242.2 124.4a1.6 1.6 0 1 0 3.2 0a1.6 1.6 0 1 0 -3.2 0M247.6 117.5a1.6 1.6 0 1 0 3.2 0a1.6 1.6 0 1 0 -3.2 0M244.2 123.2a1.6 1.6 0 1 0 3.2 0a1.6 1.6 0 1 0 -3.2 0M252.5 124.0a1.6 1.6 0 1 0 3.2 0a1.6 1.6 0 1 0 -3.2 0M251.1 118.5a1.6 1.6 0 1 0 3.2 0a1.6 1.6 0 1 0 -3.2 0M256.1 123.7a1.6 1.6 0 1 0 3.2 0a1.6 1.6 0 1 0 -3.2 0M249.4 120.2a1.6 1.6 0 1 0 3.2 0a1.6 1.6 0 1 0 -3.2 0M254.6 118.8a1.6 1.6 0 1 0 3.2 0a1.6 1.6 0 1 0 -3.2 0M253.7 116.1a1.6 1.6 0 1 0 3.2 0a1.6 1.6 0 1 0 -3.2 0M256.9 115.8a1.6 1.6 0 1 0 3.2 0a1.6 1.6 0 1 0 -3.2 0M205.0 128.0a1.6 1.6 0 1 0 3.2 0a1.6 1.6 0 1 0 -3.2 0M214.5 127.8a1.6 1.6 0 1 0 3.2 0a1.6 1.6 0 1 0 -3.2 0M217.5 128.1a1.6 1.6 0 1 0 3.2 0a1.6 1.6 0 1 0 -3.2 0M220.0 130.8a1.6 1.6 0 1 0 3.2 0a1.6 1.6 0 1 0 -3.2 0M227.5 130.1a1.6 1.6 0 1 0 3.2 0a1.6 1.6 0 1 0 -3.2 0M223.7 126.8a1.6 1.6 0 1 0 3.2 0a1.6 1.6 0 1 0 -3.2 0M220.0 126.7a1.6 1.6 0 1 0 3.2 0a1.6 1.6 0 1 0 -3.2 0M221.5 129.2a1.6 1.6 0 1 0 3.2 0a1.6 1.6 0 1 0 -3.2 0M224.0 131.4a1.6 1.6 0 1 0 3.2 0a1.6 1.6 0 1 0 -3.2 0M226.7 127.6a1.6 1.6 0 1 0 3.2 0a1.6 1.6 0 1 0 -3.2 0M221.5 134.4a1.6 1.6 0 1 0 3.2 0a1.6 1.6 0 1 0 -3.2 0M226.0 133.4a1.6 1.6 0 1 0 3.2 0a1.6 1.6 0 1 0 -3.2 0M233.0 129.6a1.6 1.6 0 1 0 3.2 0a1.6 1.6 0 1 0 -3.2 0M235.4 128.1a1.6 1.6 0 1 0 3.2 0a1.6 1.6 0 1 0 -3.2 0M236.0 133.1a1.6 1.6 0 1 0 3.2 0a1.6 1.6 0 1 0 -3.2 0M230.6 128.2a1.6 1.6 0 1 0 3.2 0a1.6 1.6 0 1 0 -3.2 0M230.2 130.7a1.6 1.6 0 1 0 3.2 0a1.6 1.6 0 1 0 -3.2 0M237.5 127.3a1.6 1.6 0 1 0 3.2 0a1.6 1.6 0 1 0 -3.2 0M232.7 133.7a1.6 1.6 0 1 0 3.2 0a1.6 1.6 0 1 0 -3.2 0M237.6 129.9a1.6 1.6 0 1 0 3.2 0a1.6 1.6 0 1 0 -3.2 0M233.5 126.5a1.6 1.6 0 1 0 3.2 0a1.6 1.6 0 1 0 -3.2 0M229.8 133.6a1.6 1.6 0 1 0 3.2 0a1.6 1.6 0 1 0 -3.2 0M234.4 127.4a1.6 1.6 0 1 0 3.2 0a1.6 1.6 0 1 0 -3.2 0M230.8 133.7a1.6 1.6 0 1 0 3.2 0a1.6 1.6 0 1 0 -3.2 0M245.6 133.0a1.6 1.6 0 1 0 3.2 0a1.6 1.6 0 1 0 -3.2 0M247.4 129.3a1.6 1.6 0 1 0 3.2 0a1.6 1.6 0 1 0 -3.2 0M244.6 129.6a1.6 1.6 0 1 0 3.2 0a1.6 1.6 0 1 0 -3.2 0M247.3 126.6a1.6 1.6 0 1 0 3.2 0a1.6 1.6 0 1 0 -3.2 0M242.6 127.3a1.6 1.6 0 1 0 3.2 0a1.6 1.6 0 1 0 -3.2 0M241.6 133.5a1.6 1.6 0 1 0 3.2 0a1.6 1.6 0 1 0 -3.2 0M239.9 128.1a1.6 1.6 0 1 0 3.2 0a1.6 1.6 0 1 0 -3.2 0M241.8 129.7a1.6 1.6 0 1 0 3.2 0a1.6 1.6 0 1 0 -3.2 0M247.8 132.3a1.6 1.6 0 1 0 3.2 0a1.6 1.6 0 1 0 -3.2 0M257.2 131.3a1.6 1.6 0 1 0 3.2 0a1.6 1.6 0 1 0 -3.2 0M251.1 126.7a1.6 1.6 0 1 0 3.2 0a1.6 1.6 0 1 0 -3.2 0M256.5 128.2a1.6 1.6 0 1 0 3.2 0a1.6 1.6 0 1 0 -3.2 0M250.6 131.2a1.6 1.6 0 1 0 3.2 0a1.6 1.6 0 1 0 -3.2 0M252.2 133.0a1.6 1.6 0 1 0 3.2 0a1.6 1.6 0 1 0 -3.2 0M254.0 131.2a1.6 1.6 0 1 0 3.2 0a1.6 1.6 0 1 0 -3.2 0M251.9 129.4a1.6 1.6 0 1 0 3.2 0a1.6 1.6 0 1 0 -3.2 0M257.6 133.7a1.6 1.6 0 1 0 3.2 0a1.6 1.6 0 1 0 -3.2 0M257.2 133.3a1.6 1.6 0 1 0 3.2 0a1.6 1.6 0 1 0 -3.2 0M202.0 142.4a1.6 1.6 0 1 0 3.2 0a1.6 1.6 0 1 0 -3.2 0M205.0 142.9a1.6 1.6 0 1 0 3.2 0a1.6 1.6 0 1 0 -3.2 0M200.0 138.9a1.6 1.6 0 1 0 3.2 0a1.6 1.6 0 1 0 -3.2 0M205.4 135.9a1.6 1.6 0 1 0 3.2 0a1.6 1.6 0 1 0 -3.2 0M216.4 140.7a1.6 1.6 0 1 0 3.2 0a1.6 1.6 0 1 0 -3.2 0M221.5 141.7a1.6 1.6 0 1 0 3.2 0a1.6 1.6 0 1 0 -3.2 0M222.3 136.8a1.6 1.6 0 1 0 3.2 0a1.6 1.6 0 1 0 -3.2 0M226.8 140.3a1.6 1.6 0 1 0 3.2 0a1.6 1.6 0 1 0 -3.2 0M225.1 142.8a1.6 1.6 0 1 0 3.2 0a1.6 1.6 0 1 0 -3.2 0M220.4 138.7a1.6 1.6 0 1 0 3.2 0a1.6 1.6 0 1 0 -3.2 0M219.0 140.7a1.6 1.6 0 1 0 3.2 0a1.6 1.6 0 1 0 -3.2 0M223.0 144.4a1.6 1.6 0 1 0 3.2 0a1.6 1.6 0 1 0 -3.2 0M223.9 139.2a1.6 1.6 0 1 0 3.2 0a1.6 1.6 0 1 0 -3.2 0M219.0 143.3a1.6 1.6 0 1 0 3.2 0a1.6 1.6 0 1 0 -3.2 0M234.0 138.2a1.6 1.6 0 1 0 3.2 0a1.6 1.6 0 1 0 -3.2 0M230.4 136.1a1.6 1.6 0 1 0 3.2 0a1.6 1.6 0 1 0 -3.2 0M231.6 138.3a1.6 1.6 0 1 0 3.2 0a1.6 1.6 0 1 0 -3.2 0M235.4 140.5a1.6 1.6 0 1 0 3.2 0a1.6 1.6 0 1 0 -3.2 0M237.3 138.6a1.6 1.6 0 1 0 3.2 0a1.6 1.6 0 1 0 -3.2 0M234.1 144.4a1.6 1.6 0 1 0 3.2 0a1.6 1.6 0 1 0 -3.2 0M232.1 142.5a1.6 1.6 0 1 0 3.2 0a1.6 1.6 0 1 0 -3.2 0M229.5 139.9a1.6 1.6 0 1 0 3.2 0a1.6 1.6 0 1 0 -3.2 0M236.2 143.4a1.6 1.6 0 1 0 3.2 0a1.6 1.6 0 1 0 -3.2 0M240.6 140.3a1.6 1.6 0 1 0 3.2 0a1.6 1.6 0 1 0 -3.2 0M246.8 141.3a1.6 1.6 0 1 0 3.2 0a1.6 1.6 0 1 0 -3.2 0M247.2 137.4a1.6 1.6 0 1 0 3.2 0a1.6 1.6 0 1 0 -3.2 0M241.8 142.2a1.6 1.6 0 1 0 3.2 0a1.6 1.6 0 1 0 -3.2 0M244.7 139.1a1.6 1.6 0 1 0 3.2 0a1.6 1.6 0 1 0 -3.2 0M243.1 135.6a1.6 1.6 0 1 0 3.2 0a1.6 1.6 0 1 0 -3.2 0M244.4 142.0a1.6 1.6 0 1 0 3.2 0a1.6 1.6 0 1 0 -3.2 0M240.3 136.8a1.6 1.6 0 1 0 3.2 0a1.6 1.6 0 1 0 -3.2 0M245.9 144.3a1.6 1.6 0 1 0 3.2 0a1.6 1.6 0 1 0 -3.2 0M240.8 143.5a1.6 1.6 0 1 0 3.2 0a1.6 1.6 0 1 0 -3.2 0M249.8 137.0a1.6 1.6 0 1 0 3.2 0a1.6 1.6 0 1 0 -3.2 0M253.4 137.6a1.6 1.6 0 1 0 3.2 0a1.6 1.6 0 1 0 -3.2 0M250.0 139.9a1.6 1.6 0 1 0 3.2 0a1.6 1.6 0 1 0 -3.2 0M252.6 140.5a1.6 1.6 0 1 0 3.2 0a1.6 1.6 0 1 0 -3.2 0M252.2 135.6a1.6 1.6 0 1 0 3.2 0a1.6 1.6 0 1 0 -3.2 0M252.7 144.3a1.6 1.6 0 1 0 3.2 0a1.6 1.6 0 1 0 -3.2 0M257.1 135.9a1.6 1.6 0 1 0 3.2 0a1.6 1.6 0 1 0 -3.2 0M256.6 140.1a1.6 1.6 0 1 0 3.2 0a1.6 1.6 0 1 0 -3.2 0M250.7 139.3a1.6 1.6 0 1 0 3.2 0a1.6 1.6 0 1 0 -3.2 0M253.5 139.3a1.6 1.6 0 1 0 3.2 0a1.6 1.6 0 1 0 -3.2 0M206.7 152.7a1.6 1.6 0 1 0 3.2 0a1.6 1.6 0 1 0 -3.2 0M206.6 147.8a1.6 1.6 0 1 0 3.2 0a1.6 1.6 0 1 0 -3.2 0M200.7 146.0a1.6 1.6 0 1 0 3.2 0a1.6 1.6 0 1 0 -3.2 0M213.1 149.9a1.6 1.6 0 1 0 3.2 0a1.6 1.6 0 1 0 -3.2 0M216.1 147.3a1.6 1.6 0 1 0 3.2 0a1.6 1.6 0 1 0 -3.2 0M217.2 150.5a1.6 1.6 0 1 0 3.2 0a1.6 1.6 0 1 0 -3.2 0M209.4 148.3a1.6 1.6 0 1 0 3.2 0a1.6 1.6 0 1 0 -3.2 0M211.4 152.7a1.6 1.6 0 1 0 3.2 0a1.6 1.6 0 1 0 -3.2 0M219.4 149.4a1.6 1.6 0 1 0 3.2 0a1.6 1.6 0 1 0 -3.2 0M224.7 145.9a1.6 1.6 0 1 0 3.2 0a1.6 1.6 0 1 0 -3.2 0M221.6 147.4a1.6 1.6 0 1 0 3.2 0a1.6 1.6 0 1 0 -3.2 0M222.6 151.4a1.6 1.6 0 1 0 3.2 0a1.6 1.6 0 1 0 -3.2 0M235.1 146.9a1.6 1.6 0 1 0 3.2 0a1.6 1.6 0 1 0 -3.2 0M229.4 151.8a1.6 1.6 0 1 0 3.2 0a1.6 1.6 0 1 0 -3.2 0M231.5 147.6a1.6 1.6 0 1 0 3.2 0a1.6 1.6 0 1 0 -3.2 0M237.1 148.4a1.6 1.6 0 1 0 3.2 0a1.6 1.6 0 1 0 -3.2 0M236.1 154.3a1.6 1.6 0 1 0 3.2 0a1.6 1.6 0 1 0 -3.2 0M232.3 151.3a1.6 1.6 0 1 0 3.2 0a1.6 1.6 0 1 0 -3.2 0M246.4 146.6a1.6 1.6 0 1 0 3.2 0a1.6 1.6 0 1 0 -3.2 0M247.2 154.5a1.6 1.6 0 1 0 3.2 0a1.6 1.6 0 1 0 -3.2 0M247.4 150.2a1.6 1.6 0 1 0 3.2 0a1.6 1.6 0 1 0 -3.2 0M241.5 148.6a1.6 1.6 0 1 0 3.2 0a1.6 1.6 0 1 0 -3.2 0M239.7 146.8a1.6 1.6 0 1 0 3.2 0a1.6 1.6 0 1 0 -3.2 0M241.3 153.5a1.6 1.6 0 1 0 3.2 0a1.6 1.6 0 1 0 -3.2 0M244.3 154.2a1.6 1.6 0 1 0 3.2 0a1.6 1.6 0 1 0 -3.2 0M254.8 146.0a1.6 1.6 0 1 0 3.2 0a1.6 1.6 0 1 0 -3.2 0M251.9 149.5a1.6 1.6 0 1 0 3.2 0a1.6 1.6 0 1 0 -3.2 0M251.1 152.2a1.6 1.6 0 1 0 3.2 0a1.6 1.6 0 1 0 -3.2 0M253.9 152.6a1.6 1.6 0 1 0 3.2 0a1.6 1.6 0 1 0 -3.2 0M254.3 149.7a1.6 1.6 0 1 0 3.2 0a1.6 1.6 0 1 0 -3.2 0M256.8 149.8a1.6 1.6 0 1 0 3.2 0a1.6 1.6 0 1 0 -3.2 0M250.2 146.3a1.6 1.6 0 1 0 3.2 0a1.6 1.6 0 1 0 -3.2 0M257.7 145.9a1.6 1.6 0 1 0 3.2 0a1.6 1.6 0 1 0 -3.2 0M257.9 152.6a1.6 1.6 0 1 0 3.2 0a1.6 1.6 0 1 0 -3.2 0M199.7 162.0a1.6 1.6 0 1 0 3.2 0a1.6 1.6 0 1 0 -3.2 0M202.0 157.0a1.6 1.6 0 1 0 3.2 0a1.6 1.6 0 1 0 -3.2 0M206.7 158.2a1.6 1.6 0 1 0 3.2 0a1.6 1.6 0 1 0 -3.2 0M217.4 156.5a1.6 1.6 0 1 0 3.2 0a1.6 1.6 0 1 0 -3.2 0M217.6 162.6a1.6 1.6 0 1 0 3.2 0a1.6 1.6 0 1 0 -3.2 0M211.2 163.0a1.6 1.6 0 1 0 3.2 0a1.6 1.6 0 1 0 -3.2 0M223.0 157.6a1.6 1.6 0 1 0 3.2 0a1.6 1.6 0 1 0 -3.2 0M223.3 163.7a1.6 1.6 0 1 0 3.2 0a1.6 1.6 0 1 0 -3.2 0M225.1 161.9a1.6 1.6 0 1 0 3.2 0a1.6 1.6 0 1 0 -3.2 0M232.6 156.3a1.6 1.6 0 1 0 3.2 0a1.6 1.6 0 1 0 -3.2 0M232.0 160.9a1.6 1.6 0 1 0 3.2 0a1.6 1.6 0 1 0 -3.2 0M228.9 159.9a1.6 1.6 0 1 0 3.2 0a1.6 1.6 0 1 0 -3.2 0M229.0 156.5a1.6 1.6 0 1 0 3.2 0a1.6 1.6 0 1 0 -3.2 0M241.9 157.4a1.6 1.6 0 1 0 3.2 0a1.6 1.6 0 1 0 -3.2 0M244.5 158.1a1.6 1.6 0 1 0 3.2 0a1.6 1.6 0 1 0 -3.2 0M239.7 157.9a1.6 1.6 0 1 0 3.2 0a1.6 1.6 0 1 0 -3.2 0M244.8 162.8a1.6 1.6 0 1 0 3.2 0a1.6 1.6 0 1 0 -3.2 0M240.0 161.6a1.6 1.6 0 1 0 3.2 0a1.6 1.6 0 1 0 -3.2 0M247.5 158.8a1.6 1.6 0 1 0 3.2 0a1.6 1.6 0 1 0 -3.2 0M240.5 164.0a1.6 1.6 0 1 0 3.2 0a1.6 1.6 0 1 0 -3.2 0M251.2 158.7a1.6 1.6 0 1 0 3.2 0a1.6 1.6 0 1 0 -3.2 0M249.8 160.5a1.6 1.6 0 1 0 3.2 0a1.6 1.6 0 1 0 -3.2 0M256.7 160.1a1.6 1.6 0 1 0 3.2 0a1.6 1.6 0 1 0 -3.2 0M252.3 163.9a1.6 1.6 0 1 0 3.2 0a1.6 1.6 0 1 0 -3.2 0M252.2 161.5a1.6 1.6 0 1 0 3.2 0a1.6 1.6 0 1 0 -3.2 0M254.6 158.9a1.6 1.6 0 1 0 3.2 0a1.6 1.6 0 1 0 -3.2 0M249.4 163.0a1.6 1.6 0 1 0 3.2 0a1.6 1.6 0 1 0 -3.2 0M255.6 155.8a1.6 1.6 0 1 0 3.2 0a1.6 1.6 0 1 0 -3.2 0M257.5 163.5a1.6 1.6 0 1 0 3.2 0a1.6 1.6 0 1 0 -3.2 0M264.7 108.0a1.6 1.6 0 1 0 3.2 0a1.6 1.6 0 1 0 -3.2 0M267.7 111.3a1.6 1.6 0 1 0 3.2 0a1.6 1.6 0 1 0 -3.2 0M262.3 114.2a1.6 1.6 0 1 0 3.2 0a1.6 1.6 0 1 0 -3.2 0M261.4 107.0a1.6 1.6 0 1 0 3.2 0a1.6 1.6 0 1 0 -3.2 0M266.8 107.0a1.6 1.6 0 1 0 3.2 0a1.6 1.6 0 1 0 -3.2 0M267.6 114.2a1.6 1.6 0 1 0 3.2 0a1.6 1.6 0 1 0 -3.2 0M261.8 109.4a1.6 1.6 0 1 0 3.2 0a1.6 1.6 0 1 0 -3.2 0M264.7 114.2a1.6 1.6 0 1 0 3.2 0a1.6 1.6 0 1 0 -3.2 0M260.3 111.5a1.6 1.6 0 1 0 3.2 0a1.6 1.6 0 1 0 -3.2 0M262.5 108.0a1.6 1.6 0 1 0 3.2 0a1.6 1.6 0 1 0 -3.2 0M259.1 113.7a1.6 1.6 0 1 0 3.2 0a1.6 1.6 0 1 0 -3.2 0M259.2 105.9a1.6 1.6 0 1 0 3.2 0a1.6 1.6 0 1 0 -3.2 0M277.7 111.9a1.6 1.6 0 1 0 3.2 0a1.6 1.6 0 1 0 -3.2 0M270.6 112.8a1.6 1.6 0 1 0 3.2 0a1.6 1.6 0 1 0 -3.2 0M270.4 110.1a1.6 1.6 0 1 0 3.2 0a1.6 1.6 0 1 0 -3.2 0M273.4 111.1a1.6 1.6 0 1 0 3.2 0a1.6 1.6 0 1 0 -3.2 0M273.8 108.1a1.6 1.6 0 1 0 3.2 0a1.6 1.6 0 1 0 -3.2 0M275.6 105.7a1.6 1.6 0 1 0 3.2 0a1.6 1.6 0 1 0 -3.2 0M269.1 107.6a1.6 1.6 0 1 0 3.2 0a1.6 1.6 0 1 0 -3.2 0M276.1 110.3a1.6 1.6 0 1 0 3.2 0a1.6 1.6 0 1 0 -3.2 0M274.9 107.1a1.6 1.6 0 1 0 3.2 0a1.6 1.6 0 1 0 -3.2 0M272.2 106.6a1.6 1.6 0 1 0 3.2 0a1.6 1.6 0 1 0 -3.2 0M274.2 109.6a1.6 1.6 0 1 0 3.2 0a1.6 1.6 0 1 0 -3.2 0M272.6 114.2a1.6 1.6 0 1 0 3.2 0a1.6 1.6 0 1 0 -3.2 0M284.9 112.4a1.6 1.6 0 1 0 3.2 0a1.6 1.6 0 1 0 -3.2 0M280.0 107.5a1.6 1.6 0 1 0 3.2 0a1.6 1.6 0 1 0 -3.2 0M282.6 109.3a1.6 1.6 0 1 0 3.2 0a1.6 1.6 0 1 0 -3.2 0M287.4 110.7a1.6 1.6 0 1 0 3.2 0a1.6 1.6 0 1 0 -3.2 0M283.2 105.7a1.6 1.6 0 1 0 3.2 0a1.6 1.6 0 1 0 -3.2 0M282.2 114.2a1.6 1.6 0 1 0 3.2 0a1.6 1.6 0 1 0 -3.2 0M285.4 108.0a1.6 1.6 0 1 0 3.2 0a1.6 1.6 0 1 0 -3.2 0M287.8 105.7a1.6 1.6 0 1 0 3.2 0a1.6 1.6 0 1 0 -3.2 0M283.5 106.9a1.6 1.6 0 1 0 3.2 0a1.6 1.6 0 1 0 -3.2 0M293.6 108.8a1.6 1.6 0 1 0 3.2 0a1.6 1.6 0 1 0 -3.2 0M295.9 106.5a1.6 1.6 0 1 0 3.2 0a1.6 1.6 0 1 0 -3.2 0M289.5 109.0a1.6 1.6 0 1 0 3.2 0a1.6 1.6 0 1 0 -3.2 0M295.3 112.4a1.6 1.6 0 1 0 3.2 0a1.6 1.6 0 1 0 -3.2 0M297.2 113.9a1.6 1.6 0 1 0 3.2 0a1.6 1.6 0 1 0 -3.2 0M293.0 111.2a1.6 1.6 0 1 0 3.2 0a1.6 1.6 0 1 0 -3.2 0M289.5 112.3a1.6 1.6 0 1 0 3.2 0a1.6 1.6 0 1 0 -3.2 0M299.7 114.2a1.6 1.6 0 1 0 3.2 0a1.6 1.6 0 1 0 -3.2 0M299.4 108.1a1.6 1.6 0 1 0 3.2 0a1.6 1.6 0 1 0 -3.2 0M305.8 106.7a1.6 1.6 0 1 0 3.2 0a1.6 1.6 0 1 0 -3.2 0M300.4 110.3a1.6 1.6 0 1 0 3.2 0a1.6 1.6 0 1 0 -3.2 0M302.7 108.5a1.6 1.6 0 1 0 3.2 0a1.6 1.6 0 1 0 -3.2 0M317.6 106.6a1.6 1.6 0 1 0 3.2 0a1.6 1.6 0 1 0 -3.2 0M311.2 112.2a1.6 1.6 0 1 0 3.2 0a1.6 1.6 0 1 0 -3.2 0M316.9 113.6a1.6 1.6 0 1 0 3.2 0a1.6 1.6 0 1 0 -3.2 0M313.2 114.1a1.6 1.6 0 1 0 3.2 0a1.6 1.6 0 1 0 -3.2 0M314.3 108.1a1.6 1.6 0 1 0 3.2 0a1.6 1.6 0 1 0 -3.2 0M311.9 107.7a1.6 1.6 0 1 0 3.2 0a1.6 1.6 0 1 0 -3.2 0M316.7 110.7a1.6 1.6 0 1 0 3.2 0a1.6 1.6 0 1 0 -3.2 0M261.3 118.8a1.6 1.6 0 1 0 3.2 0a1.6 1.6 0 1 0 -3.2 0M262.3 116.5a1.6 1.6 0 1 0 3.2 0a1.6 1.6 0 1 0 -3.2 0M266.2 117.8a1.6 1.6 0 1 0 3.2 0a1.6 1.6 0 1 0 -3.2 0M263.8 118.5a1.6 1.6 0 1 0 3.2 0a1.6 1.6 0 1 0 -3.2 0M259.3 123.3a1.6 1.6 0 1 0 3.2 0a1.6 1.6 0 1 0 -3.2 0M259.5 116.1a1.6 1.6 0 1 0 3.2 0a1.6 1.6 0 1 0 -3.2 0M264.2 123.0a1.6 1.6 0 1 0 3.2 0a1.6 1.6 0 1 0 -3.2 0M259.2 120.8a1.6 1.6 0 1 0 3.2 0a1.6 1.6 0 1 0 -3.2 0M262.7 120.9a1.6 1.6 0 1 0 3.2 0a1.6 1.6 0 1 0 -3.2 0M267.2 119.1a1.6 1.6 0 1 0 3.2 0a1.6 1.6 0 1 0 -3.2 0M259.9 117.0a1.6 1.6 0 1 0 3.2 0a1.6 1.6 0 1 0 -3.2 0M264.2 119.3a1.6 1.6 0 1 0 3.2 0a1.6 1.6 0 1 0 -3.2 0M271.4 116.5a1.6 1.6 0 1 0 3.2 0a1.6 1.6 0 1 0 -3.2 0M276.7 119.5a1.6 1.6 0 1 0 3.2 0a1.6 1.6 0 1 0 -3.2 0M275.5 121.3a1.6 1.6 0 1 0 3.2 0a1.6 1.6 0 1 0 -3.2 0M269.8 119.9a1.6 1.6 0 1 0 3.2 0a1.6 1.6 0 1 0 -3.2 0M275.4 117.4a1.6 1.6 0 1 0 3.2 0a1.6 1.6 0 1 0 -3.2 0M272.2 123.8a1.6 1.6 0 1 0 3.2 0a1.6 1.6 0 1 0 -3.2 0M277.4 124.5a1.6 1.6 0 1 0 3.2 0a1.6 1.6 0 1 0 -3.2 0M272.7 120.6a1.6 1.6 0 1 0 3.2 0a1.6 1.6 0 1 0 -3.2 0M276.9 118.8a1.6 1.6 0 1 0 3.2 0a1.6 1.6 0 1 0 -3.2 0M269.2 117.3a1.6 1.6 0 1 0 3.2 0a1.6 1.6 0 1 0 -3.2 0M275.1 123.8a1.6 1.6 0 1 0 3.2 0a1.6 1.6 0 1 0 -3.2 0M277.8 121.6a1.6 1.6 0 1 0 3.2 0a1.6 1.6 0 1 0 -3.2 0M287.6 118.3a1.6 1.6 0 1 0 3.2 0a1.6 1.6 0 1 0 -3.2 0M284.0 115.6a1.6 1.6 0 1 0 3.2 0a1.6 1.6 0 1 0 -3.2 0M282.6 123.6a1.6 1.6 0 1 0 3.2 0a1.6 1.6 0 1 0 -3.2 0M279.8 123.9a1.6 1.6 0 1 0 3.2 0a1.6 1.6 0 1 0 -3.2 0M283.5 118.4a1.6 1.6 0 1 0 3.2 0a1.6 1.6 0 1 0 -3.2 0M286.4 124.3a1.6 1.6 0 1 0 3.2 0a1.6 1.6 0 1 0 -3.2 0M281.3 116.8a1.6 1.6 0 1 0 3.2 0a1.6 1.6 0 1 0 -3.2 0M287.8 121.1a1.6 1.6 0 1 0 3.2 0a1.6 1.6 0 1 0 -3.2 0M285.4 120.5a1.6 1.6 0 1 0 3.2 0a1.6 1.6 0 1 0 -3.2 0M294.1 120.5a1.6 1.6 0 1 0 3.2 0a1.6 1.6 0 1 0 -3.2 0M292.7 117.6a1.6 1.6 0 1 0 3.2 0a1.6 1.6 0 1 0 -3.2 0M294.9 123.0a1.6 1.6 0 1 0 3.2 0a1.6 1.6 0 1 0 -3.2 0M297.2 120.9a1.6 1.6 0 1 0 3.2 0a1.6 1.6 0 1 0 -3.2 0M294.9 116.3a1.6 1.6 0 1 0 3.2 0a1.6 1.6 0 1 0 -3.2 0M297.8 123.8a1.6 1.6 0 1 0 3.2 0a1.6 1.6 0 1 0 -3.2 0M307.3 122.8a1.6 1.6 0 1 0 3.2 0a1.6 1.6 0 1 0 -3.2 0M303.2 116.8a1.6 1.6 0 1 0 3.2 0a1.6 1.6 0 1 0 -3.2 0M306.1 116.5a1.6 1.6 0 1 0 3.2 0a1.6 1.6 0 1 0 -3.2 0M301.4 124.3a1.6 1.6 0 1 0 3.2 0a1.6 1.6 0 1 0 -3.2 0M307.9 118.4a1.6 1.6 0 1 0 3.2 0a1.6 1.6 0 1 0 -3.2 0M305.9 120.2a1.6 1.6 0 1 0 3.2 0a1.6 1.6 0 1 0 -3.2 0M300.6 116.9a1.6 1.6 0 1 0 3.2 0a1.6 1.6 0 1 0 -3.2 0M312.9 119.1a1.6 1.6 0 1 0 3.2 0a1.6 1.6 0 1 0 -3.2 0M314.5 117.2a1.6 1.6 0 1 0 3.2 0a1.6 1.6 0 1 0 -3.2 0M310.0 117.4a1.6 1.6 0 1 0 3.2 0a1.6 1.6 0 1 0 -3.2 0M309.9 124.4a1.6 1.6 0 1 0 3.2 0a1.6 1.6 0 1 0 -3.2 0M311.1 120.8a1.6 1.6 0 1 0 3.2 0a1.6 1.6 0 1 0 -3.2 0M266.1 132.8a1.6 1.6 0 1 0 3.2 0a1.6 1.6 0 1 0 -3.2 0M261.3 132.5a1.6 1.6 0 1 0 3.2 0a1.6 1.6 0 1 0 -3.2 0M263.2 134.4a1.6 1.6 0 1 0 3.2 0a1.6 1.6 0 1 0 -3.2 0M259.4 128.9a1.6 1.6 0 1 0 3.2 0a1.6 1.6 0 1 0 -3.2 0M263.8 129.0a1.6 1.6 0 1 0 3.2 0a1.6 1.6 0 1 0 -3.2 0M266.1 126.4a1.6 1.6 0 1 0 3.2 0a1.6 1.6 0 1 0 -3.2 0M260.8 125.5a1.6 1.6 0 1 0 3.2 0a1.6 1.6 0 1 0 -3.2 0M267.5 128.8a1.6 1.6 0 1 0 3.2 0a1.6 1.6 0 1 0 -3.2 0M263.9 126.7a1.6 1.6 0 1 0 3.2 0a1.6 1.6 0 1 0 -3.2 0M260.9 127.5a1.6 1.6 0 1 0 3.2 0a1.6 1.6 0 1 0 -3.2 0M264.1 131.3a1.6 1.6 0 1 0 3.2 0a1.6 1.6 0 1 0 -3.2 0M261.6 129.7a1.6 1.6 0 1 0 3.2 0a1.6 1.6 0 1 0 -3.2 0M272.6 133.9a1.6 1.6 0 1 0 3.2 0a1.6 1.6 0 1 0 -3.2 0M272.4 128.3a1.6 1.6 0 1 0 3.2 0a1.6 1.6 0 1 0 -3.2 0M269.6 134.0a1.6 1.6 0 1 0 3.2 0a1.6 1.6 0 1 0 -3.2 0M276.4 129.8a1.6 1.6 0 1 0 3.2 0a1.6 1.6 0 1 0 -3.2 0M273.1 130.7a1.6 1.6 0 1 0 3.2 0a1.6 1.6 0 1 0 -3.2 0M276.8 127.3a1.6 1.6 0 1 0 3.2 0a1.6 1.6 0 1 0 -3.2 0M274.4 127.3a1.6 1.6 0 1 0 3.2 0a1.6 1.6 0 1 0 -3.2 0M269.8 131.9a1.6 1.6 0 1 0 3.2 0a1.6 1.6 0 1 0 -3.2 0M271.8 131.0a1.6 1.6 0 1 0 3.2 0a1.6 1.6 0 1 0 -3.2 0M277.5 132.5a1.6 1.6 0 1 0 3.2 0a1.6 1.6 0 1 0 -3.2 0M269.7 131.5a1.6 1.6 0 1 0 3.2 0a1.6 1.6 0 1 0 -3.2 0M277.7 127.5a1.6 1.6 0 1 0 3.2 0a1.6 1.6 0 1 0 -3.2 0M284.1 133.5a1.6 1.6 0 1 0 3.2 0a1.6 1.6 0 1 0 -3.2 0M287.4 131.2a1.6 1.6 0 1 0 3.2 0a1.6 1.6 0 1 0 -3.2 0M282.2 126.5a1.6 1.6 0 1 0 3.2 0a1.6 1.6 0 1 0 -3.2 0M279.5 130.2a1.6 1.6 0 1 0 3.2 0a1.6 1.6 0 1 0 -3.2 0M284.1 129.5a1.6 1.6 0 1 0 3.2 0a1.6 1.6 0 1 0 -3.2 0M280.4 134.0a1.6 1.6 0 1 0 3.2 0a1.6 1.6 0 1 0 -3.2 0M286.9 127.6a1.6 1.6 0 1 0 3.2 0a1.6 1.6 0 1 0 -3.2 0M281.6 132.0a1.6 1.6 0 1 0 3.2 0a1.6 1.6 0 1 0 -3.2 0M287.4 134.1a1.6 1.6 0 1 0 3.2 0a1.6 1.6 0 1 0 -3.2 0M294.1 129.5a1.6 1.6 0 1 0 3.2 0a1.6 1.6 0 1 0 -3.2 0M295.9 132.0a1.6 1.6 0 1 0 3.2 0a1.6 1.6 0 1 0 -3.2 0M292.0 133.8a1.6 1.6 0 1 0 3.2 0a1.6 1.6 0 1 0 -3.2 0M294.4 126.4a1.6 1.6 0 1 0 3.2 0a1.6 1.6 0 1 0 -3.2 0M290.6 131.1a1.6 1.6 0 1 0 3.2 0a1.6 1.6 0 1 0 -3.2 0M299.3 128.0a1.6 1.6 0 1 0 3.2 0a1.6 1.6 0 1 0 -3.2 0M303.7 127.1a1.6 1.6 0 1 0 3.2 0a1.6 1.6 0 1 0 -3.2 0M304.5 133.2a1.6 1.6 0 1 0 3.2 0a1.6 1.6 0 1 0 -3.2 0M305.8 129.7a1.6 1.6 0 1 0 3.2 0a1.6 1.6 0 1 0 -3.2 0M302.0 134.2a1.6 1.6 0 1 0 3.2 0a1.6 1.6 0 1 0 -3.2 0M300.0 133.1a1.6 1.6 0 1 0 3.2 0a1.6 1.6 0 1 0 -3.2 0M301.8 131.7a1.6 1.6 0 1 0 3.2 0a1.6 1.6 0 1 0 -3.2 0M309.3 133.9a1.6 1.6 0 1 0 3.2 0a1.6 1.6 0 1 0 -3.2 0M312.4 132.7a1.6 1.6 0 1 0 3.2 0a1.6 1.6 0 1 0 -3.2 0M311.6 130.4a1.6 1.6 0 1 0 3.2 0a1.6 1.6 0 1 0 -3.2 0M309.1 129.9a1.6 1.6 0 1 0 3.2 0a1.6 1.6 0 1 0 -3.2 0M261.4 135.8a1.6 1.6 0 1 0 3.2 0a1.6 1.6 0 1 0 -3.2 0M267.2 137.9a1.6 1.6 0 1 0 3.2 0a1.6 1.6 0 1 0 -3.2 0M264.1 136.7a1.6 1.6 0 1 0 3.2 0a1.6 1.6 0 1 0 -3.2 0M259.8 144.1a1.6 1.6 0 1 0 3.2 0a1.6 1.6 0 1 0 -3.2 0M259.3 141.8a1.6 1.6 0 1 0 3.2 0a1.6 1.6 0 1 0 -3.2 0M263.3 139.9a1.6 1.6 0 1 0 3.2 0a1.6 1.6 0 1 0 -3.2 0M261.6 142.1a1.6 1.6 0 1 0 3.2 0a1.6 1.6 0 1 0 -3.2 0M264.3 142.5a1.6 1.6 0 1 0 3.2 0a1.6 1.6 0 1 0 -3.2 0M260.4 138.6a1.6 1.6 0 1 0 3.2 0a1.6 1.6 0 1 0 -3.2 0M261.0 138.6a1.6 1.6 0 1 0 3.2 0a1.6 1.6 0 1 0 -3.2 0M265.2 143.5a1.6 1.6 0 1 0 3.2 0a1.6 1.6 0 1 0 -3.2 0M263.9 139.1a1.6 1.6 0 1 0 3.2 0a1.6 1.6 0 1 0 -3.2 0M275.8 140.3a1.6 1.6 0 1 0 3.2 0a1.6 1.6 0 1 0 -3.2 0M269.8 143.4a1.6 1.6 0 1 0 3.2 0a1.6 1.6 0 1 0 -3.2 0M273.7 136.4a1.6 1.6 0 1 0 3.2 0a1.6 1.6 0 1 0 -3.2 0M272.2 138.6a1.6 1.6 0 1 0 3.2 0a1.6 1.6 0 1 0 -3.2 0M273.0 142.8a1.6 1.6 0 1 0 3.2 0a1.6 1.6 0 1 0 -3.2 0M276.5 136.8a1.6 1.6 0 1 0 3.2 0a1.6 1.6 0 1 0 -3.2 0M271.7 140.9a1.6 1.6 0 1 0 3.2 0a1.6 1.6 0 1 0 -3.2 0M271.4 136.0a1.6 1.6 0 1 0 3.2 0a1.6 1.6 0 1 0 -3.2 0M277.9 142.7a1.6 1.6 0 1 0 3.2 0a1.6 1.6 0 1 0 -3.2 0M268.9 136.3a1.6 1.6 0 1 0 3.2 0a1.6 1.6 0 1 0 -3.2 0M277.9 139.0a1.6 1.6 0 1 0 3.2 0a1.6 1.6 0 1 0 -3.2 0M273.5 137.6a1.6 1.6 0 1 0 3.2 0a1.6 1.6 0 1 0 -3.2 0M284.1 144.4a1.6 1.6 0 1 0 3.2 0a1.6 1.6 0 1 0 -3.2 0M285.7 137.5a1.6 1.6 0 1 0 3.2 0a1.6 1.6 0 1 0 -3.2 0M281.8 138.6a1.6 1.6 0 1 0 3.2 0a1.6 1.6 0 1 0 -3.2 0M287.9 140.0a1.6 1.6 0 1 0 3.2 0a1.6 1.6 0 1 0 -3.2 0M285.2 140.2a1.6 1.6 0 1 0 3.2 0a1.6 1.6 0 1 0 -3.2 0M279.6 136.4a1.6 1.6 0 1 0 3.2 0a1.6 1.6 0 1 0 -3.2 0M280.2 143.3a1.6 1.6 0 1 0 3.2 0a1.6 1.6 0 1 0 -3.2 0M283.5 136.0a1.6 1.6 0 1 0 3.2 0a1.6 1.6 0 1 0 -3.2 0M287.7 142.6a1.6 1.6 0 1 0 3.2 0a1.6 1.6 0 1 0 -3.2 0M291.8 139.2a1.6 1.6 0 1 0 3.2 0a1.6 1.6 0 1 0 -3.2 0M295.5 139.9a1.6 1.6 0 1 0 3.2 0a1.6 1.6 0 1 0 -3.2 0M290.7 142.9a1.6 1.6 0 1 0 3.2 0a1.6 1.6 0 1 0 -3.2 0M292.3 136.1a1.6 1.6 0 1 0 3.2 0a1.6 1.6 0 1 0 -3.2 0M296.7 143.6a1.6 1.6 0 1 0 3.2 0a1.6 1.6 0 1 0 -3.2 0M293.6 143.2a1.6 1.6 0 1 0 3.2 0a1.6 1.6 0 1 0 -3.2 0M293.3 142.7a1.6 1.6 0 1 0 3.2 0a1.6 1.6 0 1 0 -3.2 0M304.7 140.9a1.6 1.6 0 1 0 3.2 0a1.6 1.6 0 1 0 -3.2 0M306.4 138.5a1.6 1.6 0 1 0 3.2 0a1.6 1.6 0 1 0 -3.2 0M299.2 144.1a1.6 1.6 0 1 0 3.2 0a1.6 1.6 0 1 0 -3.2 0M307.7 136.5a1.6 1.6 0 1 0 3.2 0a1.6 1.6 0 1 0 -3.2 0M303.1 136.5a1.6 1.6 0 1 0 3.2 0a1.6 1.6 0 1 0 -3.2 0M307.5 140.9a1.6 1.6 0 1 0 3.2 0a1.6 1.6 0 1 0 -3.2 0M300.1 140.1a1.6 1.6 0 1 0 3.2 0a1.6 1.6 0 1 0 -3.2 0M317.8 136.1a1.6 1.6 0 1 0 3.2 0a1.6 1.6 0 1 0 -3.2 0M313.5 144.2a1.6 1.6 0 1 0 3.2 0a1.6 1.6 0 1 0 -3.2 0M316.9 139.6a1.6 1.6 0 1 0 3.2 0a1.6 1.6 0 1 0 -3.2 0M309.8 139.6a1.6 1.6 0 1 0 3.2 0a1.6 1.6 0 1 0 -3.2 0M260.6 148.0a1.6 1.6 0 1 0 3.2 0a1.6 1.6 0 1 0 -3.2 0M264.4 146.4a1.6 1.6 0 1 0 3.2 0a1.6 1.6 0 1 0 -3.2 0M265.7 149.3a1.6 1.6 0 1 0 3.2 0a1.6 1.6 0 1 0 -3.2 0M267.2 147.5a1.6 1.6 0 1 0 3.2 0a1.6 1.6 0 1 0 -3.2 0M263.5 150.4a1.6 1.6 0 1 0 3.2 0a1.6 1.6 0 1 0 -3.2 0M259.8 150.7a1.6 1.6 0 1 0 3.2 0a1.6 1.6 0 1 0 -3.2 0M266.4 151.7a1.6 1.6 0 1 0 3.2 0a1.6 1.6 0 1 0 -3.2 0M264.6 154.2a1.6 1.6 0 1 0 3.2 0a1.6 1.6 0 1 0 -3.2 0M261.3 153.3a1.6 1.6 0 1 0 3.2 0a1.6 1.6 0 1 0 -3.2 0M261.4 149.7a1.6 1.6 0 1 0 3.2 0a1.6 1.6 0 1 0 -3.2 0M261.3 154.2a1.6 1.6 0 1 0 3.2 0a1.6 1.6 0 1 0 -3.2 0M267.5 151.3a1.6 1.6 0 1 0 3.2 0a1.6 1.6 0 1 0 -3.2 0M276.7 153.6a1.6 1.6 0 1 0 3.2 0a1.6 1.6 0 1 0 -3.2 0M271.8 145.6a1.6 1.6 0 1 0 3.2 0a1.6 1.6 0 1 0 -3.2 0M275.9 151.3a1.6 1.6 0 1 0 3.2 0a1.6 1.6 0 1 0 -3.2 0M274.8 146.2a1.6 1.6 0 1 0 3.2 0a1.6 1.6 0 1 0 -3.2 0M269.6 153.6a1.6 1.6 0 1 0 3.2 0a1.6 1.6 0 1 0 -3.2 0M277.7 147.3a1.6 1.6 0 1 0 3.2 0a1.6 1.6 0 1 0 -3.2 0M270.5 148.5a1.6 1.6 0 1 0 3.2 0a1.6 1.6 0 1 0 -3.2 0M271.8 153.2a1.6 1.6 0 1 0 3.2 0a1.6 1.6 0 1 0 -3.2 0M274.6 149.5a1.6 1.6 0 1 0 3.2 0a1.6 1.6 0 1 0 -3.2 0M272.3 148.8a1.6 1.6 0 1 0 3.2 0a1.6 1.6 0 1 0 -3.2 0M269.2 146.2a1.6 1.6 0 1 0 3.2 0a1.6 1.6 0 1 0 -3.2 0M269.7 153.4a1.6 1.6 0 1 0 3.2 0a1.6 1.6 0 1 0 -3.2 0M285.1 146.5a1.6 1.6 0 1 0 3.2 0a1.6 1.6 0 1 0 -3.2 0M285.1 153.9a1.6 1.6 0 1 0 3.2 0a1.6 1.6 0 1 0 -3.2 0M282.1 146.4a1.6 1.6 0 1 0 3.2 0a1.6 1.6 0 1 0 -3.2 0M281.9 150.1a1.6 1.6 0 1 0 3.2 0a1.6 1.6 0 1 0 -3.2 0M287.5 147.4a1.6 1.6 0 1 0 3.2 0a1.6 1.6 0 1 0 -3.2 0M280.5 148.3a1.6 1.6 0 1 0 3.2 0a1.6 1.6 0 1 0 -3.2 0M282.2 154.1a1.6 1.6 0 1 0 3.2 0a1.6 1.6 0 1 0 -3.2 0M285.3 153.2a1.6 1.6 0 1 0 3.2 0a1.6 1.6 0 1 0 -3.2 0M281.7 150.4a1.6 1.6 0 1 0 3.2 0a1.6 1.6 0 1 0 -3.2 0M291.7 149.3a1.6 1.6 0 1 0 3.2 0a1.6 1.6 0 1 0 -3.2 0M296.8 151.7a1.6 1.6 0 1 0 3.2 0a1.6 1.6 0 1 0 -3.2 0M290.5 154.4a1.6 1.6 0 1 0 3.2 0a1.6 1.6 0 1 0 -3.2 0M294.3 152.6a1.6 1.6 0 1 0 3.2 0a1.6 1.6 0 1 0 -3.2 0M296.7 154.3a1.6 1.6 0 1 0 3.2 0a1.6 1.6 0 1 0 -3.2 0M293.4 145.6a1.6 1.6 0 1 0 3.2 0a1.6 1.6 0 1 0 -3.2 0M299.8 152.7a1.6 1.6 0 1 0 3.2 0a1.6 1.6 0 1 0 -3.2 0M306.8 145.9a1.6 1.6 0 1 0 3.2 0a1.6 1.6 0 1 0 -3.2 0M306.1 153.1a1.6 1.6 0 1 0 3.2 0a1.6 1.6 0 1 0 -3.2 0M304.8 148.2a1.6 1.6 0 1 0 3.2 0a1.6 1.6 0 1 0 -3.2 0M305.9 150.1a1.6 1.6 0 1 0 3.2 0a1.6 1.6 0 1 0 -3.2 0M301.4 150.1a1.6 1.6 0 1 0 3.2 0a1.6 1.6 0 1 0 -3.2 0M303.8 146.0a1.6 1.6 0 1 0 3.2 0a1.6 1.6 0 1 0 -3.2 0M317.6 152.2a1.6 1.6 0 1 0 3.2 0a1.6 1.6 0 1 0 -3.2 0M310.5 147.7a1.6 1.6 0 1 0 3.2 0a1.6 1.6 0 1 0 -3.2 0M310.5 153.8a1.6 1.6 0 1 0 3.2 0a1.6 1.6 0 1 0 -3.2 0M316.0 148.1a1.6 1.6 0 1 0 3.2 0a1.6 1.6 0 1 0 -3.2 0M316.0 150.4a1.6 1.6 0 1 0 3.2 0a1.6 1.6 0 1 0 -3.2 0M261.4 157.4a1.6 1.6 0 1 0 3.2 0a1.6 1.6 0 1 0 -3.2 0M266.6 161.8a1.6 1.6 0 1 0 3.2 0a1.6 1.6 0 1 0 -3.2 0M259.2 159.7a1.6 1.6 0 1 0 3.2 0a1.6 1.6 0 1 0 -3.2 0M267.0 158.8a1.6 1.6 0 1 0 3.2 0a1.6 1.6 0 1 0 -3.2 0M263.8 159.2a1.6 1.6 0 1 0 3.2 0a1.6 1.6 0 1 0 -3.2 0M260.1 164.5a1.6 1.6 0 1 0 3.2 0a1.6 1.6 0 1 0 -3.2 0M266.7 156.2a1.6 1.6 0 1 0 3.2 0a1.6 1.6 0 1 0 -3.2 0M265.3 163.9a1.6 1.6 0 1 0 3.2 0a1.6 1.6 0 1 0 -3.2 0M259.1 156.7a1.6 1.6 0 1 0 3.2 0a1.6 1.6 0 1 0 -3.2 0M261.6 160.2a1.6 1.6 0 1 0 3.2 0a1.6 1.6 0 1 0 -3.2 0M266.8 160.6a1.6 1.6 0 1 0 3.2 0a1.6 1.6 0 1 0 -3.2 0M267.5 164.1a1.6 1.6 0 1 0 3.2 0a1.6 1.6 0 1 0 -3.2 0M270.1 159.6a1.6 1.6 0 1 0 3.2 0a1.6 1.6 0 1 0 -3.2 0M269.5 157.1a1.6 1.6 0 1 0 3.2 0a1.6 1.6 0 1 0 -3.2 0M269.0 161.9a1.6 1.6 0 1 0 3.2 0a1.6 1.6 0 1 0 -3.2 0M271.9 164.4a1.6 1.6 0 1 0 3.2 0a1.6 1.6 0 1 0 -3.2 0M273.3 160.0a1.6 1.6 0 1 0 3.2 0a1.6 1.6 0 1 0 -3.2 0M276.5 156.6a1.6 1.6 0 1 0 3.2 0a1.6 1.6 0 1 0 -3.2 0M275.6 160.9a1.6 1.6 0 1 0 3.2 0a1.6 1.6 0 1 0 -3.2 0M271.6 161.9a1.6 1.6 0 1 0 3.2 0a1.6 1.6 0 1 0 -3.2 0M272.4 160.6a1.6 1.6 0 1 0 3.2 0a1.6 1.6 0 1 0 -3.2 0M285.1 160.2a1.6 1.6 0 1 0 3.2 0a1.6 1.6 0 1 0 -3.2 0M279.7 161.4a1.6 1.6 0 1 0 3.2 0a1.6 1.6 0 1 0 -3.2 0M283.3 162.3a1.6 1.6 0 1 0 3.2 0a1.6 1.6 0 1 0 -3.2 0M287.3 158.0a1.6 1.6 0 1 0 3.2 0a1.6 1.6 0 1 0 -3.2 0M279.5 155.7a1.6 1.6 0 1 0 3.2 0a1.6 1.6 0 1 0 -3.2 0M287.6 164.3a1.6 1.6 0 1 0 3.2 0a1.6 1.6 0 1 0 -3.2 0M285.5 162.7a1.6 1.6 0 1 0 3.2 0a1.6 1.6 0 1 0 -3.2 0M291.9 162.8a1.6 1.6 0 1 0 3.2 0a1.6 1.6 0 1 0 -3.2 0M297.6 158.8a1.6 1.6 0 1 0 3.2 0a1.6 1.6 0 1 0 -3.2 0M292.7 159.5a1.6 1.6 0 1 0 3.2 0a1.6 1.6 0 1 0 -3.2 0M295.2 162.9a1.6 1.6 0 1 0 3.2 0a1.6 1.6 0 1 0 -3.2 0M293.3 156.3a1.6 1.6 0 1 0 3.2 0a1.6 1.6 0 1 0 -3.2 0M295.4 157.5a1.6 1.6 0 1 0 3.2 0a1.6 1.6 0 1 0 -3.2 0M290.9 157.8a1.6 1.6 0 1 0 3.2 0a1.6 1.6 0 1 0 -3.2 0M300.6 155.5a1.6 1.6 0 1 0 3.2 0a1.6 1.6 0 1 0 -3.2 0M302.1 160.7a1.6 1.6 0 1 0 3.2 0a1.6 1.6 0 1 0 -3.2 0M301.8 157.9a1.6 1.6 0 1 0 3.2 0a1.6 1.6 0 1 0 -3.2 0M305.6 162.2a1.6 1.6 0 1 0 3.2 0a1.6 1.6 0 1 0 -3.2 0M314.1 161.7a1.6 1.6 0 1 0 3.2 0a1.6 1.6 0 1 0 -3.2 0M314.4 159.2a1.6 1.6 0 1 0 3.2 0a1.6 1.6 0 1 0 -3.2 0M317.1 163.6a1.6 1.6 0 1 0 3.2 0a1.6 1.6 0 1 0 -3.2 0M311.7 157.8a1.6 1.6 0 1 0 3.2 0a1.6 1.6 0 1 0 -3.2 0M320.4 108.1a1.6 1.6 0 1 0 3.2 0a1.6 1.6 0 1 0 -3.2 0M324.1 112.0a1.6 1.6 0 1 0 3.2 0a1.6 1.6 0 1 0 -3.2 0M329.5 113.8a1.6 1.6 0 1 0 3.2 0a1.6 1.6 0 1 0 -3.2 0M324.6 120.8a1.6 1.6 0 1 0 3.2 0a1.6 1.6 0 1 0 -3.2 0M335.0 124.2a1.6 1.6 0 1 0 3.2 0a1.6 1.6 0 1 0 -3.2 0M330.6 119.8a1.6 1.6 0 1 0 3.2 0a1.6 1.6 0 1 0 -3.2 0M341.0 118.2a1.6 1.6 0 1 0 3.2 0a1.6 1.6 0 1 0 -3.2 0M341.9 123.5a1.6 1.6 0 1 0 3.2 0a1.6 1.6 0 1 0 -3.2 0M346.8 122.6a1.6 1.6 0 1 0 3.2 0a1.6 1.6 0 1 0 -3.2 0M343.3 116.0a1.6 1.6 0 1 0 3.2 0a1.6 1.6 0 1 0 -3.2 0M345.1 120.1a1.6 1.6 0 1 0 3.2 0a1.6 1.6 0 1 0 -3.2 0M339.3 123.9a1.6 1.6 0 1 0 3.2 0a1.6 1.6 0 1 0 -3.2 0M349.6 120.5a1.6 1.6 0 1 0 3.2 0a1.6 1.6 0 1 0 -3.2 0M355.9 116.6a1.6 1.6 0 1 0 3.2 0a1.6 1.6 0 1 0 -3.2 0M327.7 133.4a1.6 1.6 0 1 0 3.2 0a1.6 1.6 0 1 0 -3.2 0M321.8 130.3a1.6 1.6 0 1 0 3.2 0a1.6 1.6 0 1 0 -3.2 0M333.0 132.9a1.6 1.6 0 1 0 3.2 0a1.6 1.6 0 1 0 -3.2 0M335.2 132.9a1.6 1.6 0 1 0 3.2 0a1.6 1.6 0 1 0 -3.2 0M346.2 129.5a1.6 1.6 0 1 0 3.2 0a1.6 1.6 0 1 0 -3.2 0M340.3 133.2a1.6 1.6 0 1 0 3.2 0a1.6 1.6 0 1 0 -3.2 0M347.1 126.0a1.6 1.6 0 1 0 3.2 0a1.6 1.6 0 1 0 -3.2 0M350.4 131.2a1.6 1.6 0 1 0 3.2 0a1.6 1.6 0 1 0 -3.2 0M323.0 139.7a1.6 1.6 0 1 0 3.2 0a1.6 1.6 0 1 0 -3.2 0M329.7 136.0a1.6 1.6 0 1 0 3.2 0a1.6 1.6 0 1 0 -3.2 0M330.4 142.1a1.6 1.6 0 1 0 3.2 0a1.6 1.6 0 1 0 -3.2 0M347.6 136.3a1.6 1.6 0 1 0 3.2 0a1.6 1.6 0 1 0 -3.2 0M344.7 142.3a1.6 1.6 0 1 0 3.2 0a1.6 1.6 0 1 0 -3.2 0M340.2 142.0a1.6 1.6 0 1 0 3.2 0a1.6 1.6 0 1 0 -3.2 0M347.1 143.6a1.6 1.6 0 1 0 3.2 0a1.6 1.6 0 1 0 -3.2 0M351.2 135.8a1.6 1.6 0 1 0 3.2 0a1.6 1.6 0 1 0 -3.2 0M352.1 144.3a1.6 1.6 0 1 0 3.2 0a1.6 1.6 0 1 0 -3.2 0M362.8 136.4a1.6 1.6 0 1 0 3.2 0a1.6 1.6 0 1 0 -3.2 0M367.4 139.3a1.6 1.6 0 1 0 3.2 0a1.6 1.6 0 1 0 -3.2 0M324.3 148.1a1.6 1.6 0 1 0 3.2 0a1.6 1.6 0 1 0 -3.2 0M326.4 149.4a1.6 1.6 0 1 0 3.2 0a1.6 1.6 0 1 0 -3.2 0M327.4 153.9a1.6 1.6 0 1 0 3.2 0a1.6 1.6 0 1 0 -3.2 0M322.3 151.7a1.6 1.6 0 1 0 3.2 0a1.6 1.6 0 1 0 -3.2 0M330.6 146.4a1.6 1.6 0 1 0 3.2 0a1.6 1.6 0 1 0 -3.2 0M329.5 150.4a1.6 1.6 0 1 0 3.2 0a1.6 1.6 0 1 0 -3.2 0M329.9 153.1a1.6 1.6 0 1 0 3.2 0a1.6 1.6 0 1 0 -3.2 0M332.6 154.5a1.6 1.6 0 1 0 3.2 0a1.6 1.6 0 1 0 -3.2 0M336.9 148.4a1.6 1.6 0 1 0 3.2 0a1.6 1.6 0 1 0 -3.2 0M334.9 146.4a1.6 1.6 0 1 0 3.2 0a1.6 1.6 0 1 0 -3.2 0M343.3 150.0a1.6 1.6 0 1 0 3.2 0a1.6 1.6 0 1 0 -3.2 0M347.4 148.2a1.6 1.6 0 1 0 3.2 0a1.6 1.6 0 1 0 -3.2 0M346.9 152.0a1.6 1.6 0 1 0 3.2 0a1.6 1.6 0 1 0 -3.2 0M344.0 154.0a1.6 1.6 0 1 0 3.2 0a1.6 1.6 0 1 0 -3.2 0M343.8 145.9a1.6 1.6 0 1 0 3.2 0a1.6 1.6 0 1 0 -3.2 0M356.5 152.2a1.6 1.6 0 1 0 3.2 0a1.6 1.6 0 1 0 -3.2 0M354.4 146.2a1.6 1.6 0 1 0 3.2 0a1.6 1.6 0 1 0 -3.2 0M359.3 146.6a1.6 1.6 0 1 0 3.2 0a1.6 1.6 0 1 0 -3.2 0M323.2 162.9a1.6 1.6 0 1 0 3.2 0a1.6 1.6 0 1 0 -3.2 0M327.3 161.8a1.6 1.6 0 1 0 3.2 0a1.6 1.6 0 1 0 -3.2 0M319.7 158.9a1.6 1.6 0 1 0 3.2 0a1.6 1.6 0 1 0 -3.2 0M333.0 156.8a1.6 1.6 0 1 0 3.2 0a1.6 1.6 0 1 0 -3.2 0M337.3 156.5a1.6 1.6 0 1 0 3.2 0a1.6 1.6 0 1 0 -3.2 0M334.6 161.3a1.6 1.6 0 1 0 3.2 0a1.6 1.6 0 1 0 -3.2 0M330.7 161.1a1.6 1.6 0 1 0 3.2 0a1.6 1.6 0 1 0 -3.2 0M331.1 158.5a1.6 1.6 0 1 0 3.2 0a1.6 1.6 0 1 0 -3.2 0M343.5 159.4a1.6 1.6 0 1 0 3.2 0a1.6 1.6 0 1 0 -3.2 0M346.5 159.6a1.6 1.6 0 1 0 3.2 0a1.6 1.6 0 1 0 -3.2 0M346.4 162.3a1.6 1.6 0 1 0 3.2 0a1.6 1.6 0 1 0 -3.2 0M340.7 158.4a1.6 1.6 0 1 0 3.2 0a1.6 1.6 0 1 0 -3.2 0M355.7 160.1a1.6 1.6 0 1 0 3.2 0a1.6 1.6 0 1 0 -3.2 0M356.5 164.5a1.6 1.6 0 1 0 3.2 0a1.6 1.6 0 1 0 -3.2 0M359.3 156.7a1.6 1.6 0 1 0 3.2 0a1.6 1.6 0 1 0 -3.2 0M365.0 156.7a1.6 1.6 0 1 0 3.2 0a1.6 1.6 0 1 0 -3.2 0M369.4 156.0a1.6 1.6 0 1 0 3.2 0a1.6 1.6 0 1 0 -3.2 0M377.9 159.2a1.6 1.6 0 1 0 3.2 0a1.6 1.6 0 1 0 -3.2 0M144.3 166.6a1.6 1.6 0 1 0 3.2 0a1.6 1.6 0 1 0 -3.2 0M141.9 168.8a1.6 1.6 0 1 0 3.2 0a1.6 1.6 0 1 0 -3.2 0M145.5 172.5a1.6 1.6 0 1 0 3.2 0a1.6 1.6 0 1 0 -3.2 0M143.1 173.7a1.6 1.6 0 1 0 3.2 0a1.6 1.6 0 1 0 -3.2 0M157.9 165.7a1.6 1.6 0 1 0 3.2 0a1.6 1.6 0 1 0 -3.2 0M155.1 169.7a1.6 1.6 0 1 0 3.2 0a1.6 1.6 0 1 0 -3.2 0M164.3 168.4a1.6 1.6 0 1 0 3.2 0a1.6 1.6 0 1 0 -3.2 0M165.7 171.9a1.6 1.6 0 1 0 3.2 0a1.6 1.6 0 1 0 -3.2 0M170.3 172.4a1.6 1.6 0 1 0 3.2 0a1.6 1.6 0 1 0 -3.2 0M184.0 172.2a1.6 1.6 0 1 0 3.2 0a1.6 1.6 0 1 0 -3.2 0M197.5 170.7a1.6 1.6 0 1 0 3.2 0a1.6 1.6 0 1 0 -3.2 0M197.7 173.5a1.6 1.6 0 1 0 3.2 0a1.6 1.6 0 1 0 -3.2 0M144.2 182.7a1.6 1.6 0 1 0 3.2 0a1.6 1.6 0 1 0 -3.2 0M140.9 180.2a1.6 1.6 0 1 0 3.2 0a1.6 1.6 0 1 0 -3.2 0M140.2 177.0a1.6 1.6 0 1 0 3.2 0a1.6 1.6 0 1 0 -3.2 0M146.4 184.2a1.6 1.6 0 1 0 3.2 0a1.6 1.6 0 1 0 -3.2 0M152.5 184.4a1.6 1.6 0 1 0 3.2 0a1.6 1.6 0 1 0 -3.2 0M155.8 178.0a1.6 1.6 0 1 0 3.2 0a1.6 1.6 0 1 0 -3.2 0M163.6 183.1a1.6 1.6 0 1 0 3.2 0a1.6 1.6 0 1 0 -3.2 0M159.8 183.5a1.6 1.6 0 1 0 3.2 0a1.6 1.6 0 1 0 -3.2 0M164.9 180.8a1.6 1.6 0 1 0 3.2 0a1.6 1.6 0 1 0 -3.2 0M162.6 178.9a1.6 1.6 0 1 0 3.2 0a1.6 1.6 0 1 0 -3.2 0M166.8 176.3a1.6 1.6 0 1 0 3.2 0a1.6 1.6 0 1 0 -3.2 0M177.4 177.2a1.6 1.6 0 1 0 3.2 0a1.6 1.6 0 1 0 -3.2 0M170.9 175.6a1.6 1.6 0 1 0 3.2 0a1.6 1.6 0 1 0 -3.2 0M184.3 176.0a1.6 1.6 0 1 0 3.2 0a1.6 1.6 0 1 0 -3.2 0M186.8 182.3a1.6 1.6 0 1 0 3.2 0a1.6 1.6 0 1 0 -3.2 0M181.2 179.1a1.6 1.6 0 1 0 3.2 0a1.6 1.6 0 1 0 -3.2 0M195.3 178.1a1.6 1.6 0 1 0 3.2 0a1.6 1.6 0 1 0 -3.2 0M192.1 180.0a1.6 1.6 0 1 0 3.2 0a1.6 1.6 0 1 0 -3.2 0M189.4 178.6a1.6 1.6 0 1 0 3.2 0a1.6 1.6 0 1 0 -3.2 0M192.2 177.1a1.6 1.6 0 1 0 3.2 0a1.6 1.6 0 1 0 -3.2 0M164.5 193.5a1.6 1.6 0 1 0 3.2 0a1.6 1.6 0 1 0 -3.2 0M161.8 186.0a1.6 1.6 0 1 0 3.2 0a1.6 1.6 0 1 0 -3.2 0M176.8 190.9a1.6 1.6 0 1 0 3.2 0a1.6 1.6 0 1 0 -3.2 0M171.8 191.7a1.6 1.6 0 1 0 3.2 0a1.6 1.6 0 1 0 -3.2 0M174.0 193.7a1.6 1.6 0 1 0 3.2 0a1.6 1.6 0 1 0 -3.2 0M170.3 188.6a1.6 1.6 0 1 0 3.2 0a1.6 1.6 0 1 0 -3.2 0M184.7 188.5a1.6 1.6 0 1 0 3.2 0a1.6 1.6 0 1 0 -3.2 0M180.6 187.9a1.6 1.6 0 1 0 3.2 0a1.6 1.6 0 1 0 -3.2 0M187.1 189.2a1.6 1.6 0 1 0 3.2 0a1.6 1.6 0 1 0 -3.2 0M195.4 189.9a1.6 1.6 0 1 0 3.2 0a1.6 1.6 0 1 0 -3.2 0M192.9 185.8a1.6 1.6 0 1 0 3.2 0a1.6 1.6 0 1 0 -3.2 0M193.0 193.4a1.6 1.6 0 1 0 3.2 0a1.6 1.6 0 1 0 -3.2 0M197.7 185.5a1.6 1.6 0 1 0 3.2 0a1.6 1.6 0 1 0 -3.2 0M184.9 201.1a1.6 1.6 0 1 0 3.2 0a1.6 1.6 0 1 0 -3.2 0M179.6 204.3a1.6 1.6 0 1 0 3.2 0a1.6 1.6 0 1 0 -3.2 0M179.9 197.5a1.6 1.6 0 1 0 3.2 0a1.6 1.6 0 1 0 -3.2 0M195.9 199.8a1.6 1.6 0 1 0 3.2 0a1.6 1.6 0 1 0 -3.2 0M192.4 201.2a1.6 1.6 0 1 0 3.2 0a1.6 1.6 0 1 0 -3.2 0M197.2 201.7a1.6 1.6 0 1 0 3.2 0a1.6 1.6 0 1 0 -3.2 0M160.5 210.4a1.6 1.6 0 1 0 3.2 0a1.6 1.6 0 1 0 -3.2 0M161.3 213.7a1.6 1.6 0 1 0 3.2 0a1.6 1.6 0 1 0 -3.2 0M177.5 210.6a1.6 1.6 0 1 0 3.2 0a1.6 1.6 0 1 0 -3.2 0M183.9 213.9a1.6 1.6 0 1 0 3.2 0a1.6 1.6 0 1 0 -3.2 0M184.0 211.1a1.6 1.6 0 1 0 3.2 0a1.6 1.6 0 1 0 -3.2 0M194.7 208.2a1.6 1.6 0 1 0 3.2 0a1.6 1.6 0 1 0 -3.2 0M195.8 210.2a1.6 1.6 0 1 0 3.2 0a1.6 1.6 0 1 0 -3.2 0M192.4 214.1a1.6 1.6 0 1 0 3.2 0a1.6 1.6 0 1 0 -3.2 0M186.9 223.0a1.6 1.6 0 1 0 3.2 0a1.6 1.6 0 1 0 -3.2 0M184.3 219.7a1.6 1.6 0 1 0 3.2 0a1.6 1.6 0 1 0 -3.2 0M192.1 221.0a1.6 1.6 0 1 0 3.2 0a1.6 1.6 0 1 0 -3.2 0M197.0 219.2a1.6 1.6 0 1 0 3.2 0a1.6 1.6 0 1 0 -3.2 0M189.9 215.6a1.6 1.6 0 1 0 3.2 0a1.6 1.6 0 1 0 -3.2 0M194.7 221.3a1.6 1.6 0 1 0 3.2 0a1.6 1.6 0 1 0 -3.2 0M201.4 172.2a1.6 1.6 0 1 0 3.2 0a1.6 1.6 0 1 0 -3.2 0M206.2 172.7a1.6 1.6 0 1 0 3.2 0a1.6 1.6 0 1 0 -3.2 0M204.3 169.3a1.6 1.6 0 1 0 3.2 0a1.6 1.6 0 1 0 -3.2 0M202.1 170.0a1.6 1.6 0 1 0 3.2 0a1.6 1.6 0 1 0 -3.2 0M203.1 167.2a1.6 1.6 0 1 0 3.2 0a1.6 1.6 0 1 0 -3.2 0M214.8 165.6a1.6 1.6 0 1 0 3.2 0a1.6 1.6 0 1 0 -3.2 0M212.5 172.4a1.6 1.6 0 1 0 3.2 0a1.6 1.6 0 1 0 -3.2 0M225.0 170.3a1.6 1.6 0 1 0 3.2 0a1.6 1.6 0 1 0 -3.2 0M221.9 165.7a1.6 1.6 0 1 0 3.2 0a1.6 1.6 0 1 0 -3.2 0M225.2 167.0a1.6 1.6 0 1 0 3.2 0a1.6 1.6 0 1 0 -3.2 0M227.7 172.2a1.6 1.6 0 1 0 3.2 0a1.6 1.6 0 1 0 -3.2 0M222.6 174.0a1.6 1.6 0 1 0 3.2 0a1.6 1.6 0 1 0 -3.2 0M237.0 168.5a1.6 1.6 0 1 0 3.2 0a1.6 1.6 0 1 0 -3.2 0M230.0 170.8a1.6 1.6 0 1 0 3.2 0a1.6 1.6 0 1 0 -3.2 0M235.5 171.7a1.6 1.6 0 1 0 3.2 0a1.6 1.6 0 1 0 -3.2 0M230.1 165.9a1.6 1.6 0 1 0 3.2 0a1.6 1.6 0 1 0 -3.2 0M234.1 166.2a1.6 1.6 0 1 0 3.2 0a1.6 1.6 0 1 0 -3.2 0M233.5 169.6a1.6 1.6 0 1 0 3.2 0a1.6 1.6 0 1 0 -3.2 0M230.2 174.1a1.6 1.6 0 1 0 3.2 0a1.6 1.6 0 1 0 -3.2 0M240.3 169.9a1.6 1.6 0 1 0 3.2 0a1.6 1.6 0 1 0 -3.2 0M243.3 169.0a1.6 1.6 0 1 0 3.2 0a1.6 1.6 0 1 0 -3.2 0M246.0 167.8a1.6 1.6 0 1 0 3.2 0a1.6 1.6 0 1 0 -3.2 0M241.5 173.0a1.6 1.6 0 1 0 3.2 0a1.6 1.6 0 1 0 -3.2 0M245.6 170.4a1.6 1.6 0 1 0 3.2 0a1.6 1.6 0 1 0 -3.2 0M242.5 166.1a1.6 1.6 0 1 0 3.2 0a1.6 1.6 0 1 0 -3.2 0M243.7 173.6a1.6 1.6 0 1 0 3.2 0a1.6 1.6 0 1 0 -3.2 0M239.0 172.4a1.6 1.6 0 1 0 3.2 0a1.6 1.6 0 1 0 -3.2 0M239.5 167.6a1.6 1.6 0 1 0 3.2 0a1.6 1.6 0 1 0 -3.2 0M255.8 172.0a1.6 1.6 0 1 0 3.2 0a1.6 1.6 0 1 0 -3.2 0M252.2 170.8a1.6 1.6 0 1 0 3.2 0a1.6 1.6 0 1 0 -3.2 0M254.7 167.6a1.6 1.6 0 1 0 3.2 0a1.6 1.6 0 1 0 -3.2 0M257.6 170.4a1.6 1.6 0 1 0 3.2 0a1.6 1.6 0 1 0 -3.2 0M257.6 173.7a1.6 1.6 0 1 0 3.2 0a1.6 1.6 0 1 0 -3.2 0M252.8 173.8a1.6 1.6 0 1 0 3.2 0a1.6 1.6 0 1 0 -3.2 0M250.6 167.7a1.6 1.6 0 1 0 3.2 0a1.6 1.6 0 1 0 -3.2 0M249.1 171.0a1.6 1.6 0 1 0 3.2 0a1.6 1.6 0 1 0 -3.2 0M250.6 172.7a1.6 1.6 0 1 0 3.2 0a1.6 1.6 0 1 0 -3.2 0M203.0 177.3a1.6 1.6 0 1 0 3.2 0a1.6 1.6 0 1 0 -3.2 0M200.2 181.8a1.6 1.6 0 1 0 3.2 0a1.6 1.6 0 1 0 -3.2 0M202.2 180.6a1.6 1.6 0 1 0 3.2 0a1.6 1.6 0 1 0 -3.2 0M206.8 176.9a1.6 1.6 0 1 0 3.2 0a1.6 1.6 0 1 0 -3.2 0M203.9 182.5a1.6 1.6 0 1 0 3.2 0a1.6 1.6 0 1 0 -3.2 0M215.2 183.0a1.6 1.6 0 1 0 3.2 0a1.6 1.6 0 1 0 -3.2 0M212.7 179.4a1.6 1.6 0 1 0 3.2 0a1.6 1.6 0 1 0 -3.2 0M209.7 177.9a1.6 1.6 0 1 0 3.2 0a1.6 1.6 0 1 0 -3.2 0M216.7 178.1a1.6 1.6 0 1 0 3.2 0a1.6 1.6 0 1 0 -3.2 0M227.2 176.8a1.6 1.6 0 1 0 3.2 0a1.6 1.6 0 1 0 -3.2 0M222.7 183.0a1.6 1.6 0 1 0 3.2 0a1.6 1.6 0 1 0 -3.2 0M230.1 180.6a1.6 1.6 0 1 0 3.2 0a1.6 1.6 0 1 0 -3.2 0M229.9 183.4a1.6 1.6 0 1 0 3.2 0a1.6 1.6 0 1 0 -3.2 0M237.3 180.8a1.6 1.6 0 1 0 3.2 0a1.6 1.6 0 1 0 -3.2 0M233.6 184.0a1.6 1.6 0 1 0 3.2 0a1.6 1.6 0 1 0 -3.2 0M232.2 175.7a1.6 1.6 0 1 0 3.2 0a1.6 1.6 0 1 0 -3.2 0M236.8 178.1a1.6 1.6 0 1 0 3.2 0a1.6 1.6 0 1 0 -3.2 0M229.2 180.5a1.6 1.6 0 1 0 3.2 0a1.6 1.6 0 1 0 -3.2 0M244.5 180.4a1.6 1.6 0 1 0 3.2 0a1.6 1.6 0 1 0 -3.2 0M240.8 183.0a1.6 1.6 0 1 0 3.2 0a1.6 1.6 0 1 0 -3.2 0M247.7 182.8a1.6 1.6 0 1 0 3.2 0a1.6 1.6 0 1 0 -3.2 0M242.2 180.4a1.6 1.6 0 1 0 3.2 0a1.6 1.6 0 1 0 -3.2 0M240.4 177.5a1.6 1.6 0 1 0 3.2 0a1.6 1.6 0 1 0 -3.2 0M247.8 178.5a1.6 1.6 0 1 0 3.2 0a1.6 1.6 0 1 0 -3.2 0M244.4 184.1a1.6 1.6 0 1 0 3.2 0a1.6 1.6 0 1 0 -3.2 0M251.9 181.4a1.6 1.6 0 1 0 3.2 0a1.6 1.6 0 1 0 -3.2 0M255.5 181.6a1.6 1.6 0 1 0 3.2 0a1.6 1.6 0 1 0 -3.2 0M255.0 179.0a1.6 1.6 0 1 0 3.2 0a1.6 1.6 0 1 0 -3.2 0M251.0 176.4a1.6 1.6 0 1 0 3.2 0a1.6 1.6 0 1 0 -3.2 0M257.7 180.2a1.6 1.6 0 1 0 3.2 0a1.6 1.6 0 1 0 -3.2 0M255.0 176.6a1.6 1.6 0 1 0 3.2 0a1.6 1.6 0 1 0 -3.2 0M257.8 176.6a1.6 1.6 0 1 0 3.2 0a1.6 1.6 0 1 0 -3.2 0M251.2 183.9a1.6 1.6 0 1 0 3.2 0a1.6 1.6 0 1 0 -3.2 0M255.9 184.3a1.6 1.6 0 1 0 3.2 0a1.6 1.6 0 1 0 -3.2 0M201.3 191.1a1.6 1.6 0 1 0 3.2 0a1.6 1.6 0 1 0 -3.2 0M206.9 186.4a1.6 1.6 0 1 0 3.2 0a1.6 1.6 0 1 0 -3.2 0M201.3 193.5a1.6 1.6 0 1 0 3.2 0a1.6 1.6 0 1 0 -3.2 0M204.2 189.1a1.6 1.6 0 1 0 3.2 0a1.6 1.6 0 1 0 -3.2 0M204.4 192.1a1.6 1.6 0 1 0 3.2 0a1.6 1.6 0 1 0 -3.2 0M204.3 194.5a1.6 1.6 0 1 0 3.2 0a1.6 1.6 0 1 0 -3.2 0M207.7 192.8a1.6 1.6 0 1 0 3.2 0a1.6 1.6 0 1 0 -3.2 0M215.0 189.2a1.6 1.6 0 1 0 3.2 0a1.6 1.6 0 1 0 -3.2 0M209.3 186.0a1.6 1.6 0 1 0 3.2 0a1.6 1.6 0 1 0 -3.2 0M221.2 186.7a1.6 1.6 0 1 0 3.2 0a1.6 1.6 0 1 0 -3.2 0M224.7 192.4a1.6 1.6 0 1 0 3.2 0a1.6 1.6 0 1 0 -3.2 0M221.4 191.9a1.6 1.6 0 1 0 3.2 0a1.6 1.6 0 1 0 -3.2 0M225.8 189.1a1.6 1.6 0 1 0 3.2 0a1.6 1.6 0 1 0 -3.2 0M222.5 189.8a1.6 1.6 0 1 0 3.2 0a1.6 1.6 0 1 0 -3.2 0M236.6 193.4a1.6 1.6 0 1 0 3.2 0a1.6 1.6 0 1 0 -3.2 0M234.9 186.0a1.6 1.6 0 1 0 3.2 0a1.6 1.6 0 1 0 -3.2 0M231.7 190.7a1.6 1.6 0 1 0 3.2 0a1.6 1.6 0 1 0 -3.2 0M229.5 193.3a1.6 1.6 0 1 0 3.2 0a1.6 1.6 0 1 0 -3.2 0M243.1 193.4a1.6 1.6 0 1 0 3.2 0a1.6 1.6 0 1 0 -3.2 0M240.2 191.2a1.6 1.6 0 1 0 3.2 0a1.6 1.6 0 1 0 -3.2 0M246.1 194.0a1.6 1.6 0 1 0 3.2 0a1.6 1.6 0 1 0 -3.2 0M242.3 190.1a1.6 1.6 0 1 0 3.2 0a1.6 1.6 0 1 0 -3.2 0M247.1 189.4a1.6 1.6 0 1 0 3.2 0a1.6 1.6 0 1 0 -3.2 0M245.1 187.0a1.6 1.6 0 1 0 3.2 0a1.6 1.6 0 1 0 -3.2 0M241.2 187.2a1.6 1.6 0 1 0 3.2 0a1.6 1.6 0 1 0 -3.2 0M239.9 193.7a1.6 1.6 0 1 0 3.2 0a1.6 1.6 0 1 0 -3.2 0M246.3 191.7a1.6 1.6 0 1 0 3.2 0a1.6 1.6 0 1 0 -3.2 0M253.0 192.5a1.6 1.6 0 1 0 3.2 0a1.6 1.6 0 1 0 -3.2 0M254.2 186.3a1.6 1.6 0 1 0 3.2 0a1.6 1.6 0 1 0 -3.2 0M255.5 188.5a1.6 1.6 0 1 0 3.2 0a1.6 1.6 0 1 0 -3.2 0M252.3 188.0a1.6 1.6 0 1 0 3.2 0a1.6 1.6 0 1 0 -3.2 0M256.2 191.3a1.6 1.6 0 1 0 3.2 0a1.6 1.6 0 1 0 -3.2 0M250.6 192.7a1.6 1.6 0 1 0 3.2 0a1.6 1.6 0 1 0 -3.2 0M254.4 194.4a1.6 1.6 0 1 0 3.2 0a1.6 1.6 0 1 0 -3.2 0M249.4 190.0a1.6 1.6 0 1 0 3.2 0a1.6 1.6 0 1 0 -3.2 0M257.7 193.7a1.6 1.6 0 1 0 3.2 0a1.6 1.6 0 1 0 -3.2 0M205.0 198.5a1.6 1.6 0 1 0 3.2 0a1.6 1.6 0 1 0 -3.2 0M202.2 202.0a1.6 1.6 0 1 0 3.2 0a1.6 1.6 0 1 0 -3.2 0M200.4 200.2a1.6 1.6 0 1 0 3.2 0a1.6 1.6 0 1 0 -3.2 0M202.7 204.3a1.6 1.6 0 1 0 3.2 0a1.6 1.6 0 1 0 -3.2 0M202.0 197.7a1.6 1.6 0 1 0 3.2 0a1.6 1.6 0 1 0 -3.2 0M206.0 203.3a1.6 1.6 0 1 0 3.2 0a1.6 1.6 0 1 0 -3.2 0M199.9 202.8a1.6 1.6 0 1 0 3.2 0a1.6 1.6 0 1 0 -3.2 0M210.5 201.8a1.6 1.6 0 1 0 3.2 0a1.6 1.6 0 1 0 -3.2 0M209.4 196.3a1.6 1.6 0 1 0 3.2 0a1.6 1.6 0 1 0 -3.2 0M216.7 200.1a1.6 1.6 0 1 0 3.2 0a1.6 1.6 0 1 0 -3.2 0M213.0 204.2a1.6 1.6 0 1 0 3.2 0a1.6 1.6 0 1 0 -3.2 0M225.3 199.0a1.6 1.6 0 1 0 3.2 0a1.6 1.6 0 1 0 -3.2 0M223.1 198.3a1.6 1.6 0 1 0 3.2 0a1.6 1.6 0 1 0 -3.2 0M223.9 202.8a1.6 1.6 0 1 0 3.2 0a1.6 1.6 0 1 0 -3.2 0M227.5 203.9a1.6 1.6 0 1 0 3.2 0a1.6 1.6 0 1 0 -3.2 0M226.4 201.3a1.6 1.6 0 1 0 3.2 0a1.6 1.6 0 1 0 -3.2 0M236.4 204.3a1.6 1.6 0 1 0 3.2 0a1.6 1.6 0 1 0 -3.2 0M229.7 200.0a1.6 1.6 0 1 0 3.2 0a1.6 1.6 0 1 0 -3.2 0M232.9 196.1a1.6 1.6 0 1 0 3.2 0a1.6 1.6 0 1 0 -3.2 0M230.9 197.7a1.6 1.6 0 1 0 3.2 0a1.6 1.6 0 1 0 -3.2 0M239.1 198.3a1.6 1.6 0 1 0 3.2 0a1.6 1.6 0 1 0 -3.2 0M247.4 198.0a1.6 1.6 0 1 0 3.2 0a1.6 1.6 0 1 0 -3.2 0M241.5 199.6a1.6 1.6 0 1 0 3.2 0a1.6 1.6 0 1 0 -3.2 0M246.9 202.8a1.6 1.6 0 1 0 3.2 0a1.6 1.6 0 1 0 -3.2 0M244.1 201.4a1.6 1.6 0 1 0 3.2 0a1.6 1.6 0 1 0 -3.2 0M238.9 203.8a1.6 1.6 0 1 0 3.2 0a1.6 1.6 0 1 0 -3.2 0M243.8 198.7a1.6 1.6 0 1 0 3.2 0a1.6 1.6 0 1 0 -3.2 0M254.3 197.9a1.6 1.6 0 1 0 3.2 0a1.6 1.6 0 1 0 -3.2 0M255.4 200.0a1.6 1.6 0 1 0 3.2 0a1.6 1.6 0 1 0 -3.2 0M251.7 199.5a1.6 1.6 0 1 0 3.2 0a1.6 1.6 0 1 0 -3.2 0M257.1 196.2a1.6 1.6 0 1 0 3.2 0a1.6 1.6 0 1 0 -3.2 0M250.8 204.2a1.6 1.6 0 1 0 3.2 0a1.6 1.6 0 1 0 -3.2 0M251.3 197.0a1.6 1.6 0 1 0 3.2 0a1.6 1.6 0 1 0 -3.2 0M257.5 201.1a1.6 1.6 0 1 0 3.2 0a1.6 1.6 0 1 0 -3.2 0M199.5 208.9a1.6 1.6 0 1 0 3.2 0a1.6 1.6 0 1 0 -3.2 0M200.9 210.9a1.6 1.6 0 1 0 3.2 0a1.6 1.6 0 1 0 -3.2 0M202.4 213.8a1.6 1.6 0 1 0 3.2 0a1.6 1.6 0 1 0 -3.2 0M207.2 212.0a1.6 1.6 0 1 0 3.2 0a1.6 1.6 0 1 0 -3.2 0M202.8 208.9a1.6 1.6 0 1 0 3.2 0a1.6 1.6 0 1 0 -3.2 0M205.5 206.8a1.6 1.6 0 1 0 3.2 0a1.6 1.6 0 1 0 -3.2 0M200.2 213.2a1.6 1.6 0 1 0 3.2 0a1.6 1.6 0 1 0 -3.2 0M207.8 205.6a1.6 1.6 0 1 0 3.2 0a1.6 1.6 0 1 0 -3.2 0M200.8 206.7a1.6 1.6 0 1 0 3.2 0a1.6 1.6 0 1 0 -3.2 0M211.2 208.8a1.6 1.6 0 1 0 3.2 0a1.6 1.6 0 1 0 -3.2 0M216.5 211.3a1.6 1.6 0 1 0 3.2 0a1.6 1.6 0 1 0 -3.2 0M208.9 208.6a1.6 1.6 0 1 0 3.2 0a1.6 1.6 0 1 0 -3.2 0M212.8 207.1a1.6 1.6 0 1 0 3.2 0a1.6 1.6 0 1 0 -3.2 0M210.2 205.6a1.6 1.6 0 1 0 3.2 0a1.6 1.6 0 1 0 -3.2 0M212.9 210.7a1.6 1.6 0 1 0 3.2 0a1.6 1.6 0 1 0 -3.2 0M214.6 214.0a1.6 1.6 0 1 0 3.2 0a1.6 1.6 0 1 0 -3.2 0M221.3 211.9a1.6 1.6 0 1 0 3.2 0a1.6 1.6 0 1 0 -3.2 0M225.9 208.5a1.6 1.6 0 1 0 3.2 0a1.6 1.6 0 1 0 -3.2 0M219.9 210.0a1.6 1.6 0 1 0 3.2 0a1.6 1.6 0 1 0 -3.2 0M224.5 206.0a1.6 1.6 0 1 0 3.2 0a1.6 1.6 0 1 0 -3.2 0M227.1 211.0a1.6 1.6 0 1 0 3.2 0a1.6 1.6 0 1 0 -3.2 0M229.3 205.7a1.6 1.6 0 1 0 3.2 0a1.6 1.6 0 1 0 -3.2 0M232.4 207.4a1.6 1.6 0 1 0 3.2 0a1.6 1.6 0 1 0 -3.2 0M232.9 213.1a1.6 1.6 0 1 0 3.2 0a1.6 1.6 0 1 0 -3.2 0M235.7 206.7a1.6 1.6 0 1 0 3.2 0a1.6 1.6 0 1 0 -3.2 0M245.6 207.8a1.6 1.6 0 1 0 3.2 0a1.6 1.6 0 1 0 -3.2 0M240.6 209.2a1.6 1.6 0 1 0 3.2 0a1.6 1.6 0 1 0 -3.2 0M240.2 213.4a1.6 1.6 0 1 0 3.2 0a1.6 1.6 0 1 0 -3.2 0M242.3 205.8a1.6 1.6 0 1 0 3.2 0a1.6 1.6 0 1 0 -3.2 0M246.8 213.7a1.6 1.6 0 1 0 3.2 0a1.6 1.6 0 1 0 -3.2 0M244.0 210.1a1.6 1.6 0 1 0 3.2 0a1.6 1.6 0 1 0 -3.2 0M242.9 213.1a1.6 1.6 0 1 0 3.2 0a1.6 1.6 0 1 0 -3.2 0M257.7 214.0a1.6 1.6 0 1 0 3.2 0a1.6 1.6 0 1 0 -3.2 0M249.3 208.2a1.6 1.6 0 1 0 3.2 0a1.6 1.6 0 1 0 -3.2 0M251.1 213.1a1.6 1.6 0 1 0 3.2 0a1.6 1.6 0 1 0 -3.2 0M254.1 208.0a1.6 1.6 0 1 0 3.2 0a1.6 1.6 0 1 0 -3.2 0M255.7 206.1a1.6 1.6 0 1 0 3.2 0a1.6 1.6 0 1 0 -3.2 0M252.0 206.1a1.6 1.6 0 1 0 3.2 0a1.6 1.6 0 1 0 -3.2 0M201.1 215.9a1.6 1.6 0 1 0 3.2 0a1.6 1.6 0 1 0 -3.2 0M200.4 222.2a1.6 1.6 0 1 0 3.2 0a1.6 1.6 0 1 0 -3.2 0M201.3 224.4a1.6 1.6 0 1 0 3.2 0a1.6 1.6 0 1 0 -3.2 0M205.5 221.3a1.6 1.6 0 1 0 3.2 0a1.6 1.6 0 1 0 -3.2 0M204.3 216.8a1.6 1.6 0 1 0 3.2 0a1.6 1.6 0 1 0 -3.2 0M206.4 223.8a1.6 1.6 0 1 0 3.2 0a1.6 1.6 0 1 0 -3.2 0M199.7 217.8a1.6 1.6 0 1 0 3.2 0a1.6 1.6 0 1 0 -3.2 0M207.6 218.4a1.6 1.6 0 1 0 3.2 0a1.6 1.6 0 1 0 -3.2 0M207.7 221.8a1.6 1.6 0 1 0 3.2 0a1.6 1.6 0 1 0 -3.2 0M201.5 219.3a1.6 1.6 0 1 0 3.2 0a1.6 1.6 0 1 0 -3.2 0M211.2 222.7a1.6 1.6 0 1 0 3.2 0a1.6 1.6 0 1 0 -3.2 0M214.9 219.1a1.6 1.6 0 1 0 3.2 0a1.6 1.6 0 1 0 -3.2 0M213.7 217.0a1.6 1.6 0 1 0 3.2 0a1.6 1.6 0 1 0 -3.2 0M213.7 222.8a1.6 1.6 0 1 0 3.2 0a1.6 1.6 0 1 0 -3.2 0M216.7 224.5a1.6 1.6 0 1 0 3.2 0a1.6 1.6 0 1 0 -3.2 0M211.6 219.1a1.6 1.6 0 1 0 3.2 0a1.6 1.6 0 1 0 -3.2 0M217.6 218.6a1.6 1.6 0 1 0 3.2 0a1.6 1.6 0 1 0 -3.2 0M220.4 217.0a1.6 1.6 0 1 0 3.2 0a1.6 1.6 0 1 0 -3.2 0M221.6 219.3a1.6 1.6 0 1 0 3.2 0a1.6 1.6 0 1 0 -3.2 0M223.5 216.0a1.6 1.6 0 1 0 3.2 0a1.6 1.6 0 1 0 -3.2 0M223.2 223.6a1.6 1.6 0 1 0 3.2 0a1.6 1.6 0 1 0 -3.2 0M223.9 220.7a1.6 1.6 0 1 0 3.2 0a1.6 1.6 0 1 0 -3.2 0M231.8 219.2a1.6 1.6 0 1 0 3.2 0a1.6 1.6 0 1 0 -3.2 0M232.0 222.8a1.6 1.6 0 1 0 3.2 0a1.6 1.6 0 1 0 -3.2 0M232.9 216.1a1.6 1.6 0 1 0 3.2 0a1.6 1.6 0 1 0 -3.2 0M229.0 216.0a1.6 1.6 0 1 0 3.2 0a1.6 1.6 0 1 0 -3.2 0M247.5 221.7a1.6 1.6 0 1 0 3.2 0a1.6 1.6 0 1 0 -3.2 0M244.9 218.2a1.6 1.6 0 1 0 3.2 0a1.6 1.6 0 1 0 -3.2 0M240.4 221.3a1.6 1.6 0 1 0 3.2 0a1.6 1.6 0 1 0 -3.2 0M247.3 217.7a1.6 1.6 0 1 0 3.2 0a1.6 1.6 0 1 0 -3.2 0M255.3 223.9a1.6 1.6 0 1 0 3.2 0a1.6 1.6 0 1 0 -3.2 0M250.7 217.6a1.6 1.6 0 1 0 3.2 0a1.6 1.6 0 1 0 -3.2 0M251.0 221.5a1.6 1.6 0 1 0 3.2 0a1.6 1.6 0 1 0 -3.2 0M249.3 219.8a1.6 1.6 0 1 0 3.2 0a1.6 1.6 0 1 0 -3.2 0M256.9 221.0a1.6 1.6 0 1 0 3.2 0a1.6 1.6 0 1 0 -3.2 0M253.5 221.7a1.6 1.6 0 1 0 3.2 0a1.6 1.6 0 1 0 -3.2 0M256.5 217.7a1.6 1.6 0 1 0 3.2 0a1.6 1.6 0 1 0 -3.2 0M266.7 173.8a1.6 1.6 0 1 0 3.2 0a1.6 1.6 0 1 0 -3.2 0M259.3 165.7a1.6 1.6 0 1 0 3.2 0a1.6 1.6 0 1 0 -3.2 0M267.2 170.4a1.6 1.6 0 1 0 3.2 0a1.6 1.6 0 1 0 -3.2 0M261.0 174.2a1.6 1.6 0 1 0 3.2 0a1.6 1.6 0 1 0 -3.2 0M261.4 167.1a1.6 1.6 0 1 0 3.2 0a1.6 1.6 0 1 0 -3.2 0M260.7 170.1a1.6 1.6 0 1 0 3.2 0a1.6 1.6 0 1 0 -3.2 0M262.9 171.7a1.6 1.6 0 1 0 3.2 0a1.6 1.6 0 1 0 -3.2 0M265.1 169.5a1.6 1.6 0 1 0 3.2 0a1.6 1.6 0 1 0 -3.2 0M265.3 165.6a1.6 1.6 0 1 0 3.2 0a1.6 1.6 0 1 0 -3.2 0M274.9 173.3a1.6 1.6 0 1 0 3.2 0a1.6 1.6 0 1 0 -3.2 0M274.2 166.8a1.6 1.6 0 1 0 3.2 0a1.6 1.6 0 1 0 -3.2 0M271.4 173.6a1.6 1.6 0 1 0 3.2 0a1.6 1.6 0 1 0 -3.2 0M274.6 170.9a1.6 1.6 0 1 0 3.2 0a1.6 1.6 0 1 0 -3.2 0M276.8 171.7a1.6 1.6 0 1 0 3.2 0a1.6 1.6 0 1 0 -3.2 0M269.5 165.6a1.6 1.6 0 1 0 3.2 0a1.6 1.6 0 1 0 -3.2 0M272.0 165.9a1.6 1.6 0 1 0 3.2 0a1.6 1.6 0 1 0 -3.2 0M277.6 173.9a1.6 1.6 0 1 0 3.2 0a1.6 1.6 0 1 0 -3.2 0M276.5 165.5a1.6 1.6 0 1 0 3.2 0a1.6 1.6 0 1 0 -3.2 0M273.2 165.6a1.6 1.6 0 1 0 3.2 0a1.6 1.6 0 1 0 -3.2 0M283.4 171.2a1.6 1.6 0 1 0 3.2 0a1.6 1.6 0 1 0 -3.2 0M286.9 171.7a1.6 1.6 0 1 0 3.2 0a1.6 1.6 0 1 0 -3.2 0M280.9 172.8a1.6 1.6 0 1 0 3.2 0a1.6 1.6 0 1 0 -3.2 0M287.2 165.9a1.6 1.6 0 1 0 3.2 0a1.6 1.6 0 1 0 -3.2 0M287.1 168.7a1.6 1.6 0 1 0 3.2 0a1.6 1.6 0 1 0 -3.2 0M279.0 165.8a1.6 1.6 0 1 0 3.2 0a1.6 1.6 0 1 0 -3.2 0M284.9 174.3a1.6 1.6 0 1 0 3.2 0a1.6 1.6 0 1 0 -3.2 0M285.1 166.9a1.6 1.6 0 1 0 3.2 0a1.6 1.6 0 1 0 -3.2 0M280.6 169.0a1.6 1.6 0 1 0 3.2 0a1.6 1.6 0 1 0 -3.2 0M287.8 174.0a1.6 1.6 0 1 0 3.2 0a1.6 1.6 0 1 0 -3.2 0M290.0 170.9a1.6 1.6 0 1 0 3.2 0a1.6 1.6 0 1 0 -3.2 0M295.3 172.4a1.6 1.6 0 1 0 3.2 0a1.6 1.6 0 1 0 -3.2 0M290.3 167.3a1.6 1.6 0 1 0 3.2 0a1.6 1.6 0 1 0 -3.2 0M297.6 167.5a1.6 1.6 0 1 0 3.2 0a1.6 1.6 0 1 0 -3.2 0M291.8 174.4a1.6 1.6 0 1 0 3.2 0a1.6 1.6 0 1 0 -3.2 0M293.3 170.2a1.6 1.6 0 1 0 3.2 0a1.6 1.6 0 1 0 -3.2 0M297.5 170.3a1.6 1.6 0 1 0 3.2 0a1.6 1.6 0 1 0 -3.2 0M296.5 174.4a1.6 1.6 0 1 0 3.2 0a1.6 1.6 0 1 0 -3.2 0M295.0 166.1a1.6 1.6 0 1 0 3.2 0a1.6 1.6 0 1 0 -3.2 0M299.9 168.6a1.6 1.6 0 1 0 3.2 0a1.6 1.6 0 1 0 -3.2 0M307.3 172.6a1.6 1.6 0 1 0 3.2 0a1.6 1.6 0 1 0 -3.2 0M301.8 172.8a1.6 1.6 0 1 0 3.2 0a1.6 1.6 0 1 0 -3.2 0M302.4 166.2a1.6 1.6 0 1 0 3.2 0a1.6 1.6 0 1 0 -3.2 0M303.9 171.2a1.6 1.6 0 1 0 3.2 0a1.6 1.6 0 1 0 -3.2 0M303.0 168.7a1.6 1.6 0 1 0 3.2 0a1.6 1.6 0 1 0 -3.2 0M299.4 172.3a1.6 1.6 0 1 0 3.2 0a1.6 1.6 0 1 0 -3.2 0M306.5 168.9a1.6 1.6 0 1 0 3.2 0a1.6 1.6 0 1 0 -3.2 0M304.0 173.9a1.6 1.6 0 1 0 3.2 0a1.6 1.6 0 1 0 -3.2 0M300.0 166.1a1.6 1.6 0 1 0 3.2 0a1.6 1.6 0 1 0 -3.2 0M313.7 168.1a1.6 1.6 0 1 0 3.2 0a1.6 1.6 0 1 0 -3.2 0M317.7 172.1a1.6 1.6 0 1 0 3.2 0a1.6 1.6 0 1 0 -3.2 0M309.8 173.3a1.6 1.6 0 1 0 3.2 0a1.6 1.6 0 1 0 -3.2 0M313.9 174.4a1.6 1.6 0 1 0 3.2 0a1.6 1.6 0 1 0 -3.2 0M309.0 170.7a1.6 1.6 0 1 0 3.2 0a1.6 1.6 0 1 0 -3.2 0M316.8 168.3a1.6 1.6 0 1 0 3.2 0a1.6 1.6 0 1 0 -3.2 0M315.7 166.2a1.6 1.6 0 1 0 3.2 0a1.6 1.6 0 1 0 -3.2 0M312.4 172.1a1.6 1.6 0 1 0 3.2 0a1.6 1.6 0 1 0 -3.2 0M316.5 174.3a1.6 1.6 0 1 0 3.2 0a1.6 1.6 0 1 0 -3.2 0M261.5 176.8a1.6 1.6 0 1 0 3.2 0a1.6 1.6 0 1 0 -3.2 0M263.5 182.2a1.6 1.6 0 1 0 3.2 0a1.6 1.6 0 1 0 -3.2 0M260.0 178.9a1.6 1.6 0 1 0 3.2 0a1.6 1.6 0 1 0 -3.2 0M263.7 178.2a1.6 1.6 0 1 0 3.2 0a1.6 1.6 0 1 0 -3.2 0M267.1 183.6a1.6 1.6 0 1 0 3.2 0a1.6 1.6 0 1 0 -3.2 0M265.4 180.1a1.6 1.6 0 1 0 3.2 0a1.6 1.6 0 1 0 -3.2 0M264.1 184.4a1.6 1.6 0 1 0 3.2 0a1.6 1.6 0 1 0 -3.2 0M262.5 180.1a1.6 1.6 0 1 0 3.2 0a1.6 1.6 0 1 0 -3.2 0M261.8 180.7a1.6 1.6 0 1 0 3.2 0a1.6 1.6 0 1 0 -3.2 0M277.3 179.3a1.6 1.6 0 1 0 3.2 0a1.6 1.6 0 1 0 -3.2 0M270.9 179.8a1.6 1.6 0 1 0 3.2 0a1.6 1.6 0 1 0 -3.2 0M272.7 177.3a1.6 1.6 0 1 0 3.2 0a1.6 1.6 0 1 0 -3.2 0M269.1 181.0a1.6 1.6 0 1 0 3.2 0a1.6 1.6 0 1 0 -3.2 0M269.6 176.0a1.6 1.6 0 1 0 3.2 0a1.6 1.6 0 1 0 -3.2 0M277.4 184.5a1.6 1.6 0 1 0 3.2 0a1.6 1.6 0 1 0 -3.2 0M273.7 182.9a1.6 1.6 0 1 0 3.2 0a1.6 1.6 0 1 0 -3.2 0M277.8 177.0a1.6 1.6 0 1 0 3.2 0a1.6 1.6 0 1 0 -3.2 0M275.3 175.9a1.6 1.6 0 1 0 3.2 0a1.6 1.6 0 1 0 -3.2 0M274.0 184.0a1.6 1.6 0 1 0 3.2 0a1.6 1.6 0 1 0 -3.2 0M281.0 179.2a1.6 1.6 0 1 0 3.2 0a1.6 1.6 0 1 0 -3.2 0M279.9 175.6a1.6 1.6 0 1 0 3.2 0a1.6 1.6 0 1 0 -3.2 0M283.1 180.5a1.6 1.6 0 1 0 3.2 0a1.6 1.6 0 1 0 -3.2 0M280.3 183.9a1.6 1.6 0 1 0 3.2 0a1.6 1.6 0 1 0 -3.2 0M286.0 180.4a1.6 1.6 0 1 0 3.2 0a1.6 1.6 0 1 0 -3.2 0M282.6 184.3a1.6 1.6 0 1 0 3.2 0a1.6 1.6 0 1 0 -3.2 0M280.9 181.5a1.6 1.6 0 1 0 3.2 0a1.6 1.6 0 1 0 -3.2 0M286.7 176.7a1.6 1.6 0 1 0 3.2 0a1.6 1.6 0 1 0 -3.2 0M282.5 175.8a1.6 1.6 0 1 0 3.2 0a1.6 1.6 0 1 0 -3.2 0M283.0 176.8a1.6 1.6 0 1 0 3.2 0a1.6 1.6 0 1 0 -3.2 0M297.0 177.1a1.6 1.6 0 1 0 3.2 0a1.6 1.6 0 1 0 -3.2 0M293.3 182.1a1.6 1.6 0 1 0 3.2 0a1.6 1.6 0 1 0 -3.2 0M294.3 176.1a1.6 1.6 0 1 0 3.2 0a1.6 1.6 0 1 0 -3.2 0M289.3 177.2a1.6 1.6 0 1 0 3.2 0a1.6 1.6 0 1 0 -3.2 0M297.4 183.6a1.6 1.6 0 1 0 3.2 0a1.6 1.6 0 1 0 -3.2 0M292.9 184.4a1.6 1.6 0 1 0 3.2 0a1.6 1.6 0 1 0 -3.2 0M295.7 179.3a1.6 1.6 0 1 0 3.2 0a1.6 1.6 0 1 0 -3.2 0M291.7 177.0a1.6 1.6 0 1 0 3.2 0a1.6 1.6 0 1 0 -3.2 0M289.9 183.9a1.6 1.6 0 1 0 3.2 0a1.6 1.6 0 1 0 -3.2 0M289.2 181.8a1.6 1.6 0 1 0 3.2 0a1.6 1.6 0 1 0 -3.2 0M301.7 178.6a1.6 1.6 0 1 0 3.2 0a1.6 1.6 0 1 0 -3.2 0M306.7 180.6a1.6 1.6 0 1 0 3.2 0a1.6 1.6 0 1 0 -3.2 0M300.0 181.8a1.6 1.6 0 1 0 3.2 0a1.6 1.6 0 1 0 -3.2 0M299.4 177.8a1.6 1.6 0 1 0 3.2 0a1.6 1.6 0 1 0 -3.2 0M306.7 176.2a1.6 1.6 0 1 0 3.2 0a1.6 1.6 0 1 0 -3.2 0M306.1 184.0a1.6 1.6 0 1 0 3.2 0a1.6 1.6 0 1 0 -3.2 0M302.3 182.8a1.6 1.6 0 1 0 3.2 0a1.6 1.6 0 1 0 -3.2 0M304.3 178.0a1.6 1.6 0 1 0 3.2 0a1.6 1.6 0 1 0 -3.2 0M307.5 178.4a1.6 1.6 0 1 0 3.2 0a1.6 1.6 0 1 0 -3.2 0M314.2 182.6a1.6 1.6 0 1 0 3.2 0a1.6 1.6 0 1 0 -3.2 0M315.3 179.8a1.6 1.6 0 1 0 3.2 0a1.6 1.6 0 1 0 -3.2 0M310.3 177.5a1.6 1.6 0 1 0 3.2 0a1.6 1.6 0 1 0 -3.2 0M317.6 180.8a1.6 1.6 0 1 0 3.2 0a1.6 1.6 0 1 0 -3.2 0M317.8 183.6a1.6 1.6 0 1 0 3.2 0a1.6 1.6 0 1 0 -3.2 0M317.6 178.4a1.6 1.6 0 1 0 3.2 0a1.6 1.6 0 1 0 -3.2 0M309.2 181.4a1.6 1.6 0 1 0 3.2 0a1.6 1.6 0 1 0 -3.2 0M314.3 177.4a1.6 1.6 0 1 0 3.2 0a1.6 1.6 0 1 0 -3.2 0M310.2 179.6a1.6 1.6 0 1 0 3.2 0a1.6 1.6 0 1 0 -3.2 0M267.8 192.3a1.6 1.6 0 1 0 3.2 0a1.6 1.6 0 1 0 -3.2 0M266.9 188.2a1.6 1.6 0 1 0 3.2 0a1.6 1.6 0 1 0 -3.2 0M260.3 186.3a1.6 1.6 0 1 0 3.2 0a1.6 1.6 0 1 0 -3.2 0M262.1 192.1a1.6 1.6 0 1 0 3.2 0a1.6 1.6 0 1 0 -3.2 0M264.5 190.8a1.6 1.6 0 1 0 3.2 0a1.6 1.6 0 1 0 -3.2 0M265.4 194.3a1.6 1.6 0 1 0 3.2 0a1.6 1.6 0 1 0 -3.2 0M261.9 194.4a1.6 1.6 0 1 0 3.2 0a1.6 1.6 0 1 0 -3.2 0M261.2 189.8a1.6 1.6 0 1 0 3.2 0a1.6 1.6 0 1 0 -3.2 0M265.2 186.6a1.6 1.6 0 1 0 3.2 0a1.6 1.6 0 1 0 -3.2 0M277.5 188.4a1.6 1.6 0 1 0 3.2 0a1.6 1.6 0 1 0 -3.2 0M270.0 189.6a1.6 1.6 0 1 0 3.2 0a1.6 1.6 0 1 0 -3.2 0M273.6 190.7a1.6 1.6 0 1 0 3.2 0a1.6 1.6 0 1 0 -3.2 0M275.2 186.9a1.6 1.6 0 1 0 3.2 0a1.6 1.6 0 1 0 -3.2 0M276.7 192.9a1.6 1.6 0 1 0 3.2 0a1.6 1.6 0 1 0 -3.2 0M274.9 194.5a1.6 1.6 0 1 0 3.2 0a1.6 1.6 0 1 0 -3.2 0M270.0 193.1a1.6 1.6 0 1 0 3.2 0a1.6 1.6 0 1 0 -3.2 0M272.2 194.3a1.6 1.6 0 1 0 3.2 0a1.6 1.6 0 1 0 -3.2 0M270.5 187.7a1.6 1.6 0 1 0 3.2 0a1.6 1.6 0 1 0 -3.2 0M287.5 187.5a1.6 1.6 0 1 0 3.2 0a1.6 1.6 0 1 0 -3.2 0M285.1 193.8a1.6 1.6 0 1 0 3.2 0a1.6 1.6 0 1 0 -3.2 0M284.4 188.2a1.6 1.6 0 1 0 3.2 0a1.6 1.6 0 1 0 -3.2 0M280.8 193.3a1.6 1.6 0 1 0 3.2 0a1.6 1.6 0 1 0 -3.2 0M279.9 191.2a1.6 1.6 0 1 0 3.2 0a1.6 1.6 0 1 0 -3.2 0M285.9 185.6a1.6 1.6 0 1 0 3.2 0a1.6 1.6 0 1 0 -3.2 0M282.8 192.1a1.6 1.6 0 1 0 3.2 0a1.6 1.6 0 1 0 -3.2 0M281.6 186.7a1.6 1.6 0 1 0 3.2 0a1.6 1.6 0 1 0 -3.2 0M278.9 186.5a1.6 1.6 0 1 0 3.2 0a1.6 1.6 0 1 0 -3.2 0M295.2 194.3a1.6 1.6 0 1 0 3.2 0a1.6 1.6 0 1 0 -3.2 0M295.6 187.6a1.6 1.6 0 1 0 3.2 0a1.6 1.6 0 1 0 -3.2 0M292.0 189.4a1.6 1.6 0 1 0 3.2 0a1.6 1.6 0 1 0 -3.2 0M297.7 188.9a1.6 1.6 0 1 0 3.2 0a1.6 1.6 0 1 0 -3.2 0M297.8 192.0a1.6 1.6 0 1 0 3.2 0a1.6 1.6 0 1 0 -3.2 0M290.1 193.8a1.6 1.6 0 1 0 3.2 0a1.6 1.6 0 1 0 -3.2 0M290.6 191.4a1.6 1.6 0 1 0 3.2 0a1.6 1.6 0 1 0 -3.2 0M294.8 190.9a1.6 1.6 0 1 0 3.2 0a1.6 1.6 0 1 0 -3.2 0M292.7 187.1a1.6 1.6 0 1 0 3.2 0a1.6 1.6 0 1 0 -3.2 0M302.5 188.8a1.6 1.6 0 1 0 3.2 0a1.6 1.6 0 1 0 -3.2 0M307.2 186.2a1.6 1.6 0 1 0 3.2 0a1.6 1.6 0 1 0 -3.2 0M301.8 186.0a1.6 1.6 0 1 0 3.2 0a1.6 1.6 0 1 0 -3.2 0M306.9 193.0a1.6 1.6 0 1 0 3.2 0a1.6 1.6 0 1 0 -3.2 0M299.4 186.8a1.6 1.6 0 1 0 3.2 0a1.6 1.6 0 1 0 -3.2 0M300.0 189.9a1.6 1.6 0 1 0 3.2 0a1.6 1.6 0 1 0 -3.2 0M305.2 187.3a1.6 1.6 0 1 0 3.2 0a1.6 1.6 0 1 0 -3.2 0M301.6 194.1a1.6 1.6 0 1 0 3.2 0a1.6 1.6 0 1 0 -3.2 0M306.4 187.0a1.6 1.6 0 1 0 3.2 0a1.6 1.6 0 1 0 -3.2 0M310.6 188.8a1.6 1.6 0 1 0 3.2 0a1.6 1.6 0 1 0 -3.2 0M312.8 191.2a1.6 1.6 0 1 0 3.2 0a1.6 1.6 0 1 0 -3.2 0M316.0 194.2a1.6 1.6 0 1 0 3.2 0a1.6 1.6 0 1 0 -3.2 0M314.5 189.3a1.6 1.6 0 1 0 3.2 0a1.6 1.6 0 1 0 -3.2 0M316.9 189.9a1.6 1.6 0 1 0 3.2 0a1.6 1.6 0 1 0 -3.2 0M310.3 193.2a1.6 1.6 0 1 0 3.2 0a1.6 1.6 0 1 0 -3.2 0M314.1 185.9a1.6 1.6 0 1 0 3.2 0a1.6 1.6 0 1 0 -3.2 0M259.7 198.3a1.6 1.6 0 1 0 3.2 0a1.6 1.6 0 1 0 -3.2 0M265.7 201.7a1.6 1.6 0 1 0 3.2 0a1.6 1.6 0 1 0 -3.2 0M259.1 203.2a1.6 1.6 0 1 0 3.2 0a1.6 1.6 0 1 0 -3.2 0M261.6 200.0a1.6 1.6 0 1 0 3.2 0a1.6 1.6 0 1 0 -3.2 0M262.5 204.0a1.6 1.6 0 1 0 3.2 0a1.6 1.6 0 1 0 -3.2 0M263.1 196.7a1.6 1.6 0 1 0 3.2 0a1.6 1.6 0 1 0 -3.2 0M267.9 197.4a1.6 1.6 0 1 0 3.2 0a1.6 1.6 0 1 0 -3.2 0M266.2 203.9a1.6 1.6 0 1 0 3.2 0a1.6 1.6 0 1 0 -3.2 0M261.4 195.7a1.6 1.6 0 1 0 3.2 0a1.6 1.6 0 1 0 -3.2 0M270.8 199.2a1.6 1.6 0 1 0 3.2 0a1.6 1.6 0 1 0 -3.2 0M277.4 200.9a1.6 1.6 0 1 0 3.2 0a1.6 1.6 0 1 0 -3.2 0M273.8 201.8a1.6 1.6 0 1 0 3.2 0a1.6 1.6 0 1 0 -3.2 0M269.4 204.4a1.6 1.6 0 1 0 3.2 0a1.6 1.6 0 1 0 -3.2 0M269.6 201.3a1.6 1.6 0 1 0 3.2 0a1.6 1.6 0 1 0 -3.2 0M275.9 198.1a1.6 1.6 0 1 0 3.2 0a1.6 1.6 0 1 0 -3.2 0M277.2 196.3a1.6 1.6 0 1 0 3.2 0a1.6 1.6 0 1 0 -3.2 0M273.6 197.6a1.6 1.6 0 1 0 3.2 0a1.6 1.6 0 1 0 -3.2 0M275.8 202.9a1.6 1.6 0 1 0 3.2 0a1.6 1.6 0 1 0 -3.2 0M280.1 202.5a1.6 1.6 0 1 0 3.2 0a1.6 1.6 0 1 0 -3.2 0M283.2 200.2a1.6 1.6 0 1 0 3.2 0a1.6 1.6 0 1 0 -3.2 0M286.5 198.1a1.6 1.6 0 1 0 3.2 0a1.6 1.6 0 1 0 -3.2 0M279.2 198.0a1.6 1.6 0 1 0 3.2 0a1.6 1.6 0 1 0 -3.2 0M285.9 202.2a1.6 1.6 0 1 0 3.2 0a1.6 1.6 0 1 0 -3.2 0M287.8 196.0a1.6 1.6 0 1 0 3.2 0a1.6 1.6 0 1 0 -3.2 0M283.1 203.0a1.6 1.6 0 1 0 3.2 0a1.6 1.6 0 1 0 -3.2 0M281.3 196.3a1.6 1.6 0 1 0 3.2 0a1.6 1.6 0 1 0 -3.2 0M283.6 199.9a1.6 1.6 0 1 0 3.2 0a1.6 1.6 0 1 0 -3.2 0M294.0 200.9a1.6 1.6 0 1 0 3.2 0a1.6 1.6 0 1 0 -3.2 0M291.3 196.2a1.6 1.6 0 1 0 3.2 0a1.6 1.6 0 1 0 -3.2 0M294.0 196.9a1.6 1.6 0 1 0 3.2 0a1.6 1.6 0 1 0 -3.2 0M288.9 204.2a1.6 1.6 0 1 0 3.2 0a1.6 1.6 0 1 0 -3.2 0M295.5 203.9a1.6 1.6 0 1 0 3.2 0a1.6 1.6 0 1 0 -3.2 0M291.8 202.4a1.6 1.6 0 1 0 3.2 0a1.6 1.6 0 1 0 -3.2 0M296.6 201.2a1.6 1.6 0 1 0 3.2 0a1.6 1.6 0 1 0 -3.2 0M296.5 197.5a1.6 1.6 0 1 0 3.2 0a1.6 1.6 0 1 0 -3.2 0M289.4 201.3a1.6 1.6 0 1 0 3.2 0a1.6 1.6 0 1 0 -3.2 0M265.1 207.1a1.6 1.6 0 1 0 3.2 0a1.6 1.6 0 1 0 -3.2 0M260.1 207.3a1.6 1.6 0 1 0 3.2 0a1.6 1.6 0 1 0 -3.2 0M265.7 213.3a1.6 1.6 0 1 0 3.2 0a1.6 1.6 0 1 0 -3.2 0M267.9 206.4a1.6 1.6 0 1 0 3.2 0a1.6 1.6 0 1 0 -3.2 0M267.4 208.8a1.6 1.6 0 1 0 3.2 0a1.6 1.6 0 1 0 -3.2 0M262.5 207.4a1.6 1.6 0 1 0 3.2 0a1.6 1.6 0 1 0 -3.2 0M263.3 209.8a1.6 1.6 0 1 0 3.2 0a1.6 1.6 0 1 0 -3.2 0M267.5 210.5a1.6 1.6 0 1 0 3.2 0a1.6 1.6 0 1 0 -3.2 0M259.3 211.5a1.6 1.6 0 1 0 3.2 0a1.6 1.6 0 1 0 -3.2 0M270.5 209.1a1.6 1.6 0 1 0 3.2 0a1.6 1.6 0 1 0 -3.2 0M271.1 211.6a1.6 1.6 0 1 0 3.2 0a1.6 1.6 0 1 0 -3.2 0M277.4 208.8a1.6 1.6 0 1 0 3.2 0a1.6 1.6 0 1 0 -3.2 0M273.4 211.2a1.6 1.6 0 1 0 3.2 0a1.6 1.6 0 1 0 -3.2 0M277.0 213.2a1.6 1.6 0 1 0 3.2 0a1.6 1.6 0 1 0 -3.2 0M275.1 207.0a1.6 1.6 0 1 0 3.2 0a1.6 1.6 0 1 0 -3.2 0M272.3 213.9a1.6 1.6 0 1 0 3.2 0a1.6 1.6 0 1 0 -3.2 0M271.7 206.6a1.6 1.6 0 1 0 3.2 0a1.6 1.6 0 1 0 -3.2 0M269.0 214.1a1.6 1.6 0 1 0 3.2 0a1.6 1.6 0 1 0 -3.2 0M286.3 210.6a1.6 1.6 0 1 0 3.2 0a1.6 1.6 0 1 0 -3.2 0M281.0 208.9a1.6 1.6 0 1 0 3.2 0a1.6 1.6 0 1 0 -3.2 0M280.8 205.8a1.6 1.6 0 1 0 3.2 0a1.6 1.6 0 1 0 -3.2 0M283.6 209.8a1.6 1.6 0 1 0 3.2 0a1.6 1.6 0 1 0 -3.2 0M283.4 206.5a1.6 1.6 0 1 0 3.2 0a1.6 1.6 0 1 0 -3.2 0M287.8 214.0a1.6 1.6 0 1 0 3.2 0a1.6 1.6 0 1 0 -3.2 0M281.0 211.1a1.6 1.6 0 1 0 3.2 0a1.6 1.6 0 1 0 -3.2 0M285.0 214.3a1.6 1.6 0 1 0 3.2 0a1.6 1.6 0 1 0 -3.2 0M280.9 207.8a1.6 1.6 0 1 0 3.2 0a1.6 1.6 0 1 0 -3.2 0M286.3 206.5a1.6 1.6 0 1 0 3.2 0a1.6 1.6 0 1 0 -3.2 0M291.4 214.0a1.6 1.6 0 1 0 3.2 0a1.6 1.6 0 1 0 -3.2 0M293.0 206.6a1.6 1.6 0 1 0 3.2 0a1.6 1.6 0 1 0 -3.2 0M295.6 207.0a1.6 1.6 0 1 0 3.2 0a1.6 1.6 0 1 0 -3.2 0M295.6 212.5a1.6 1.6 0 1 0 3.2 0a1.6 1.6 0 1 0 -3.2 0M297.2 210.2a1.6 1.6 0 1 0 3.2 0a1.6 1.6 0 1 0 -3.2 0M290.6 207.0a1.6 1.6 0 1 0 3.2 0a1.6 1.6 0 1 0 -3.2 0M293.3 209.7a1.6 1.6 0 1 0 3.2 0a1.6 1.6 0 1 0 -3.2 0M297.4 205.6a1.6 1.6 0 1 0 3.2 0a1.6 1.6 0 1 0 -3.2 0M297.3 214.0a1.6 1.6 0 1 0 3.2 0a1.6 1.6 0 1 0 -3.2 0M265.8 220.5a1.6 1.6 0 1 0 3.2 0a1.6 1.6 0 1 0 -3.2 0M259.1 219.6a1.6 1.6 0 1 0 3.2 0a1.6 1.6 0 1 0 -3.2 0M265.4 217.9a1.6 1.6 0 1 0 3.2 0a1.6 1.6 0 1 0 -3.2 0M267.5 224.1a1.6 1.6 0 1 0 3.2 0a1.6 1.6 0 1 0 -3.2 0M260.5 222.8a1.6 1.6 0 1 0 3.2 0a1.6 1.6 0 1 0 -3.2 0M263.2 220.6a1.6 1.6 0 1 0 3.2 0a1.6 1.6 0 1 0 -3.2 0M263.4 215.7a1.6 1.6 0 1 0 3.2 0a1.6 1.6 0 1 0 -3.2 0M267.0 215.6a1.6 1.6 0 1 0 3.2 0a1.6 1.6 0 1 0 -3.2 0M265.6 222.9a1.6 1.6 0 1 0 3.2 0a1.6 1.6 0 1 0 -3.2 0M270.8 220.2a1.6 1.6 0 1 0 3.2 0a1.6 1.6 0 1 0 -3.2 0M276.2 219.6a1.6 1.6 0 1 0 3.2 0a1.6 1.6 0 1 0 -3.2 0M276.5 216.4a1.6 1.6 0 1 0 3.2 0a1.6 1.6 0 1 0 -3.2 0M272.9 219.0a1.6 1.6 0 1 0 3.2 0a1.6 1.6 0 1 0 -3.2 0M275.8 222.1a1.6 1.6 0 1 0 3.2 0a1.6 1.6 0 1 0 -3.2 0M269.7 224.4a1.6 1.6 0 1 0 3.2 0a1.6 1.6 0 1 0 -3.2 0M273.5 216.6a1.6 1.6 0 1 0 3.2 0a1.6 1.6 0 1 0 -3.2 0M277.4 224.2a1.6 1.6 0 1 0 3.2 0a1.6 1.6 0 1 0 -3.2 0M275.7 223.7a1.6 1.6 0 1 0 3.2 0a1.6 1.6 0 1 0 -3.2 0M286.5 222.8a1.6 1.6 0 1 0 3.2 0a1.6 1.6 0 1 0 -3.2 0M278.9 220.3a1.6 1.6 0 1 0 3.2 0a1.6 1.6 0 1 0 -3.2 0M287.8 216.9a1.6 1.6 0 1 0 3.2 0a1.6 1.6 0 1 0 -3.2 0M282.3 223.9a1.6 1.6 0 1 0 3.2 0a1.6 1.6 0 1 0 -3.2 0M282.3 219.4a1.6 1.6 0 1 0 3.2 0a1.6 1.6 0 1 0 -3.2 0M282.2 216.4a1.6 1.6 0 1 0 3.2 0a1.6 1.6 0 1 0 -3.2 0M283.9 221.5a1.6 1.6 0 1 0 3.2 0a1.6 1.6 0 1 0 -3.2 0M286.5 220.5a1.6 1.6 0 1 0 3.2 0a1.6 1.6 0 1 0 -3.2 0M280.6 221.8a1.6 1.6 0 1 0 3.2 0a1.6 1.6 0 1 0 -3.2 0M294.0 220.0a1.6 1.6 0 1 0 3.2 0a1.6 1.6 0 1 0 -3.2 0M291.3 220.3a1.6 1.6 0 1 0 3.2 0a1.6 1.6 0 1 0 -3.2 0M297.5 217.0a1.6 1.6 0 1 0 3.2 0a1.6 1.6 0 1 0 -3.2 0M295.1 222.5a1.6 1.6 0 1 0 3.2 0a1.6 1.6 0 1 0 -3.2 0M292.1 222.5a1.6 1.6 0 1 0 3.2 0a1.6 1.6 0 1 0 -3.2 0M290.7 217.0a1.6 1.6 0 1 0 3.2 0a1.6 1.6 0 1 0 -3.2 0M297.5 223.4a1.6 1.6 0 1 0 3.2 0a1.6 1.6 0 1 0 -3.2 0M289.0 220.1a1.6 1.6 0 1 0 3.2 0a1.6 1.6 0 1 0 -3.2 0M293.6 224.5a1.6 1.6 0 1 0 3.2 0a1.6 1.6 0 1 0 -3.2 0M324.2 168.5a1.6 1.6 0 1 0 3.2 0a1.6 1.6 0 1 0 -3.2 0M325.4 166.1a1.6 1.6 0 1 0 3.2 0a1.6 1.6 0 1 0 -3.2 0M320.5 168.0a1.6 1.6 0 1 0 3.2 0a1.6 1.6 0 1 0 -3.2 0M322.5 166.7a1.6 1.6 0 1 0 3.2 0a1.6 1.6 0 1 0 -3.2 0M337.1 174.0a1.6 1.6 0 1 0 3.2 0a1.6 1.6 0 1 0 -3.2 0M334.7 169.2a1.6 1.6 0 1 0 3.2 0a1.6 1.6 0 1 0 -3.2 0M330.4 171.4a1.6 1.6 0 1 0 3.2 0a1.6 1.6 0 1 0 -3.2 0M342.9 171.7a1.6 1.6 0 1 0 3.2 0a1.6 1.6 0 1 0 -3.2 0M342.8 167.4a1.6 1.6 0 1 0 3.2 0a1.6 1.6 0 1 0 -3.2 0M356.6 166.8a1.6 1.6 0 1 0 3.2 0a1.6 1.6 0 1 0 -3.2 0M351.3 170.3a1.6 1.6 0 1 0 3.2 0a1.6 1.6 0 1 0 -3.2 0M366.6 169.4a1.6 1.6 0 1 0 3.2 0a1.6 1.6 0 1 0 -3.2 0M370.3 172.8a1.6 1.6 0 1 0 3.2 0a1.6 1.6 0 1 0 -3.2 0M325.5 175.8a1.6 1.6 0 1 0 3.2 0a1.6 1.6 0 1 0 -3.2 0M321.6 181.5a1.6 1.6 0 1 0 3.2 0a1.6 1.6 0 1 0 -3.2 0M326.4 179.9a1.6 1.6 0 1 0 3.2 0a1.6 1.6 0 1 0 -3.2 0M331.5 177.3a1.6 1.6 0 1 0 3.2 0a1.6 1.6 0 1 0 -3.2 0M331.9 180.2a1.6 1.6 0 1 0 3.2 0a1.6 1.6 0 1 0 -3.2 0M335.6 184.0a1.6 1.6 0 1 0 3.2 0a1.6 1.6 0 1 0 -3.2 0M342.0 181.6a1.6 1.6 0 1 0 3.2 0a1.6 1.6 0 1 0 -3.2 0M347.4 180.3a1.6 1.6 0 1 0 3.2 0a1.6 1.6 0 1 0 -3.2 0M344.7 176.5a1.6 1.6 0 1 0 3.2 0a1.6 1.6 0 1 0 -3.2 0M352.3 182.1a1.6 1.6 0 1 0 3.2 0a1.6 1.6 0 1 0 -3.2 0M356.4 177.7a1.6 1.6 0 1 0 3.2 0a1.6 1.6 0 1 0 -3.2 0M359.8 178.4a1.6 1.6 0 1 0 3.2 0a1.6 1.6 0 1 0 -3.2 0M364.1 183.0a1.6 1.6 0 1 0 3.2 0a1.6 1.6 0 1 0 -3.2 0M319.5 190.2a1.6 1.6 0 1 0 3.2 0a1.6 1.6 0 1 0 -3.2 0M320.2 192.5a1.6 1.6 0 1 0 3.2 0a1.6 1.6 0 1 0 -3.2 0M325.0 187.6a1.6 1.6 0 1 0 3.2 0a1.6 1.6 0 1 0 -3.2 0M337.0 189.0a1.6 1.6 0 1 0 3.2 0a1.6 1.6 0 1 0 -3.2 0M330.8 192.5a1.6 1.6 0 1 0 3.2 0a1.6 1.6 0 1 0 -3.2 0M346.7 188.0a1.6 1.6 0 1 0 3.2 0a1.6 1.6 0 1 0 -3.2 0M344.2 188.3a1.6 1.6 0 1 0 3.2 0a1.6 1.6 0 1 0 -3.2 0M352.1 190.8a1.6 1.6 0 1 0 3.2 0a1.6 1.6 0 1 0 -3.2 0M356.1 189.9a1.6 1.6 0 1 0 3.2 0a1.6 1.6 0 1 0 -3.2 0M242.9 52.2a1.6 1.6 0 1 0 3.2 0a1.6 1.6 0 1 0 -3.2 0M242.5 58.3a1.6 1.6 0 1 0 3.2 0a1.6 1.6 0 1 0 -3.2 0M228.8 62.5a1.6 1.6 0 1 0 3.2 0a1.6 1.6 0 1 0 -3.2 0M197.6 225.9a1.6 1.6 0 1 0 3.2 0a1.6 1.6 0 1 0 -3.2 0M210.4 225.9a1.6 1.6 0 1 0 3.2 0a1.6 1.6 0 1 0 -3.2 0M220.5 225.9a1.6 1.6 0 1 0 3.2 0a1.6 1.6 0 1 0 -3.2 0M226.9 225.9a1.6 1.6 0 1 0 3.2 0a1.6 1.6 0 1 0 -3.2 0M215.0 228.7a1.6 1.6 0 1 0 3.2 0a1.6 1.6 0 1 0 -3.2 0M216.8 230.1a1.6 1.6 0 1 0 3.2 0a1.6 1.6 0 1 0 -3.2 0M225.0 230.9a1.6 1.6 0 1 0 3.2 0a1.6 1.6 0 1 0 -3.2 0M235.1 229.6a1.6 1.6 0 1 0 3.2 0a1.6 1.6 0 1 0 -3.2 0M203.1 232.3a1.6 1.6 0 1 0 3.2 0a1.6 1.6 0 1 0 -3.2 0M189.0 235.1a1.6 1.6 0 1 0 3.2 0a1.6 1.6 0 1 0 -3.2 0M192.7 244.8a1.6 1.6 0 1 0 3.2 0a1.6 1.6 0 1 0 -3.2 0M196.7 245.1a1.6 1.6 0 1 0 3.2 0a1.6 1.6 0 1 0 -3.2 0M200.4 245.5a1.6 1.6 0 1 0 3.2 0a1.6 1.6 0 1 0 -3.2 0M205.8 243.3a1.6 1.6 0 1 0 3.2 0a1.6 1.6 0 1 0 -3.2 0M210.4 245.5a1.6 1.6 0 1 0 3.2 0a1.6 1.6 0 1 0 -3.2 0M194.9 248.8a1.6 1.6 0 1 0 3.2 0a1.6 1.6 0 1 0 -3.2 0M208.6 248.8a1.6 1.6 0 1 0 3.2 0a1.6 1.6 0 1 0 -3.2 0M211.3 249.7a1.6 1.6 0 1 0 3.2 0a1.6 1.6 0 1 0 -3.2 0M201.8 252.4a1.6 1.6 0 1 0 3.2 0a1.6 1.6 0 1 0 -3.2 0M196.7 255.2a1.6 1.6 0 1 0 3.2 0a1.6 1.6 0 1 0 -3.2 0M199.4 256.1a1.6 1.6 0 1 0 3.2 0a1.6 1.6 0 1 0 -3.2 0M227.8 238.7a1.6 1.6 0 1 0 3.2 0a1.6 1.6 0 1 0 -3.2 0M232.4 240.5a1.6 1.6 0 1 0 3.2 0a1.6 1.6 0 1 0 -3.2 0M233.3 244.2a1.6 1.6 0 1 0 3.2 0a1.6 1.6 0 1 0 -3.2 0M231.4 245.1a1.6 1.6 0 1 0 3.2 0a1.6 1.6 0 1 0 -3.2 0M236.9 238.7a1.6 1.6 0 1 0 3.2 0a1.6 1.6 0 1 0 -3.2 0M234.2 258.5a1.6 1.6 0 1 0 3.2 0a1.6 1.6 0 1 0 -3.2 0M233.3 263.4a1.6 1.6 0 1 0 3.2 0a1.6 1.6 0 1 0 -3.2 0M234.2 270.7a1.6 1.6 0 1 0 3.2 0a1.6 1.6 0 1 0 -3.2 0M239.3 227.7a1.6 1.6 0 1 0 3.2 0a1.6 1.6 0 1 0 -3.2 0M244.8 232.3a1.6 1.6 0 1 0 3.2 0a1.6 1.6 0 1 0 -3.2 0M246.6 233.2a1.6 1.6 0 1 0 3.2 0a1.6 1.6 0 1 0 -3.2 0M257.6 226.8a1.6 1.6 0 1 0 3.2 0a1.6 1.6 0 1 0 -3.2 0M260.4 228.7a1.6 1.6 0 1 0 3.2 0a1.6 1.6 0 1 0 -3.2 0M265.8 225.9a1.6 1.6 0 1 0 3.2 0a1.6 1.6 0 1 0 -3.2 0M270.4 227.7a1.6 1.6 0 1 0 3.2 0a1.6 1.6 0 1 0 -3.2 0M275.0 225.9a1.6 1.6 0 1 0 3.2 0a1.6 1.6 0 1 0 -3.2 0M278.6 227.7a1.6 1.6 0 1 0 3.2 0a1.6 1.6 0 1 0 -3.2 0M282.3 226.8a1.6 1.6 0 1 0 3.2 0a1.6 1.6 0 1 0 -3.2 0M286.9 229.6a1.6 1.6 0 1 0 3.2 0a1.6 1.6 0 1 0 -3.2 0M289.6 231.4a1.6 1.6 0 1 0 3.2 0a1.6 1.6 0 1 0 -3.2 0M285.0 225.9a1.6 1.6 0 1 0 3.2 0a1.6 1.6 0 1 0 -3.2 0M293.3 227.7a1.6 1.6 0 1 0 3.2 0a1.6 1.6 0 1 0 -3.2 0M296.0 230.5a1.6 1.6 0 1 0 3.2 0a1.6 1.6 0 1 0 -3.2 0M256.7 233.2a1.6 1.6 0 1 0 3.2 0a1.6 1.6 0 1 0 -3.2 0M259.4 232.3a1.6 1.6 0 1 0 3.2 0a1.6 1.6 0 1 0 -3.2 0M262.2 233.2a1.6 1.6 0 1 0 3.2 0a1.6 1.6 0 1 0 -3.2 0M264.9 232.3a1.6 1.6 0 1 0 3.2 0a1.6 1.6 0 1 0 -3.2 0M258.5 236.0a1.6 1.6 0 1 0 3.2 0a1.6 1.6 0 1 0 -3.2 0M261.3 236.9a1.6 1.6 0 1 0 3.2 0a1.6 1.6 0 1 0 -3.2 0M264.0 236.0a1.6 1.6 0 1 0 3.2 0a1.6 1.6 0 1 0 -3.2 0M266.8 236.9a1.6 1.6 0 1 0 3.2 0a1.6 1.6 0 1 0 -3.2 0M256.7 238.7a1.6 1.6 0 1 0 3.2 0a1.6 1.6 0 1 0 -3.2 0M260.4 239.6a1.6 1.6 0 1 0 3.2 0a1.6 1.6 0 1 0 -3.2 0M263.1 239.6a1.6 1.6 0 1 0 3.2 0a1.6 1.6 0 1 0 -3.2 0M265.8 240.5a1.6 1.6 0 1 0 3.2 0a1.6 1.6 0 1 0 -3.2 0M259.4 242.4a1.6 1.6 0 1 0 3.2 0a1.6 1.6 0 1 0 -3.2 0M262.2 243.3a1.6 1.6 0 1 0 3.2 0a1.6 1.6 0 1 0 -3.2 0M272.2 232.3a1.6 1.6 0 1 0 3.2 0a1.6 1.6 0 1 0 -3.2 0M275.9 233.2a1.6 1.6 0 1 0 3.2 0a1.6 1.6 0 1 0 -3.2 0M282.3 235.1a1.6 1.6 0 1 0 3.2 0a1.6 1.6 0 1 0 -3.2 0M285.0 233.2a1.6 1.6 0 1 0 3.2 0a1.6 1.6 0 1 0 -3.2 0M287.8 231.4a1.6 1.6 0 1 0 3.2 0a1.6 1.6 0 1 0 -3.2 0M293.3 235.1a1.6 1.6 0 1 0 3.2 0a1.6 1.6 0 1 0 -3.2 0M273.2 238.7a1.6 1.6 0 1 0 3.2 0a1.6 1.6 0 1 0 -3.2 0M282.3 239.6a1.6 1.6 0 1 0 3.2 0a1.6 1.6 0 1 0 -3.2 0M271.3 242.4a1.6 1.6 0 1 0 3.2 0a1.6 1.6 0 1 0 -3.2 0M280.5 243.3a1.6 1.6 0 1 0 3.2 0a1.6 1.6 0 1 0 -3.2 0M284.1 243.3a1.6 1.6 0 1 0 3.2 0a1.6 1.6 0 1 0 -3.2 0M287.8 242.4a1.6 1.6 0 1 0 3.2 0a1.6 1.6 0 1 0 -3.2 0M291.4 244.2a1.6 1.6 0 1 0 3.2 0a1.6 1.6 0 1 0 -3.2 0M293.3 247.0a1.6 1.6 0 1 0 3.2 0a1.6 1.6 0 1 0 -3.2 0M290.5 249.7a1.6 1.6 0 1 0 3.2 0a1.6 1.6 0 1 0 -3.2 0M272.2 247.9a1.6 1.6 0 1 0 3.2 0a1.6 1.6 0 1 0 -3.2 0M275.0 249.7a1.6 1.6 0 1 0 3.2 0a1.6 1.6 0 1 0 -3.2 0M276.8 252.4a1.6 1.6 0 1 0 3.2 0a1.6 1.6 0 1 0 -3.2 0M281.4 252.4a1.6 1.6 0 1 0 3.2 0a1.6 1.6 0 1 0 -3.2 0M272.2 254.3a1.6 1.6 0 1 0 3.2 0a1.6 1.6 0 1 0 -3.2 0M250.3 248.8a1.6 1.6 0 1 0 3.2 0a1.6 1.6 0 1 0 -3.2 0M243.0 253.4a1.6 1.6 0 1 0 3.2 0a1.6 1.6 0 1 0 -3.2 0M246.6 253.4a1.6 1.6 0 1 0 3.2 0a1.6 1.6 0 1 0 -3.2 0M258.5 250.6a1.6 1.6 0 1 0 3.2 0a1.6 1.6 0 1 0 -3.2 0M239.3 259.8a1.6 1.6 0 1 0 3.2 0a1.6 1.6 0 1 0 -3.2 0M243.9 263.4a1.6 1.6 0 1 0 3.2 0a1.6 1.6 0 1 0 -3.2 0M270.4 258.8a1.6 1.6 0 1 0 3.2 0a1.6 1.6 0 1 0 -3.2 0M274.1 257.0a1.6 1.6 0 1 0 3.2 0a1.6 1.6 0 1 0 -3.2 0M276.8 256.1a1.6 1.6 0 1 0 3.2 0a1.6 1.6 0 1 0 -3.2 0M278.6 258.8a1.6 1.6 0 1 0 3.2 0a1.6 1.6 0 1 0 -3.2 0M272.2 262.5a1.6 1.6 0 1 0 3.2 0a1.6 1.6 0 1 0 -3.2 0M275.0 261.6a1.6 1.6 0 1 0 3.2 0a1.6 1.6 0 1 0 -3.2 0M277.7 262.5a1.6 1.6 0 1 0 3.2 0a1.6 1.6 0 1 0 -3.2 0M281.4 261.6a1.6 1.6 0 1 0 3.2 0a1.6 1.6 0 1 0 -3.2 0M270.4 265.2a1.6 1.6 0 1 0 3.2 0a1.6 1.6 0 1 0 -3.2 0M273.2 266.2a1.6 1.6 0 1 0 3.2 0a1.6 1.6 0 1 0 -3.2 0M275.9 265.2a1.6 1.6 0 1 0 3.2 0a1.6 1.6 0 1 0 -3.2 0M278.6 266.2a1.6 1.6 0 1 0 3.2 0a1.6 1.6 0 1 0 -3.2 0M282.3 264.3a1.6 1.6 0 1 0 3.2 0a1.6 1.6 0 1 0 -3.2 0M271.3 268.9a1.6 1.6 0 1 0 3.2 0a1.6 1.6 0 1 0 -3.2 0M274.1 269.8a1.6 1.6 0 1 0 3.2 0a1.6 1.6 0 1 0 -3.2 0M276.8 268.9a1.6 1.6 0 1 0 3.2 0a1.6 1.6 0 1 0 -3.2 0M279.6 270.7a1.6 1.6 0 1 0 3.2 0a1.6 1.6 0 1 0 -3.2 0M274.1 273.5a1.6 1.6 0 1 0 3.2 0a1.6 1.6 0 1 0 -3.2 0M276.8 274.4a1.6 1.6 0 1 0 3.2 0a1.6 1.6 0 1 0 -3.2 0M269.5 272.6a1.6 1.6 0 1 0 3.2 0a1.6 1.6 0 1 0 -3.2 0M290.5 259.8a1.6 1.6 0 1 0 3.2 0a1.6 1.6 0 1 0 -3.2 0M292.4 260.7a1.6 1.6 0 1 0 3.2 0a1.6 1.6 0 1 0 -3.2 0M253.0 264.3a1.6 1.6 0 1 0 3.2 0a1.6 1.6 0 1 0 -3.2 0M250.3 267.1a1.6 1.6 0 1 0 3.2 0a1.6 1.6 0 1 0 -3.2 0M253.9 268.9a1.6 1.6 0 1 0 3.2 0a1.6 1.6 0 1 0 -3.2 0M258.5 268.9a1.6 1.6 0 1 0 3.2 0a1.6 1.6 0 1 0 -3.2 0M260.4 271.6a1.6 1.6 0 1 0 3.2 0a1.6 1.6 0 1 0 -3.2 0M256.7 272.6a1.6 1.6 0 1 0 3.2 0a1.6 1.6 0 1 0 -3.2 0M265.8 269.8a1.6 1.6 0 1 0 3.2 0a1.6 1.6 0 1 0 -3.2 0M252.1 275.3a1.6 1.6 0 1 0 3.2 0a1.6 1.6 0 1 0 -3.2 0M255.8 276.2a1.6 1.6 0 1 0 3.2 0a1.6 1.6 0 1 0 -3.2 0M259.4 277.1a1.6 1.6 0 1 0 3.2 0a1.6 1.6 0 1 0 -3.2 0M264.0 276.2a1.6 1.6 0 1 0 3.2 0a1.6 1.6 0 1 0 -3.2 0M256.7 279.9a1.6 1.6 0 1 0 3.2 0a1.6 1.6 0 1 0 -3.2 0M264.9 279.9a1.6 1.6 0 1 0 3.2 0a1.6 1.6 0 1 0 -3.2 0M267.7 281.7a1.6 1.6 0 1 0 3.2 0a1.6 1.6 0 1 0 -3.2 0M300.2 195.9a1.6 1.6 0 1 0 3.2 0a1.6 1.6 0 1 0 -3.2 0M304.8 196.8a1.6 1.6 0 1 0 3.2 0a1.6 1.6 0 1 0 -3.2 0M308.5 195.9a1.6 1.6 0 1 0 3.2 0a1.6 1.6 0 1 0 -3.2 0M313.0 197.7a1.6 1.6 0 1 0 3.2 0a1.6 1.6 0 1 0 -3.2 0M325.8 196.5a1.6 1.6 0 1 0 3.2 0a1.6 1.6 0 1 0 -3.2 0M326.8 198.7a1.6 1.6 0 1 0 3.2 0a1.6 1.6 0 1 0 -3.2 0M335.0 197.7a1.6 1.6 0 1 0 3.2 0a1.6 1.6 0 1 0 -3.2 0M339.6 199.6a1.6 1.6 0 1 0 3.2 0a1.6 1.6 0 1 0 -3.2 0M348.7 199.6a1.6 1.6 0 1 0 3.2 0a1.6 1.6 0 1 0 -3.2 0M353.3 198.7a1.6 1.6 0 1 0 3.2 0a1.6 1.6 0 1 0 -3.2 0M301.1 200.5a1.6 1.6 0 1 0 3.2 0a1.6 1.6 0 1 0 -3.2 0M314.9 202.3a1.6 1.6 0 1 0 3.2 0a1.6 1.6 0 1 0 -3.2 0M324.0 203.2a1.6 1.6 0 1 0 3.2 0a1.6 1.6 0 1 0 -3.2 0M332.2 202.3a1.6 1.6 0 1 0 3.2 0a1.6 1.6 0 1 0 -3.2 0M336.8 201.4a1.6 1.6 0 1 0 3.2 0a1.6 1.6 0 1 0 -3.2 0M349.6 202.0a1.6 1.6 0 1 0 3.2 0a1.6 1.6 0 1 0 -3.2 0M353.3 202.3a1.6 1.6 0 1 0 3.2 0a1.6 1.6 0 1 0 -3.2 0M337.7 205.1a1.6 1.6 0 1 0 3.2 0a1.6 1.6 0 1 0 -3.2 0M341.4 206.0a1.6 1.6 0 1 0 3.2 0a1.6 1.6 0 1 0 -3.2 0M347.8 206.0a1.6 1.6 0 1 0 3.2 0a1.6 1.6 0 1 0 -3.2 0M299.3 207.8a1.6 1.6 0 1 0 3.2 0a1.6 1.6 0 1 0 -3.2 0M310.3 208.7a1.6 1.6 0 1 0 3.2 0a1.6 1.6 0 1 0 -3.2 0M309.4 212.4a1.6 1.6 0 1 0 3.2 0a1.6 1.6 0 1 0 -3.2 0M312.1 213.3a1.6 1.6 0 1 0 3.2 0a1.6 1.6 0 1 0 -3.2 0M317.6 210.5a1.6 1.6 0 1 0 3.2 0a1.6 1.6 0 1 0 -3.2 0M322.2 212.4a1.6 1.6 0 1 0 3.2 0a1.6 1.6 0 1 0 -3.2 0M303.9 211.5a1.6 1.6 0 1 0 3.2 0a1.6 1.6 0 1 0 -3.2 0M305.7 215.1a1.6 1.6 0 1 0 3.2 0a1.6 1.6 0 1 0 -3.2 0M332.2 213.3a1.6 1.6 0 1 0 3.2 0a1.6 1.6 0 1 0 -3.2 0M333.2 215.1a1.6 1.6 0 1 0 3.2 0a1.6 1.6 0 1 0 -3.2 0M335.9 216.6a1.6 1.6 0 1 0 3.2 0a1.6 1.6 0 1 0 -3.2 0M331.3 218.8a1.6 1.6 0 1 0 3.2 0a1.6 1.6 0 1 0 -3.2 0M338.6 218.8a1.6 1.6 0 1 0 3.2 0a1.6 1.6 0 1 0 -3.2 0M353.3 215.1a1.6 1.6 0 1 0 3.2 0a1.6 1.6 0 1 0 -3.2 0M301.1 220.6a1.6 1.6 0 1 0 3.2 0a1.6 1.6 0 1 0 -3.2 0M314.9 219.7a1.6 1.6 0 1 0 3.2 0a1.6 1.6 0 1 0 -3.2 0M323.1 218.8a1.6 1.6 0 1 0 3.2 0a1.6 1.6 0 1 0 -3.2 0M313.0 224.3a1.6 1.6 0 1 0 3.2 0a1.6 1.6 0 1 0 -3.2 0M315.8 225.2a1.6 1.6 0 1 0 3.2 0a1.6 1.6 0 1 0 -3.2 0M324.0 224.3a1.6 1.6 0 1 0 3.2 0a1.6 1.6 0 1 0 -3.2 0M342.3 222.4a1.6 1.6 0 1 0 3.2 0a1.6 1.6 0 1 0 -3.2 0M339.6 225.2a1.6 1.6 0 1 0 3.2 0a1.6 1.6 0 1 0 -3.2 0M335.0 224.3a1.6 1.6 0 1 0 3.2 0a1.6 1.6 0 1 0 -3.2 0M299.3 228.8a1.6 1.6 0 1 0 3.2 0a1.6 1.6 0 1 0 -3.2 0M308.5 227.6a1.6 1.6 0 1 0 3.2 0a1.6 1.6 0 1 0 -3.2 0M311.2 228.8a1.6 1.6 0 1 0 3.2 0a1.6 1.6 0 1 0 -3.2 0M314.9 227.9a1.6 1.6 0 1 0 3.2 0a1.6 1.6 0 1 0 -3.2 0M321.3 227.9a1.6 1.6 0 1 0 3.2 0a1.6 1.6 0 1 0 -3.2 0M337.7 228.8a1.6 1.6 0 1 0 3.2 0a1.6 1.6 0 1 0 -3.2 0M303.0 231.6a1.6 1.6 0 1 0 3.2 0a1.6 1.6 0 1 0 -3.2 0M313.9 232.5a1.6 1.6 0 1 0 3.2 0a1.6 1.6 0 1 0 -3.2 0M316.7 233.4a1.6 1.6 0 1 0 3.2 0a1.6 1.6 0 1 0 -3.2 0M304.8 234.3a1.6 1.6 0 1 0 3.2 0a1.6 1.6 0 1 0 -3.2 0M309.4 235.2a1.6 1.6 0 1 0 3.2 0a1.6 1.6 0 1 0 -3.2 0M313.0 236.2a1.6 1.6 0 1 0 3.2 0a1.6 1.6 0 1 0 -3.2 0M318.5 236.2a1.6 1.6 0 1 0 3.2 0a1.6 1.6 0 1 0 -3.2 0M309.4 238.9a1.6 1.6 0 1 0 3.2 0a1.6 1.6 0 1 0 -3.2 0M314.9 238.9a1.6 1.6 0 1 0 3.2 0a1.6 1.6 0 1 0 -3.2 0M324.0 238.0a1.6 1.6 0 1 0 3.2 0a1.6 1.6 0 1 0 -3.2 0M319.4 241.6a1.6 1.6 0 1 0 3.2 0a1.6 1.6 0 1 0 -3.2 0M322.2 243.5a1.6 1.6 0 1 0 3.2 0a1.6 1.6 0 1 0 -3.2 0M320.4 244.4a1.6 1.6 0 1 0 3.2 0a1.6 1.6 0 1 0 -3.2 0M324.9 245.3a1.6 1.6 0 1 0 3.2 0a1.6 1.6 0 1 0 -3.2 0M299.3 252.6a1.6 1.6 0 1 0 3.2 0a1.6 1.6 0 1 0 -3.2 0M301.1 253.5a1.6 1.6 0 1 0 3.2 0a1.6 1.6 0 1 0 -3.2 0" fill="#cac7c7" stroke="#fff" stroke-width="0.3"/>
<path d="M225.2 70.8a1.55 1.55 0 1 0 3.1 0a1.55 1.55 0 1 0 -3.1 0M255.9 66.7a1.55 1.55 0 1 0 3.1 0a1.55 1.55 0 1 0 -3.1 0M251.2 69.0a1.55 1.55 0 1 0 3.1 0a1.55 1.55 0 1 0 -3.1 0M199.7 79.5a1.55 1.55 0 1 0 3.1 0a1.55 1.55 0 1 0 -3.1 0M224.3 77.9a1.55 1.55 0 1 0 3.1 0a1.55 1.55 0 1 0 -3.1 0M219.0 79.3a1.55 1.55 0 1 0 3.1 0a1.55 1.55 0 1 0 -3.1 0M222.3 80.6a1.55 1.55 0 1 0 3.1 0a1.55 1.55 0 1 0 -3.1 0M200.8 87.0a1.55 1.55 0 1 0 3.1 0a1.55 1.55 0 1 0 -3.1 0M243.7 92.5a1.55 1.55 0 1 0 3.1 0a1.55 1.55 0 1 0 -3.1 0M241.9 87.5a1.55 1.55 0 1 0 3.1 0a1.55 1.55 0 1 0 -3.1 0M253.6 88.7a1.55 1.55 0 1 0 3.1 0a1.55 1.55 0 1 0 -3.1 0M207.5 98.8a1.55 1.55 0 1 0 3.1 0a1.55 1.55 0 1 0 -3.1 0M210.8 101.1a1.55 1.55 0 1 0 3.1 0a1.55 1.55 0 1 0 -3.1 0M242.9 103.3a1.55 1.55 0 1 0 3.1 0a1.55 1.55 0 1 0 -3.1 0M250.6 95.5a1.55 1.55 0 1 0 3.1 0a1.55 1.55 0 1 0 -3.1 0M256.1 97.1a1.55 1.55 0 1 0 3.1 0a1.55 1.55 0 1 0 -3.1 0M277.7 66.4a1.55 1.55 0 1 0 3.1 0a1.55 1.55 0 1 0 -3.1 0M302.8 73.7a1.55 1.55 0 1 0 3.1 0a1.55 1.55 0 1 0 -3.1 0M311.3 66.8a1.55 1.55 0 1 0 3.1 0a1.55 1.55 0 1 0 -3.1 0M262.6 88.6a1.55 1.55 0 1 0 3.1 0a1.55 1.55 0 1 0 -3.1 0M273.7 92.3a1.55 1.55 0 1 0 3.1 0a1.55 1.55 0 1 0 -3.1 0M285.6 92.8a1.55 1.55 0 1 0 3.1 0a1.55 1.55 0 1 0 -3.1 0M296.5 92.7a1.55 1.55 0 1 0 3.1 0a1.55 1.55 0 1 0 -3.1 0M305.1 91.7a1.55 1.55 0 1 0 3.1 0a1.55 1.55 0 1 0 -3.1 0M265.6 104.3a1.55 1.55 0 1 0 3.1 0a1.55 1.55 0 1 0 -3.1 0M271.2 102.2a1.55 1.55 0 1 0 3.1 0a1.55 1.55 0 1 0 -3.1 0M269.1 96.0a1.55 1.55 0 1 0 3.1 0a1.55 1.55 0 1 0 -3.1 0M283.6 99.7a1.55 1.55 0 1 0 3.1 0a1.55 1.55 0 1 0 -3.1 0M321.4 85.9a1.55 1.55 0 1 0 3.1 0a1.55 1.55 0 1 0 -3.1 0M319.9 93.0a1.55 1.55 0 1 0 3.1 0a1.55 1.55 0 1 0 -3.1 0M331.3 90.1a1.55 1.55 0 1 0 3.1 0a1.55 1.55 0 1 0 -3.1 0M337.6 93.5a1.55 1.55 0 1 0 3.1 0a1.55 1.55 0 1 0 -3.1 0M341.5 95.9a1.55 1.55 0 1 0 3.1 0a1.55 1.55 0 1 0 -3.1 0M187.1 110.0a1.55 1.55 0 1 0 3.1 0a1.55 1.55 0 1 0 -3.1 0M180.9 113.7a1.55 1.55 0 1 0 3.1 0a1.55 1.55 0 1 0 -3.1 0M183.0 124.1a1.55 1.55 0 1 0 3.1 0a1.55 1.55 0 1 0 -3.1 0M186.6 123.4a1.55 1.55 0 1 0 3.1 0a1.55 1.55 0 1 0 -3.1 0M179.1 115.8a1.55 1.55 0 1 0 3.1 0a1.55 1.55 0 1 0 -3.1 0M160.1 144.0a1.55 1.55 0 1 0 3.1 0a1.55 1.55 0 1 0 -3.1 0M167.7 139.8a1.55 1.55 0 1 0 3.1 0a1.55 1.55 0 1 0 -3.1 0M174.0 142.3a1.55 1.55 0 1 0 3.1 0a1.55 1.55 0 1 0 -3.1 0M169.3 143.0a1.55 1.55 0 1 0 3.1 0a1.55 1.55 0 1 0 -3.1 0M166.3 152.9a1.55 1.55 0 1 0 3.1 0a1.55 1.55 0 1 0 -3.1 0M167.0 146.1a1.55 1.55 0 1 0 3.1 0a1.55 1.55 0 1 0 -3.1 0M160.8 146.5a1.55 1.55 0 1 0 3.1 0a1.55 1.55 0 1 0 -3.1 0M164.2 156.6a1.55 1.55 0 1 0 3.1 0a1.55 1.55 0 1 0 -3.1 0M186.1 161.7a1.55 1.55 0 1 0 3.1 0a1.55 1.55 0 1 0 -3.1 0M194.4 159.1a1.55 1.55 0 1 0 3.1 0a1.55 1.55 0 1 0 -3.1 0M195.6 163.7a1.55 1.55 0 1 0 3.1 0a1.55 1.55 0 1 0 -3.1 0M214.7 113.0a1.55 1.55 0 1 0 3.1 0a1.55 1.55 0 1 0 -3.1 0M232.1 113.2a1.55 1.55 0 1 0 3.1 0a1.55 1.55 0 1 0 -3.1 0M241.7 105.6a1.55 1.55 0 1 0 3.1 0a1.55 1.55 0 1 0 -3.1 0M240.7 113.8a1.55 1.55 0 1 0 3.1 0a1.55 1.55 0 1 0 -3.1 0M244.4 111.4a1.55 1.55 0 1 0 3.1 0a1.55 1.55 0 1 0 -3.1 0M257.6 112.0a1.55 1.55 0 1 0 3.1 0a1.55 1.55 0 1 0 -3.1 0M249.1 105.6a1.55 1.55 0 1 0 3.1 0a1.55 1.55 0 1 0 -3.1 0M254.8 112.9a1.55 1.55 0 1 0 3.1 0a1.55 1.55 0 1 0 -3.1 0M205.0 119.7a1.55 1.55 0 1 0 3.1 0a1.55 1.55 0 1 0 -3.1 0M213.1 116.3a1.55 1.55 0 1 0 3.1 0a1.55 1.55 0 1 0 -3.1 0M240.2 121.6a1.55 1.55 0 1 0 3.1 0a1.55 1.55 0 1 0 -3.1 0M247.3 117.5a1.55 1.55 0 1 0 3.1 0a1.55 1.55 0 1 0 -3.1 0M254.1 122.2a1.55 1.55 0 1 0 3.1 0a1.55 1.55 0 1 0 -3.1 0M250.4 122.9a1.55 1.55 0 1 0 3.1 0a1.55 1.55 0 1 0 -3.1 0M257.4 119.0a1.55 1.55 0 1 0 3.1 0a1.55 1.55 0 1 0 -3.1 0M239.7 131.8a1.55 1.55 0 1 0 3.1 0a1.55 1.55 0 1 0 -3.1 0M255.4 134.3a1.55 1.55 0 1 0 3.1 0a1.55 1.55 0 1 0 -3.1 0M254.0 126.5a1.55 1.55 0 1 0 3.1 0a1.55 1.55 0 1 0 -3.1 0M209.8 140.4a1.55 1.55 0 1 0 3.1 0a1.55 1.55 0 1 0 -3.1 0M216.2 136.5a1.55 1.55 0 1 0 3.1 0a1.55 1.55 0 1 0 -3.1 0M219.1 136.5a1.55 1.55 0 1 0 3.1 0a1.55 1.55 0 1 0 -3.1 0M226.2 137.2a1.55 1.55 0 1 0 3.1 0a1.55 1.55 0 1 0 -3.1 0M256.0 143.3a1.55 1.55 0 1 0 3.1 0a1.55 1.55 0 1 0 -3.1 0M250.6 143.3a1.55 1.55 0 1 0 3.1 0a1.55 1.55 0 1 0 -3.1 0M257.9 138.2a1.55 1.55 0 1 0 3.1 0a1.55 1.55 0 1 0 -3.1 0M225.3 152.7a1.55 1.55 0 1 0 3.1 0a1.55 1.55 0 1 0 -3.1 0M224.3 149.6a1.55 1.55 0 1 0 3.1 0a1.55 1.55 0 1 0 -3.1 0M227.4 149.5a1.55 1.55 0 1 0 3.1 0a1.55 1.55 0 1 0 -3.1 0M243.9 146.3a1.55 1.55 0 1 0 3.1 0a1.55 1.55 0 1 0 -3.1 0M243.1 152.1a1.55 1.55 0 1 0 3.1 0a1.55 1.55 0 1 0 -3.1 0M203.4 162.5a1.55 1.55 0 1 0 3.1 0a1.55 1.55 0 1 0 -3.1 0M207.1 162.3a1.55 1.55 0 1 0 3.1 0a1.55 1.55 0 1 0 -3.1 0M204.7 157.3a1.55 1.55 0 1 0 3.1 0a1.55 1.55 0 1 0 -3.1 0M236.0 162.6a1.55 1.55 0 1 0 3.1 0a1.55 1.55 0 1 0 -3.1 0M242.7 160.9a1.55 1.55 0 1 0 3.1 0a1.55 1.55 0 1 0 -3.1 0M264.2 110.7a1.55 1.55 0 1 0 3.1 0a1.55 1.55 0 1 0 -3.1 0M259.4 109.0a1.55 1.55 0 1 0 3.1 0a1.55 1.55 0 1 0 -3.1 0M277.3 107.5a1.55 1.55 0 1 0 3.1 0a1.55 1.55 0 1 0 -3.1 0M275.0 113.9a1.55 1.55 0 1 0 3.1 0a1.55 1.55 0 1 0 -3.1 0M271.3 106.9a1.55 1.55 0 1 0 3.1 0a1.55 1.55 0 1 0 -3.1 0M281.0 112.1a1.55 1.55 0 1 0 3.1 0a1.55 1.55 0 1 0 -3.1 0M296.8 109.7a1.55 1.55 0 1 0 3.1 0a1.55 1.55 0 1 0 -3.1 0M290.7 106.6a1.55 1.55 0 1 0 3.1 0a1.55 1.55 0 1 0 -3.1 0M302.9 106.3a1.55 1.55 0 1 0 3.1 0a1.55 1.55 0 1 0 -3.1 0M265.8 121.0a1.55 1.55 0 1 0 3.1 0a1.55 1.55 0 1 0 -3.1 0M267.0 124.1a1.55 1.55 0 1 0 3.1 0a1.55 1.55 0 1 0 -3.1 0M261.9 123.1a1.55 1.55 0 1 0 3.1 0a1.55 1.55 0 1 0 -3.1 0M269.7 122.5a1.55 1.55 0 1 0 3.1 0a1.55 1.55 0 1 0 -3.1 0M279.0 115.9a1.55 1.55 0 1 0 3.1 0a1.55 1.55 0 1 0 -3.1 0M297.1 117.8a1.55 1.55 0 1 0 3.1 0a1.55 1.55 0 1 0 -3.1 0M290.2 116.9a1.55 1.55 0 1 0 3.1 0a1.55 1.55 0 1 0 -3.1 0M290.3 120.8a1.55 1.55 0 1 0 3.1 0a1.55 1.55 0 1 0 -3.1 0M303.5 119.9a1.55 1.55 0 1 0 3.1 0a1.55 1.55 0 1 0 -3.1 0M300.7 121.5a1.55 1.55 0 1 0 3.1 0a1.55 1.55 0 1 0 -3.1 0M303.4 122.8a1.55 1.55 0 1 0 3.1 0a1.55 1.55 0 1 0 -3.1 0M317.2 123.2a1.55 1.55 0 1 0 3.1 0a1.55 1.55 0 1 0 -3.1 0M311.9 123.2a1.55 1.55 0 1 0 3.1 0a1.55 1.55 0 1 0 -3.1 0M317.0 119.3a1.55 1.55 0 1 0 3.1 0a1.55 1.55 0 1 0 -3.1 0M276.0 132.0a1.55 1.55 0 1 0 3.1 0a1.55 1.55 0 1 0 -3.1 0M270.0 127.5a1.55 1.55 0 1 0 3.1 0a1.55 1.55 0 1 0 -3.1 0M269.9 131.8a1.55 1.55 0 1 0 3.1 0a1.55 1.55 0 1 0 -3.1 0M276.0 134.5a1.55 1.55 0 1 0 3.1 0a1.55 1.55 0 1 0 -3.1 0M291.9 128.4a1.55 1.55 0 1 0 3.1 0a1.55 1.55 0 1 0 -3.1 0M296.5 128.3a1.55 1.55 0 1 0 3.1 0a1.55 1.55 0 1 0 -3.1 0M307.8 127.2a1.55 1.55 0 1 0 3.1 0a1.55 1.55 0 1 0 -3.1 0M266.7 141.6a1.55 1.55 0 1 0 3.1 0a1.55 1.55 0 1 0 -3.1 0M262.8 144.3a1.55 1.55 0 1 0 3.1 0a1.55 1.55 0 1 0 -3.1 0M267.5 144.1a1.55 1.55 0 1 0 3.1 0a1.55 1.55 0 1 0 -3.1 0M269.7 138.5a1.55 1.55 0 1 0 3.1 0a1.55 1.55 0 1 0 -3.1 0M277.4 143.3a1.55 1.55 0 1 0 3.1 0a1.55 1.55 0 1 0 -3.1 0M282.7 142.4a1.55 1.55 0 1 0 3.1 0a1.55 1.55 0 1 0 -3.1 0M290.0 137.5a1.55 1.55 0 1 0 3.1 0a1.55 1.55 0 1 0 -3.1 0M294.9 136.7a1.55 1.55 0 1 0 3.1 0a1.55 1.55 0 1 0 -3.1 0M300.1 137.4a1.55 1.55 0 1 0 3.1 0a1.55 1.55 0 1 0 -3.1 0M302.3 139.1a1.55 1.55 0 1 0 3.1 0a1.55 1.55 0 1 0 -3.1 0M302.4 144.2a1.55 1.55 0 1 0 3.1 0a1.55 1.55 0 1 0 -3.1 0M313.1 139.7a1.55 1.55 0 1 0 3.1 0a1.55 1.55 0 1 0 -3.1 0M310.2 142.0a1.55 1.55 0 1 0 3.1 0a1.55 1.55 0 1 0 -3.1 0M316.5 144.0a1.55 1.55 0 1 0 3.1 0a1.55 1.55 0 1 0 -3.1 0M272.8 151.0a1.55 1.55 0 1 0 3.1 0a1.55 1.55 0 1 0 -3.1 0M280.2 152.3a1.55 1.55 0 1 0 3.1 0a1.55 1.55 0 1 0 -3.1 0M285.0 149.2a1.55 1.55 0 1 0 3.1 0a1.55 1.55 0 1 0 -3.1 0M287.5 150.1a1.55 1.55 0 1 0 3.1 0a1.55 1.55 0 1 0 -3.1 0M294.5 149.0a1.55 1.55 0 1 0 3.1 0a1.55 1.55 0 1 0 -3.1 0M297.7 147.8a1.55 1.55 0 1 0 3.1 0a1.55 1.55 0 1 0 -3.1 0M303.2 151.6a1.55 1.55 0 1 0 3.1 0a1.55 1.55 0 1 0 -3.1 0M300.3 146.6a1.55 1.55 0 1 0 3.1 0a1.55 1.55 0 1 0 -3.1 0M312.8 154.3a1.55 1.55 0 1 0 3.1 0a1.55 1.55 0 1 0 -3.1 0M310.3 150.8a1.55 1.55 0 1 0 3.1 0a1.55 1.55 0 1 0 -3.1 0M259.8 162.0a1.55 1.55 0 1 0 3.1 0a1.55 1.55 0 1 0 -3.1 0M263.5 162.4a1.55 1.55 0 1 0 3.1 0a1.55 1.55 0 1 0 -3.1 0M274.0 157.3a1.55 1.55 0 1 0 3.1 0a1.55 1.55 0 1 0 -3.1 0M276.1 159.9a1.55 1.55 0 1 0 3.1 0a1.55 1.55 0 1 0 -3.1 0M275.8 163.8a1.55 1.55 0 1 0 3.1 0a1.55 1.55 0 1 0 -3.1 0M287.8 160.8a1.55 1.55 0 1 0 3.1 0a1.55 1.55 0 1 0 -3.1 0M281.2 158.5a1.55 1.55 0 1 0 3.1 0a1.55 1.55 0 1 0 -3.1 0M284.8 157.1a1.55 1.55 0 1 0 3.1 0a1.55 1.55 0 1 0 -3.1 0M297.9 161.1a1.55 1.55 0 1 0 3.1 0a1.55 1.55 0 1 0 -3.1 0M304.7 159.5a1.55 1.55 0 1 0 3.1 0a1.55 1.55 0 1 0 -3.1 0M309.2 163.1a1.55 1.55 0 1 0 3.1 0a1.55 1.55 0 1 0 -3.1 0M321.4 110.3a1.55 1.55 0 1 0 3.1 0a1.55 1.55 0 1 0 -3.1 0M330.2 105.9a1.55 1.55 0 1 0 3.1 0a1.55 1.55 0 1 0 -3.1 0M319.7 118.7a1.55 1.55 0 1 0 3.1 0a1.55 1.55 0 1 0 -3.1 0M326.8 123.7a1.55 1.55 0 1 0 3.1 0a1.55 1.55 0 1 0 -3.1 0M333.5 121.4a1.55 1.55 0 1 0 3.1 0a1.55 1.55 0 1 0 -3.1 0M333.4 119.1a1.55 1.55 0 1 0 3.1 0a1.55 1.55 0 1 0 -3.1 0M336.5 118.2a1.55 1.55 0 1 0 3.1 0a1.55 1.55 0 1 0 -3.1 0M341.5 120.7a1.55 1.55 0 1 0 3.1 0a1.55 1.55 0 1 0 -3.1 0M345.9 116.5a1.55 1.55 0 1 0 3.1 0a1.55 1.55 0 1 0 -3.1 0M355.4 119.9a1.55 1.55 0 1 0 3.1 0a1.55 1.55 0 1 0 -3.1 0M323.2 132.6a1.55 1.55 0 1 0 3.1 0a1.55 1.55 0 1 0 -3.1 0M341.2 130.0a1.55 1.55 0 1 0 3.1 0a1.55 1.55 0 1 0 -3.1 0M343.8 130.8a1.55 1.55 0 1 0 3.1 0a1.55 1.55 0 1 0 -3.1 0M320.2 137.1a1.55 1.55 0 1 0 3.1 0a1.55 1.55 0 1 0 -3.1 0M329.1 140.3a1.55 1.55 0 1 0 3.1 0a1.55 1.55 0 1 0 -3.1 0M346.8 138.4a1.55 1.55 0 1 0 3.1 0a1.55 1.55 0 1 0 -3.1 0M356.6 139.4a1.55 1.55 0 1 0 3.1 0a1.55 1.55 0 1 0 -3.1 0M321.4 145.9a1.55 1.55 0 1 0 3.1 0a1.55 1.55 0 1 0 -3.1 0M335.5 151.4a1.55 1.55 0 1 0 3.1 0a1.55 1.55 0 1 0 -3.1 0M340.5 151.3a1.55 1.55 0 1 0 3.1 0a1.55 1.55 0 1 0 -3.1 0M341.7 153.9a1.55 1.55 0 1 0 3.1 0a1.55 1.55 0 1 0 -3.1 0M350.9 151.4a1.55 1.55 0 1 0 3.1 0a1.55 1.55 0 1 0 -3.1 0M352.1 149.0a1.55 1.55 0 1 0 3.1 0a1.55 1.55 0 1 0 -3.1 0M320.7 162.3a1.55 1.55 0 1 0 3.1 0a1.55 1.55 0 1 0 -3.1 0M325.1 157.0a1.55 1.55 0 1 0 3.1 0a1.55 1.55 0 1 0 -3.1 0M327.1 164.5a1.55 1.55 0 1 0 3.1 0a1.55 1.55 0 1 0 -3.1 0M335.3 158.8a1.55 1.55 0 1 0 3.1 0a1.55 1.55 0 1 0 -3.1 0M346.9 156.0a1.55 1.55 0 1 0 3.1 0a1.55 1.55 0 1 0 -3.1 0M349.6 158.4a1.55 1.55 0 1 0 3.1 0a1.55 1.55 0 1 0 -3.1 0M150.5 168.6a1.55 1.55 0 1 0 3.1 0a1.55 1.55 0 1 0 -3.1 0M163.7 173.1a1.55 1.55 0 1 0 3.1 0a1.55 1.55 0 1 0 -3.1 0M197.5 167.7a1.55 1.55 0 1 0 3.1 0a1.55 1.55 0 1 0 -3.1 0M146.0 178.8a1.55 1.55 0 1 0 3.1 0a1.55 1.55 0 1 0 -3.1 0M167.1 186.4a1.55 1.55 0 1 0 3.1 0a1.55 1.55 0 1 0 -3.1 0M163.9 190.4a1.55 1.55 0 1 0 3.1 0a1.55 1.55 0 1 0 -3.1 0M185.2 193.7a1.55 1.55 0 1 0 3.1 0a1.55 1.55 0 1 0 -3.1 0M183.2 192.6a1.55 1.55 0 1 0 3.1 0a1.55 1.55 0 1 0 -3.1 0M189.5 192.8a1.55 1.55 0 1 0 3.1 0a1.55 1.55 0 1 0 -3.1 0M180.3 200.7a1.55 1.55 0 1 0 3.1 0a1.55 1.55 0 1 0 -3.1 0M183.1 198.1a1.55 1.55 0 1 0 3.1 0a1.55 1.55 0 1 0 -3.1 0M191.5 198.8a1.55 1.55 0 1 0 3.1 0a1.55 1.55 0 1 0 -3.1 0M193.4 203.6a1.55 1.55 0 1 0 3.1 0a1.55 1.55 0 1 0 -3.1 0M189.9 200.7a1.55 1.55 0 1 0 3.1 0a1.55 1.55 0 1 0 -3.1 0M194.6 197.8a1.55 1.55 0 1 0 3.1 0a1.55 1.55 0 1 0 -3.1 0M163.1 208.8a1.55 1.55 0 1 0 3.1 0a1.55 1.55 0 1 0 -3.1 0M166.8 208.8a1.55 1.55 0 1 0 3.1 0a1.55 1.55 0 1 0 -3.1 0M190.2 213.0a1.55 1.55 0 1 0 3.1 0a1.55 1.55 0 1 0 -3.1 0M196.2 215.7a1.55 1.55 0 1 0 3.1 0a1.55 1.55 0 1 0 -3.1 0M192.6 217.8a1.55 1.55 0 1 0 3.1 0a1.55 1.55 0 1 0 -3.1 0M199.8 168.2a1.55 1.55 0 1 0 3.1 0a1.55 1.55 0 1 0 -3.1 0M233.2 171.9a1.55 1.55 0 1 0 3.1 0a1.55 1.55 0 1 0 -3.1 0M247.0 174.4a1.55 1.55 0 1 0 3.1 0a1.55 1.55 0 1 0 -3.1 0M233.8 180.5a1.55 1.55 0 1 0 3.1 0a1.55 1.55 0 1 0 -3.1 0M230.9 177.8a1.55 1.55 0 1 0 3.1 0a1.55 1.55 0 1 0 -3.1 0M234.6 177.1a1.55 1.55 0 1 0 3.1 0a1.55 1.55 0 1 0 -3.1 0M236.0 183.4a1.55 1.55 0 1 0 3.1 0a1.55 1.55 0 1 0 -3.1 0M199.7 187.4a1.55 1.55 0 1 0 3.1 0a1.55 1.55 0 1 0 -3.1 0M211.7 187.1a1.55 1.55 0 1 0 3.1 0a1.55 1.55 0 1 0 -3.1 0M212.7 189.3a1.55 1.55 0 1 0 3.1 0a1.55 1.55 0 1 0 -3.1 0M209.9 191.4a1.55 1.55 0 1 0 3.1 0a1.55 1.55 0 1 0 -3.1 0M227.3 191.9a1.55 1.55 0 1 0 3.1 0a1.55 1.55 0 1 0 -3.1 0M237.2 190.3a1.55 1.55 0 1 0 3.1 0a1.55 1.55 0 1 0 -3.1 0M231.3 185.8a1.55 1.55 0 1 0 3.1 0a1.55 1.55 0 1 0 -3.1 0M234.1 193.9a1.55 1.55 0 1 0 3.1 0a1.55 1.55 0 1 0 -3.1 0M257.6 185.9a1.55 1.55 0 1 0 3.1 0a1.55 1.55 0 1 0 -3.1 0M232.3 201.8a1.55 1.55 0 1 0 3.1 0a1.55 1.55 0 1 0 -3.1 0M233.8 204.0a1.55 1.55 0 1 0 3.1 0a1.55 1.55 0 1 0 -3.1 0M253.5 204.3a1.55 1.55 0 1 0 3.1 0a1.55 1.55 0 1 0 -3.1 0M249.5 202.2a1.55 1.55 0 1 0 3.1 0a1.55 1.55 0 1 0 -3.1 0M204.4 210.6a1.55 1.55 0 1 0 3.1 0a1.55 1.55 0 1 0 -3.1 0M217.9 214.2a1.55 1.55 0 1 0 3.1 0a1.55 1.55 0 1 0 -3.1 0M212.3 213.6a1.55 1.55 0 1 0 3.1 0a1.55 1.55 0 1 0 -3.1 0M215.2 206.2a1.55 1.55 0 1 0 3.1 0a1.55 1.55 0 1 0 -3.1 0M217.1 208.0a1.55 1.55 0 1 0 3.1 0a1.55 1.55 0 1 0 -3.1 0M210.2 212.1a1.55 1.55 0 1 0 3.1 0a1.55 1.55 0 1 0 -3.1 0M225.6 212.8a1.55 1.55 0 1 0 3.1 0a1.55 1.55 0 1 0 -3.1 0M236.9 212.2a1.55 1.55 0 1 0 3.1 0a1.55 1.55 0 1 0 -3.1 0M252.5 210.7a1.55 1.55 0 1 0 3.1 0a1.55 1.55 0 1 0 -3.1 0M257.7 207.7a1.55 1.55 0 1 0 3.1 0a1.55 1.55 0 1 0 -3.1 0M256.6 211.4a1.55 1.55 0 1 0 3.1 0a1.55 1.55 0 1 0 -3.1 0M216.4 216.8a1.55 1.55 0 1 0 3.1 0a1.55 1.55 0 1 0 -3.1 0M210.5 217.4a1.55 1.55 0 1 0 3.1 0a1.55 1.55 0 1 0 -3.1 0M215.9 221.6a1.55 1.55 0 1 0 3.1 0a1.55 1.55 0 1 0 -3.1 0M211.1 220.0a1.55 1.55 0 1 0 3.1 0a1.55 1.55 0 1 0 -3.1 0M226.9 223.0a1.55 1.55 0 1 0 3.1 0a1.55 1.55 0 1 0 -3.1 0M226.9 219.4a1.55 1.55 0 1 0 3.1 0a1.55 1.55 0 1 0 -3.1 0M237.1 216.2a1.55 1.55 0 1 0 3.1 0a1.55 1.55 0 1 0 -3.1 0M243.0 215.5a1.55 1.55 0 1 0 3.1 0a1.55 1.55 0 1 0 -3.1 0M240.2 223.6a1.55 1.55 0 1 0 3.1 0a1.55 1.55 0 1 0 -3.1 0M243.8 224.3a1.55 1.55 0 1 0 3.1 0a1.55 1.55 0 1 0 -3.1 0M253.8 217.4a1.55 1.55 0 1 0 3.1 0a1.55 1.55 0 1 0 -3.1 0M266.9 167.6a1.55 1.55 0 1 0 3.1 0a1.55 1.55 0 1 0 -3.1 0M264.3 173.9a1.55 1.55 0 1 0 3.1 0a1.55 1.55 0 1 0 -3.1 0M270.2 170.8a1.55 1.55 0 1 0 3.1 0a1.55 1.55 0 1 0 -3.1 0M275.9 168.6a1.55 1.55 0 1 0 3.1 0a1.55 1.55 0 1 0 -3.1 0M271.4 168.6a1.55 1.55 0 1 0 3.1 0a1.55 1.55 0 1 0 -3.1 0M283.1 165.6a1.55 1.55 0 1 0 3.1 0a1.55 1.55 0 1 0 -3.1 0M280.3 170.0a1.55 1.55 0 1 0 3.1 0a1.55 1.55 0 1 0 -3.1 0M283.2 168.2a1.55 1.55 0 1 0 3.1 0a1.55 1.55 0 1 0 -3.1 0M293.2 167.9a1.55 1.55 0 1 0 3.1 0a1.55 1.55 0 1 0 -3.1 0M305.2 165.8a1.55 1.55 0 1 0 3.1 0a1.55 1.55 0 1 0 -3.1 0M311.0 167.5a1.55 1.55 0 1 0 3.1 0a1.55 1.55 0 1 0 -3.1 0M266.3 177.3a1.55 1.55 0 1 0 3.1 0a1.55 1.55 0 1 0 -3.1 0M259.8 183.1a1.55 1.55 0 1 0 3.1 0a1.55 1.55 0 1 0 -3.1 0M273.9 180.3a1.55 1.55 0 1 0 3.1 0a1.55 1.55 0 1 0 -3.1 0M270.3 183.1a1.55 1.55 0 1 0 3.1 0a1.55 1.55 0 1 0 -3.1 0M276.3 182.5a1.55 1.55 0 1 0 3.1 0a1.55 1.55 0 1 0 -3.1 0M284.3 178.1a1.55 1.55 0 1 0 3.1 0a1.55 1.55 0 1 0 -3.1 0M285.0 182.8a1.55 1.55 0 1 0 3.1 0a1.55 1.55 0 1 0 -3.1 0M290.4 180.4a1.55 1.55 0 1 0 3.1 0a1.55 1.55 0 1 0 -3.1 0M296.5 181.5a1.55 1.55 0 1 0 3.1 0a1.55 1.55 0 1 0 -3.1 0M300.6 175.8a1.55 1.55 0 1 0 3.1 0a1.55 1.55 0 1 0 -3.1 0M311.7 180.7a1.55 1.55 0 1 0 3.1 0a1.55 1.55 0 1 0 -3.1 0M310.7 183.7a1.55 1.55 0 1 0 3.1 0a1.55 1.55 0 1 0 -3.1 0M259.8 191.5a1.55 1.55 0 1 0 3.1 0a1.55 1.55 0 1 0 -3.1 0M262.8 187.4a1.55 1.55 0 1 0 3.1 0a1.55 1.55 0 1 0 -3.1 0M272.1 188.5a1.55 1.55 0 1 0 3.1 0a1.55 1.55 0 1 0 -3.1 0M271.8 186.2a1.55 1.55 0 1 0 3.1 0a1.55 1.55 0 1 0 -3.1 0M286.2 191.7a1.55 1.55 0 1 0 3.1 0a1.55 1.55 0 1 0 -3.1 0M281.2 189.3a1.55 1.55 0 1 0 3.1 0a1.55 1.55 0 1 0 -3.1 0M293.1 193.7a1.55 1.55 0 1 0 3.1 0a1.55 1.55 0 1 0 -3.1 0M305.8 190.1a1.55 1.55 0 1 0 3.1 0a1.55 1.55 0 1 0 -3.1 0M303.8 191.7a1.55 1.55 0 1 0 3.1 0a1.55 1.55 0 1 0 -3.1 0M312.0 186.9a1.55 1.55 0 1 0 3.1 0a1.55 1.55 0 1 0 -3.1 0M265.0 198.4a1.55 1.55 0 1 0 3.1 0a1.55 1.55 0 1 0 -3.1 0M267.3 200.0a1.55 1.55 0 1 0 3.1 0a1.55 1.55 0 1 0 -3.1 0M283.9 195.8a1.55 1.55 0 1 0 3.1 0a1.55 1.55 0 1 0 -3.1 0M290.5 198.8a1.55 1.55 0 1 0 3.1 0a1.55 1.55 0 1 0 -3.1 0M266.1 210.8a1.55 1.55 0 1 0 3.1 0a1.55 1.55 0 1 0 -3.1 0M262.7 210.5a1.55 1.55 0 1 0 3.1 0a1.55 1.55 0 1 0 -3.1 0M261.8 212.8a1.55 1.55 0 1 0 3.1 0a1.55 1.55 0 1 0 -3.1 0M286.1 207.4a1.55 1.55 0 1 0 3.1 0a1.55 1.55 0 1 0 -3.1 0M283.8 212.3a1.55 1.55 0 1 0 3.1 0a1.55 1.55 0 1 0 -3.1 0M279.7 213.7a1.55 1.55 0 1 0 3.1 0a1.55 1.55 0 1 0 -3.1 0M291.1 210.2a1.55 1.55 0 1 0 3.1 0a1.55 1.55 0 1 0 -3.1 0M260.6 217.7a1.55 1.55 0 1 0 3.1 0a1.55 1.55 0 1 0 -3.1 0M262.9 222.9a1.55 1.55 0 1 0 3.1 0a1.55 1.55 0 1 0 -3.1 0M270.0 217.6a1.55 1.55 0 1 0 3.1 0a1.55 1.55 0 1 0 -3.1 0M273.3 223.9a1.55 1.55 0 1 0 3.1 0a1.55 1.55 0 1 0 -3.1 0M284.6 218.7a1.55 1.55 0 1 0 3.1 0a1.55 1.55 0 1 0 -3.1 0M280.5 218.0a1.55 1.55 0 1 0 3.1 0a1.55 1.55 0 1 0 -3.1 0M289.1 224.0a1.55 1.55 0 1 0 3.1 0a1.55 1.55 0 1 0 -3.1 0M297.8 220.4a1.55 1.55 0 1 0 3.1 0a1.55 1.55 0 1 0 -3.1 0M295.2 216.6a1.55 1.55 0 1 0 3.1 0a1.55 1.55 0 1 0 -3.1 0M326.1 172.6a1.55 1.55 0 1 0 3.1 0a1.55 1.55 0 1 0 -3.1 0M321.4 173.3a1.55 1.55 0 1 0 3.1 0a1.55 1.55 0 1 0 -3.1 0M331.7 174.2a1.55 1.55 0 1 0 3.1 0a1.55 1.55 0 1 0 -3.1 0M347.6 173.9a1.55 1.55 0 1 0 3.1 0a1.55 1.55 0 1 0 -3.1 0M356.4 172.6a1.55 1.55 0 1 0 3.1 0a1.55 1.55 0 1 0 -3.1 0M354.7 169.7a1.55 1.55 0 1 0 3.1 0a1.55 1.55 0 1 0 -3.1 0M367.3 167.2a1.55 1.55 0 1 0 3.1 0a1.55 1.55 0 1 0 -3.1 0M363.4 166.0a1.55 1.55 0 1 0 3.1 0a1.55 1.55 0 1 0 -3.1 0M335.1 179.6a1.55 1.55 0 1 0 3.1 0a1.55 1.55 0 1 0 -3.1 0M351.8 179.6a1.55 1.55 0 1 0 3.1 0a1.55 1.55 0 1 0 -3.1 0M326.2 191.4a1.55 1.55 0 1 0 3.1 0a1.55 1.55 0 1 0 -3.1 0M354.5 186.0a1.55 1.55 0 1 0 3.1 0a1.55 1.55 0 1 0 -3.1 0M306.3 257.2a1.55 1.55 0 1 0 3.1 0a1.55 1.55 0 1 0 -3.1 0M242.1 54.7a1.55 1.55 0 1 0 3.1 0a1.55 1.55 0 1 0 -3.1 0M244.4 56.8a1.55 1.55 0 1 0 3.1 0a1.55 1.55 0 1 0 -3.1 0M246.8 56.4a1.55 1.55 0 1 0 3.1 0a1.55 1.55 0 1 0 -3.1 0M239.1 58.6a1.55 1.55 0 1 0 3.1 0a1.55 1.55 0 1 0 -3.1 0M233.9 61.0a1.55 1.55 0 1 0 3.1 0a1.55 1.55 0 1 0 -3.1 0M234.5 63.3a1.55 1.55 0 1 0 3.1 0a1.55 1.55 0 1 0 -3.1 0M229.2 68.6a1.55 1.55 0 1 0 3.1 0a1.55 1.55 0 1 0 -3.1 0M190.3 225.9a1.55 1.55 0 1 0 3.1 0a1.55 1.55 0 1 0 -3.1 0M201.3 225.5a1.55 1.55 0 1 0 3.1 0a1.55 1.55 0 1 0 -3.1 0M236.9 228.3a1.55 1.55 0 1 0 3.1 0a1.55 1.55 0 1 0 -3.1 0M190.3 233.2a1.55 1.55 0 1 0 3.1 0a1.55 1.55 0 1 0 -3.1 0M192.1 236.3a1.55 1.55 0 1 0 3.1 0a1.55 1.55 0 1 0 -3.1 0M204.6 240.5a1.55 1.55 0 1 0 3.1 0a1.55 1.55 0 1 0 -3.1 0M199.4 248.4a1.55 1.55 0 1 0 3.1 0a1.55 1.55 0 1 0 -3.1 0M204.0 247.9a1.55 1.55 0 1 0 3.1 0a1.55 1.55 0 1 0 -3.1 0M193.9 252.4a1.55 1.55 0 1 0 3.1 0a1.55 1.55 0 1 0 -3.1 0M198.2 251.0a1.55 1.55 0 1 0 3.1 0a1.55 1.55 0 1 0 -3.1 0M206.8 250.6a1.55 1.55 0 1 0 3.1 0a1.55 1.55 0 1 0 -3.1 0M225.6 241.5a1.55 1.55 0 1 0 3.1 0a1.55 1.55 0 1 0 -3.1 0M229.6 242.9a1.55 1.55 0 1 0 3.1 0a1.55 1.55 0 1 0 -3.1 0M236.0 240.5a1.55 1.55 0 1 0 3.1 0a1.55 1.55 0 1 0 -3.1 0M236.9 243.3a1.55 1.55 0 1 0 3.1 0a1.55 1.55 0 1 0 -3.1 0M227.4 247.3a1.55 1.55 0 1 0 3.1 0a1.55 1.55 0 1 0 -3.1 0M236.0 264.9a1.55 1.55 0 1 0 3.1 0a1.55 1.55 0 1 0 -3.1 0M232.9 267.4a1.55 1.55 0 1 0 3.1 0a1.55 1.55 0 1 0 -3.1 0M237.8 268.9a1.55 1.55 0 1 0 3.1 0a1.55 1.55 0 1 0 -3.1 0M241.1 229.0a1.55 1.55 0 1 0 3.1 0a1.55 1.55 0 1 0 -3.1 0M253.9 228.3a1.55 1.55 0 1 0 3.1 0a1.55 1.55 0 1 0 -3.1 0M269.6 233.2a1.55 1.55 0 1 0 3.1 0a1.55 1.55 0 1 0 -3.1 0M274.1 234.1a1.55 1.55 0 1 0 3.1 0a1.55 1.55 0 1 0 -3.1 0M278.6 235.1a1.55 1.55 0 1 0 3.1 0a1.55 1.55 0 1 0 -3.1 0M290.6 236.0a1.55 1.55 0 1 0 3.1 0a1.55 1.55 0 1 0 -3.1 0M296.9 238.7a1.55 1.55 0 1 0 3.1 0a1.55 1.55 0 1 0 -3.1 0M279.6 240.5a1.55 1.55 0 1 0 3.1 0a1.55 1.55 0 1 0 -3.1 0M277.2 244.2a1.55 1.55 0 1 0 3.1 0a1.55 1.55 0 1 0 -3.1 0M286.3 245.1a1.55 1.55 0 1 0 3.1 0a1.55 1.55 0 1 0 -3.1 0M288.8 247.3a1.55 1.55 0 1 0 3.1 0a1.55 1.55 0 1 0 -3.1 0M279.1 248.4a1.55 1.55 0 1 0 3.1 0a1.55 1.55 0 1 0 -3.1 0M247.9 246.0a1.55 1.55 0 1 0 3.1 0a1.55 1.55 0 1 0 -3.1 0M238.8 268.0a1.55 1.55 0 1 0 3.1 0a1.55 1.55 0 1 0 -3.1 0M267.3 259.4a1.55 1.55 0 1 0 3.1 0a1.55 1.55 0 1 0 -3.1 0M263.1 272.6a1.55 1.55 0 1 0 3.1 0a1.55 1.55 0 1 0 -3.1 0M261.3 280.8a1.55 1.55 0 1 0 3.1 0a1.55 1.55 0 1 0 -3.1 0M318.2 195.9a1.55 1.55 0 1 0 3.1 0a1.55 1.55 0 1 0 -3.1 0M322.2 197.2a1.55 1.55 0 1 0 3.1 0a1.55 1.55 0 1 0 -3.1 0M343.8 197.2a1.55 1.55 0 1 0 3.1 0a1.55 1.55 0 1 0 -3.1 0M307.9 202.3a1.55 1.55 0 1 0 3.1 0a1.55 1.55 0 1 0 -3.1 0M320.1 200.9a1.55 1.55 0 1 0 3.1 0a1.55 1.55 0 1 0 -3.1 0M344.6 202.3a1.55 1.55 0 1 0 3.1 0a1.55 1.55 0 1 0 -3.1 0M302.4 208.2a1.55 1.55 0 1 0 3.1 0a1.55 1.55 0 1 0 -3.1 0M301.1 214.2a1.55 1.55 0 1 0 3.1 0a1.55 1.55 0 1 0 -3.1 0M307.6 220.6a1.55 1.55 0 1 0 3.1 0a1.55 1.55 0 1 0 -3.1 0M318.9 222.4a1.55 1.55 0 1 0 3.1 0a1.55 1.55 0 1 0 -3.1 0M321.8 225.2a1.55 1.55 0 1 0 3.1 0a1.55 1.55 0 1 0 -3.1 0M337.8 226.1a1.55 1.55 0 1 0 3.1 0a1.55 1.55 0 1 0 -3.1 0M341.4 225.7a1.55 1.55 0 1 0 3.1 0a1.55 1.55 0 1 0 -3.1 0M303.6 226.5a1.55 1.55 0 1 0 3.1 0a1.55 1.55 0 1 0 -3.1 0M318.2 228.3a1.55 1.55 0 1 0 3.1 0a1.55 1.55 0 1 0 -3.1 0M311.2 231.0a1.55 1.55 0 1 0 3.1 0a1.55 1.55 0 1 0 -3.1 0M298.8 238.5a1.55 1.55 0 1 0 3.1 0a1.55 1.55 0 1 0 -3.1 0M321.8 240.4a1.55 1.55 0 1 0 3.1 0a1.55 1.55 0 1 0 -3.1 0M325.6 242.9a1.55 1.55 0 1 0 3.1 0a1.55 1.55 0 1 0 -3.1 0M321.8 246.2a1.55 1.55 0 1 0 3.1 0a1.55 1.55 0 1 0 -3.1 0" fill="#449a64" stroke="#fff" stroke-width="0.3"/>
<path d="M247.3 52.6a1.55 1.55 0 1 0 3.1 0a1.55 1.55 0 1 0 -3.1 0M245.9 54.3a1.55 1.55 0 1 0 3.1 0a1.55 1.55 0 1 0 -3.1 0M236.0 58.6a1.55 1.55 0 1 0 3.1 0a1.55 1.55 0 1 0 -3.1 0M237.2 63.3a1.55 1.55 0 1 0 3.1 0a1.55 1.55 0 1 0 -3.1 0M315.1 66.6a1.55 1.55 0 1 0 3.1 0a1.55 1.55 0 1 0 -3.1 0M252.4 149.0a1.55 1.55 0 1 0 3.1 0a1.55 1.55 0 1 0 -3.1 0M224.9 156.2a1.55 1.55 0 1 0 3.1 0a1.55 1.55 0 1 0 -3.1 0M259.3 133.9a1.55 1.55 0 1 0 3.1 0a1.55 1.55 0 1 0 -3.1 0M275.2 140.1a1.55 1.55 0 1 0 3.1 0a1.55 1.55 0 1 0 -3.1 0M281.3 148.0a1.55 1.55 0 1 0 3.1 0a1.55 1.55 0 1 0 -3.1 0M266.1 155.9a1.55 1.55 0 1 0 3.1 0a1.55 1.55 0 1 0 -3.1 0M271.2 159.0a1.55 1.55 0 1 0 3.1 0a1.55 1.55 0 1 0 -3.1 0M219.4 169.0a1.55 1.55 0 1 0 3.1 0a1.55 1.55 0 1 0 -3.1 0M285.8 178.7a1.55 1.55 0 1 0 3.1 0a1.55 1.55 0 1 0 -3.1 0M302.3 174.1a1.55 1.55 0 1 0 3.1 0a1.55 1.55 0 1 0 -3.1 0" fill="#e65a54" stroke="#fff" stroke-width="0.3"/>
</svg></body></html>
